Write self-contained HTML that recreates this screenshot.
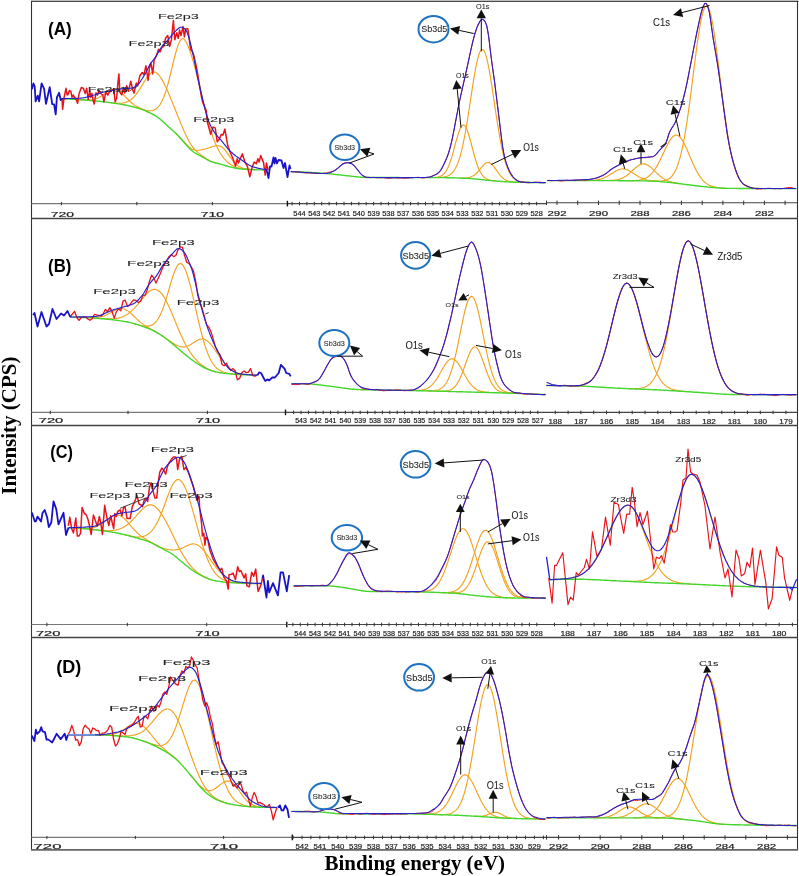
<!DOCTYPE html>
<html><head><meta charset="utf-8"><style>
html,body{margin:0;padding:0;background:#fff;width:799px;height:876px;overflow:hidden}
svg{display:block;will-change:transform}
</style></head><body>
<svg width="799" height="876" viewBox="0 0 799 876"><rect x="0" y="0" width="799" height="876" fill="#fff"/>
<line x1="31" y1="0.5" x2="798.5" y2="0.5" stroke="#bdbdbd" stroke-width="1"/>
<line x1="31" y1="1.5" x2="798.5" y2="1.5" stroke="#4a4a4a" stroke-width="1"/>
<line x1="31.5" y1="1" x2="31.5" y2="850.3" stroke="#333" stroke-width="1.1"/>
<line x1="797.5" y1="1" x2="797.5" y2="850.3" stroke="#333" stroke-width="1.1"/>
<line x1="31" y1="218.5" x2="798" y2="218.5" stroke="#444" stroke-width="1.3"/>
<line x1="31" y1="425.5" x2="798" y2="425.5" stroke="#444" stroke-width="1.3"/>
<line x1="31" y1="637.5" x2="798" y2="637.5" stroke="#444" stroke-width="1.3"/>
<line x1="31" y1="849.8" x2="798" y2="849.8" stroke="#666" stroke-width="1.8"/>
<line x1="31.5" y1="203.6" x2="287.5" y2="203.6" stroke="#777" stroke-width="1.1"/>
<line x1="61.4" y1="201.9" x2="61.4" y2="205.3" stroke="#333" stroke-width="1.0"/>
<line x1="136.8" y1="201.9" x2="136.8" y2="205.3" stroke="#333" stroke-width="1.0"/>
<line x1="212.4" y1="201.9" x2="212.4" y2="205.3" stroke="#333" stroke-width="1.0"/>
<line x1="287.4" y1="200.8" x2="287.4" y2="206.4" stroke="#111" stroke-width="1.4"/>
<text x="62.4" y="216.6" font-family="&quot;Liberation Sans&quot;, sans-serif" font-size="7.70" fill="#222" stroke="#222" stroke-width="0.2" text-anchor="middle" textLength="23.3" lengthAdjust="spacingAndGlyphs">720</text>
<text x="212.4" y="216.6" font-family="&quot;Liberation Sans&quot;, sans-serif" font-size="7.70" fill="#222" stroke="#222" stroke-width="0.2" text-anchor="middle" textLength="23.3" lengthAdjust="spacingAndGlyphs">710</text>
<line x1="288.0" y1="203.6" x2="546.0" y2="203.6" stroke="#444" stroke-width="1.1"/>
<line x1="292.1" y1="201.8" x2="292.1" y2="205.4" stroke="#333" stroke-width="1.0"/>
<line x1="299.5" y1="201.8" x2="299.5" y2="205.4" stroke="#333" stroke-width="1.0"/>
<line x1="306.9" y1="201.8" x2="306.9" y2="205.4" stroke="#333" stroke-width="1.0"/>
<line x1="314.3" y1="201.8" x2="314.3" y2="205.4" stroke="#333" stroke-width="1.0"/>
<line x1="321.7" y1="201.8" x2="321.7" y2="205.4" stroke="#333" stroke-width="1.0"/>
<line x1="329.1" y1="201.8" x2="329.1" y2="205.4" stroke="#333" stroke-width="1.0"/>
<line x1="336.6" y1="201.8" x2="336.6" y2="205.4" stroke="#333" stroke-width="1.0"/>
<line x1="344.0" y1="201.8" x2="344.0" y2="205.4" stroke="#333" stroke-width="1.0"/>
<line x1="351.4" y1="201.8" x2="351.4" y2="205.4" stroke="#333" stroke-width="1.0"/>
<line x1="358.8" y1="201.8" x2="358.8" y2="205.4" stroke="#333" stroke-width="1.0"/>
<line x1="366.2" y1="201.8" x2="366.2" y2="205.4" stroke="#333" stroke-width="1.0"/>
<line x1="373.6" y1="201.8" x2="373.6" y2="205.4" stroke="#333" stroke-width="1.0"/>
<line x1="381.0" y1="201.8" x2="381.0" y2="205.4" stroke="#333" stroke-width="1.0"/>
<line x1="388.4" y1="201.8" x2="388.4" y2="205.4" stroke="#333" stroke-width="1.0"/>
<line x1="395.8" y1="201.8" x2="395.8" y2="205.4" stroke="#333" stroke-width="1.0"/>
<line x1="403.2" y1="201.8" x2="403.2" y2="205.4" stroke="#333" stroke-width="1.0"/>
<line x1="410.6" y1="201.8" x2="410.6" y2="205.4" stroke="#333" stroke-width="1.0"/>
<line x1="418.1" y1="201.8" x2="418.1" y2="205.4" stroke="#333" stroke-width="1.0"/>
<line x1="425.5" y1="201.8" x2="425.5" y2="205.4" stroke="#333" stroke-width="1.0"/>
<line x1="432.9" y1="201.8" x2="432.9" y2="205.4" stroke="#333" stroke-width="1.0"/>
<line x1="440.3" y1="201.8" x2="440.3" y2="205.4" stroke="#333" stroke-width="1.0"/>
<line x1="447.7" y1="201.8" x2="447.7" y2="205.4" stroke="#333" stroke-width="1.0"/>
<line x1="455.1" y1="201.8" x2="455.1" y2="205.4" stroke="#333" stroke-width="1.0"/>
<line x1="462.5" y1="201.8" x2="462.5" y2="205.4" stroke="#333" stroke-width="1.0"/>
<line x1="469.9" y1="201.8" x2="469.9" y2="205.4" stroke="#333" stroke-width="1.0"/>
<line x1="477.3" y1="201.8" x2="477.3" y2="205.4" stroke="#333" stroke-width="1.0"/>
<line x1="484.8" y1="201.8" x2="484.8" y2="205.4" stroke="#333" stroke-width="1.0"/>
<line x1="492.2" y1="201.8" x2="492.2" y2="205.4" stroke="#333" stroke-width="1.0"/>
<line x1="499.6" y1="201.8" x2="499.6" y2="205.4" stroke="#333" stroke-width="1.0"/>
<line x1="507.0" y1="201.8" x2="507.0" y2="205.4" stroke="#333" stroke-width="1.0"/>
<line x1="514.4" y1="201.8" x2="514.4" y2="205.4" stroke="#333" stroke-width="1.0"/>
<line x1="521.8" y1="201.8" x2="521.8" y2="205.4" stroke="#333" stroke-width="1.0"/>
<line x1="529.2" y1="201.8" x2="529.2" y2="205.4" stroke="#333" stroke-width="1.0"/>
<line x1="536.6" y1="201.8" x2="536.6" y2="205.4" stroke="#333" stroke-width="1.0"/>
<text x="299.5" y="215.8" font-family="&quot;Liberation Sans&quot;, sans-serif" font-size="7.40" fill="#222" stroke="#222" stroke-width="0.2" text-anchor="middle">544</text>
<text x="314.3" y="215.8" font-family="&quot;Liberation Sans&quot;, sans-serif" font-size="7.40" fill="#222" stroke="#222" stroke-width="0.2" text-anchor="middle">543</text>
<text x="329.1" y="215.8" font-family="&quot;Liberation Sans&quot;, sans-serif" font-size="7.40" fill="#222" stroke="#222" stroke-width="0.2" text-anchor="middle">542</text>
<text x="344.0" y="215.8" font-family="&quot;Liberation Sans&quot;, sans-serif" font-size="7.40" fill="#222" stroke="#222" stroke-width="0.2" text-anchor="middle">541</text>
<text x="358.8" y="215.8" font-family="&quot;Liberation Sans&quot;, sans-serif" font-size="7.40" fill="#222" stroke="#222" stroke-width="0.2" text-anchor="middle">540</text>
<text x="373.6" y="215.8" font-family="&quot;Liberation Sans&quot;, sans-serif" font-size="7.40" fill="#222" stroke="#222" stroke-width="0.2" text-anchor="middle">539</text>
<text x="388.4" y="215.8" font-family="&quot;Liberation Sans&quot;, sans-serif" font-size="7.40" fill="#222" stroke="#222" stroke-width="0.2" text-anchor="middle">538</text>
<text x="403.2" y="215.8" font-family="&quot;Liberation Sans&quot;, sans-serif" font-size="7.40" fill="#222" stroke="#222" stroke-width="0.2" text-anchor="middle">537</text>
<text x="418.1" y="215.8" font-family="&quot;Liberation Sans&quot;, sans-serif" font-size="7.40" fill="#222" stroke="#222" stroke-width="0.2" text-anchor="middle">536</text>
<text x="432.9" y="215.8" font-family="&quot;Liberation Sans&quot;, sans-serif" font-size="7.40" fill="#222" stroke="#222" stroke-width="0.2" text-anchor="middle">535</text>
<text x="447.7" y="215.8" font-family="&quot;Liberation Sans&quot;, sans-serif" font-size="7.40" fill="#222" stroke="#222" stroke-width="0.2" text-anchor="middle">534</text>
<text x="462.5" y="215.8" font-family="&quot;Liberation Sans&quot;, sans-serif" font-size="7.40" fill="#222" stroke="#222" stroke-width="0.2" text-anchor="middle">533</text>
<text x="477.3" y="215.8" font-family="&quot;Liberation Sans&quot;, sans-serif" font-size="7.40" fill="#222" stroke="#222" stroke-width="0.2" text-anchor="middle">532</text>
<text x="492.2" y="215.8" font-family="&quot;Liberation Sans&quot;, sans-serif" font-size="7.40" fill="#222" stroke="#222" stroke-width="0.2" text-anchor="middle">531</text>
<text x="507.0" y="215.8" font-family="&quot;Liberation Sans&quot;, sans-serif" font-size="7.40" fill="#222" stroke="#222" stroke-width="0.2" text-anchor="middle">530</text>
<text x="521.8" y="215.8" font-family="&quot;Liberation Sans&quot;, sans-serif" font-size="7.40" fill="#222" stroke="#222" stroke-width="0.2" text-anchor="middle">529</text>
<text x="536.6" y="215.8" font-family="&quot;Liberation Sans&quot;, sans-serif" font-size="7.40" fill="#222" stroke="#222" stroke-width="0.2" text-anchor="middle">528</text>
<line x1="546.0" y1="202.8" x2="797.0" y2="202.8" stroke="#444" stroke-width="1.1"/>
<line x1="557.0" y1="200.6" x2="557.0" y2="205.0" stroke="#333" stroke-width="1.0"/>
<line x1="577.7" y1="200.6" x2="577.7" y2="205.0" stroke="#333" stroke-width="1.0"/>
<line x1="598.5" y1="200.6" x2="598.5" y2="205.0" stroke="#333" stroke-width="1.0"/>
<line x1="619.2" y1="200.6" x2="619.2" y2="205.0" stroke="#333" stroke-width="1.0"/>
<line x1="640.0" y1="200.6" x2="640.0" y2="205.0" stroke="#333" stroke-width="1.0"/>
<line x1="660.7" y1="200.6" x2="660.7" y2="205.0" stroke="#333" stroke-width="1.0"/>
<line x1="681.4" y1="200.6" x2="681.4" y2="205.0" stroke="#333" stroke-width="1.0"/>
<line x1="702.2" y1="200.6" x2="702.2" y2="205.0" stroke="#333" stroke-width="1.0"/>
<line x1="722.9" y1="200.6" x2="722.9" y2="205.0" stroke="#333" stroke-width="1.0"/>
<line x1="743.7" y1="200.6" x2="743.7" y2="205.0" stroke="#333" stroke-width="1.0"/>
<line x1="764.4" y1="200.6" x2="764.4" y2="205.0" stroke="#333" stroke-width="1.0"/>
<line x1="785.1" y1="200.6" x2="785.1" y2="205.0" stroke="#333" stroke-width="1.0"/>
<line x1="546.5" y1="200.6" x2="546.5" y2="205.0" stroke="#333" stroke-width="1.0"/>
<text x="557.0" y="216.0" font-family="&quot;Liberation Sans&quot;, sans-serif" font-size="7.70" fill="#222" stroke="#222" stroke-width="0.2" text-anchor="middle" textLength="19.0" lengthAdjust="spacingAndGlyphs">292</text>
<text x="598.5" y="216.0" font-family="&quot;Liberation Sans&quot;, sans-serif" font-size="7.70" fill="#222" stroke="#222" stroke-width="0.2" text-anchor="middle" textLength="19.0" lengthAdjust="spacingAndGlyphs">290</text>
<text x="640.0" y="216.0" font-family="&quot;Liberation Sans&quot;, sans-serif" font-size="7.70" fill="#222" stroke="#222" stroke-width="0.2" text-anchor="middle" textLength="19.0" lengthAdjust="spacingAndGlyphs">288</text>
<text x="681.4" y="216.0" font-family="&quot;Liberation Sans&quot;, sans-serif" font-size="7.70" fill="#222" stroke="#222" stroke-width="0.2" text-anchor="middle" textLength="19.0" lengthAdjust="spacingAndGlyphs">286</text>
<text x="722.9" y="216.0" font-family="&quot;Liberation Sans&quot;, sans-serif" font-size="7.70" fill="#222" stroke="#222" stroke-width="0.2" text-anchor="middle" textLength="19.0" lengthAdjust="spacingAndGlyphs">284</text>
<text x="764.4" y="216.0" font-family="&quot;Liberation Sans&quot;, sans-serif" font-size="7.70" fill="#222" stroke="#222" stroke-width="0.2" text-anchor="middle" textLength="19.0" lengthAdjust="spacingAndGlyphs">282</text>
<line x1="31.5" y1="412.4" x2="285.5" y2="412.4" stroke="#777" stroke-width="1.1"/>
<line x1="50.3" y1="410.7" x2="50.3" y2="414.1" stroke="#333" stroke-width="1.0"/>
<line x1="128.0" y1="410.7" x2="128.0" y2="414.1" stroke="#333" stroke-width="1.0"/>
<line x1="207.4" y1="410.7" x2="207.4" y2="414.1" stroke="#333" stroke-width="1.0"/>
<line x1="285.5" y1="409.6" x2="285.5" y2="415.2" stroke="#111" stroke-width="1.4"/>
<text x="51.0" y="423.4" font-family="&quot;Liberation Sans&quot;, sans-serif" font-size="7.60" fill="#222" stroke="#222" stroke-width="0.2" text-anchor="middle" textLength="24.5" lengthAdjust="spacingAndGlyphs">720</text>
<text x="208.0" y="423.4" font-family="&quot;Liberation Sans&quot;, sans-serif" font-size="7.60" fill="#222" stroke="#222" stroke-width="0.2" text-anchor="middle" textLength="24.5" lengthAdjust="spacingAndGlyphs">710</text>
<line x1="286.0" y1="412.4" x2="546.0" y2="412.4" stroke="#444" stroke-width="1.1"/>
<line x1="293.6" y1="410.6" x2="293.6" y2="414.2" stroke="#333" stroke-width="1.0"/>
<line x1="301.0" y1="410.6" x2="301.0" y2="414.2" stroke="#333" stroke-width="1.0"/>
<line x1="308.4" y1="410.6" x2="308.4" y2="414.2" stroke="#333" stroke-width="1.0"/>
<line x1="315.8" y1="410.6" x2="315.8" y2="414.2" stroke="#333" stroke-width="1.0"/>
<line x1="323.2" y1="410.6" x2="323.2" y2="414.2" stroke="#333" stroke-width="1.0"/>
<line x1="330.6" y1="410.6" x2="330.6" y2="414.2" stroke="#333" stroke-width="1.0"/>
<line x1="338.0" y1="410.6" x2="338.0" y2="414.2" stroke="#333" stroke-width="1.0"/>
<line x1="345.4" y1="410.6" x2="345.4" y2="414.2" stroke="#333" stroke-width="1.0"/>
<line x1="352.8" y1="410.6" x2="352.8" y2="414.2" stroke="#333" stroke-width="1.0"/>
<line x1="360.2" y1="410.6" x2="360.2" y2="414.2" stroke="#333" stroke-width="1.0"/>
<line x1="367.6" y1="410.6" x2="367.6" y2="414.2" stroke="#333" stroke-width="1.0"/>
<line x1="375.0" y1="410.6" x2="375.0" y2="414.2" stroke="#333" stroke-width="1.0"/>
<line x1="382.4" y1="410.6" x2="382.4" y2="414.2" stroke="#333" stroke-width="1.0"/>
<line x1="389.8" y1="410.6" x2="389.8" y2="414.2" stroke="#333" stroke-width="1.0"/>
<line x1="397.2" y1="410.6" x2="397.2" y2="414.2" stroke="#333" stroke-width="1.0"/>
<line x1="404.6" y1="410.6" x2="404.6" y2="414.2" stroke="#333" stroke-width="1.0"/>
<line x1="412.0" y1="410.6" x2="412.0" y2="414.2" stroke="#333" stroke-width="1.0"/>
<line x1="419.4" y1="410.6" x2="419.4" y2="414.2" stroke="#333" stroke-width="1.0"/>
<line x1="426.8" y1="410.6" x2="426.8" y2="414.2" stroke="#333" stroke-width="1.0"/>
<line x1="434.2" y1="410.6" x2="434.2" y2="414.2" stroke="#333" stroke-width="1.0"/>
<line x1="441.6" y1="410.6" x2="441.6" y2="414.2" stroke="#333" stroke-width="1.0"/>
<line x1="449.0" y1="410.6" x2="449.0" y2="414.2" stroke="#333" stroke-width="1.0"/>
<line x1="456.4" y1="410.6" x2="456.4" y2="414.2" stroke="#333" stroke-width="1.0"/>
<line x1="463.8" y1="410.6" x2="463.8" y2="414.2" stroke="#333" stroke-width="1.0"/>
<line x1="471.2" y1="410.6" x2="471.2" y2="414.2" stroke="#333" stroke-width="1.0"/>
<line x1="478.6" y1="410.6" x2="478.6" y2="414.2" stroke="#333" stroke-width="1.0"/>
<line x1="486.0" y1="410.6" x2="486.0" y2="414.2" stroke="#333" stroke-width="1.0"/>
<line x1="493.4" y1="410.6" x2="493.4" y2="414.2" stroke="#333" stroke-width="1.0"/>
<line x1="500.8" y1="410.6" x2="500.8" y2="414.2" stroke="#333" stroke-width="1.0"/>
<line x1="508.2" y1="410.6" x2="508.2" y2="414.2" stroke="#333" stroke-width="1.0"/>
<line x1="515.6" y1="410.6" x2="515.6" y2="414.2" stroke="#333" stroke-width="1.0"/>
<line x1="523.0" y1="410.6" x2="523.0" y2="414.2" stroke="#333" stroke-width="1.0"/>
<line x1="530.4" y1="410.6" x2="530.4" y2="414.2" stroke="#333" stroke-width="1.0"/>
<line x1="537.8" y1="410.6" x2="537.8" y2="414.2" stroke="#333" stroke-width="1.0"/>
<text x="301.0" y="423.4" font-family="&quot;Liberation Sans&quot;, sans-serif" font-size="7.00" fill="#222" stroke="#222" stroke-width="0.2" text-anchor="middle">543</text>
<text x="315.8" y="423.4" font-family="&quot;Liberation Sans&quot;, sans-serif" font-size="7.00" fill="#222" stroke="#222" stroke-width="0.2" text-anchor="middle">542</text>
<text x="330.6" y="423.4" font-family="&quot;Liberation Sans&quot;, sans-serif" font-size="7.00" fill="#222" stroke="#222" stroke-width="0.2" text-anchor="middle">541</text>
<text x="345.4" y="423.4" font-family="&quot;Liberation Sans&quot;, sans-serif" font-size="7.00" fill="#222" stroke="#222" stroke-width="0.2" text-anchor="middle">540</text>
<text x="360.2" y="423.4" font-family="&quot;Liberation Sans&quot;, sans-serif" font-size="7.00" fill="#222" stroke="#222" stroke-width="0.2" text-anchor="middle">539</text>
<text x="375.0" y="423.4" font-family="&quot;Liberation Sans&quot;, sans-serif" font-size="7.00" fill="#222" stroke="#222" stroke-width="0.2" text-anchor="middle">538</text>
<text x="389.8" y="423.4" font-family="&quot;Liberation Sans&quot;, sans-serif" font-size="7.00" fill="#222" stroke="#222" stroke-width="0.2" text-anchor="middle">537</text>
<text x="404.6" y="423.4" font-family="&quot;Liberation Sans&quot;, sans-serif" font-size="7.00" fill="#222" stroke="#222" stroke-width="0.2" text-anchor="middle">536</text>
<text x="419.4" y="423.4" font-family="&quot;Liberation Sans&quot;, sans-serif" font-size="7.00" fill="#222" stroke="#222" stroke-width="0.2" text-anchor="middle">535</text>
<text x="434.2" y="423.4" font-family="&quot;Liberation Sans&quot;, sans-serif" font-size="7.00" fill="#222" stroke="#222" stroke-width="0.2" text-anchor="middle">534</text>
<text x="449.0" y="423.4" font-family="&quot;Liberation Sans&quot;, sans-serif" font-size="7.00" fill="#222" stroke="#222" stroke-width="0.2" text-anchor="middle">533</text>
<text x="463.8" y="423.4" font-family="&quot;Liberation Sans&quot;, sans-serif" font-size="7.00" fill="#222" stroke="#222" stroke-width="0.2" text-anchor="middle">532</text>
<text x="478.6" y="423.4" font-family="&quot;Liberation Sans&quot;, sans-serif" font-size="7.00" fill="#222" stroke="#222" stroke-width="0.2" text-anchor="middle">531</text>
<text x="493.4" y="423.4" font-family="&quot;Liberation Sans&quot;, sans-serif" font-size="7.00" fill="#222" stroke="#222" stroke-width="0.2" text-anchor="middle">530</text>
<text x="508.2" y="423.4" font-family="&quot;Liberation Sans&quot;, sans-serif" font-size="7.00" fill="#222" stroke="#222" stroke-width="0.2" text-anchor="middle">529</text>
<text x="523.0" y="423.4" font-family="&quot;Liberation Sans&quot;, sans-serif" font-size="7.00" fill="#222" stroke="#222" stroke-width="0.2" text-anchor="middle">528</text>
<text x="537.8" y="423.4" font-family="&quot;Liberation Sans&quot;, sans-serif" font-size="7.00" fill="#222" stroke="#222" stroke-width="0.2" text-anchor="middle">527</text>
<line x1="546.0" y1="412.4" x2="797.0" y2="412.4" stroke="#444" stroke-width="1.1"/>
<line x1="555.3" y1="410.6" x2="555.3" y2="414.2" stroke="#333" stroke-width="1.0"/>
<line x1="568.1" y1="410.6" x2="568.1" y2="414.2" stroke="#333" stroke-width="1.0"/>
<line x1="580.9" y1="410.6" x2="580.9" y2="414.2" stroke="#333" stroke-width="1.0"/>
<line x1="593.7" y1="410.6" x2="593.7" y2="414.2" stroke="#333" stroke-width="1.0"/>
<line x1="606.5" y1="410.6" x2="606.5" y2="414.2" stroke="#333" stroke-width="1.0"/>
<line x1="619.3" y1="410.6" x2="619.3" y2="414.2" stroke="#333" stroke-width="1.0"/>
<line x1="632.2" y1="410.6" x2="632.2" y2="414.2" stroke="#333" stroke-width="1.0"/>
<line x1="645.0" y1="410.6" x2="645.0" y2="414.2" stroke="#333" stroke-width="1.0"/>
<line x1="657.8" y1="410.6" x2="657.8" y2="414.2" stroke="#333" stroke-width="1.0"/>
<line x1="670.6" y1="410.6" x2="670.6" y2="414.2" stroke="#333" stroke-width="1.0"/>
<line x1="683.4" y1="410.6" x2="683.4" y2="414.2" stroke="#333" stroke-width="1.0"/>
<line x1="696.2" y1="410.6" x2="696.2" y2="414.2" stroke="#333" stroke-width="1.0"/>
<line x1="709.0" y1="410.6" x2="709.0" y2="414.2" stroke="#333" stroke-width="1.0"/>
<line x1="721.8" y1="410.6" x2="721.8" y2="414.2" stroke="#333" stroke-width="1.0"/>
<line x1="734.6" y1="410.6" x2="734.6" y2="414.2" stroke="#333" stroke-width="1.0"/>
<line x1="747.4" y1="410.6" x2="747.4" y2="414.2" stroke="#333" stroke-width="1.0"/>
<line x1="760.3" y1="410.6" x2="760.3" y2="414.2" stroke="#333" stroke-width="1.0"/>
<line x1="773.1" y1="410.6" x2="773.1" y2="414.2" stroke="#333" stroke-width="1.0"/>
<line x1="785.9" y1="410.6" x2="785.9" y2="414.2" stroke="#333" stroke-width="1.0"/>
<text x="555.3" y="423.6" font-family="&quot;Liberation Sans&quot;, sans-serif" font-size="7.20" fill="#222" stroke="#222" stroke-width="0.2" text-anchor="middle" textLength="13.5" lengthAdjust="spacingAndGlyphs">188</text>
<text x="580.9" y="423.6" font-family="&quot;Liberation Sans&quot;, sans-serif" font-size="7.20" fill="#222" stroke="#222" stroke-width="0.2" text-anchor="middle" textLength="13.5" lengthAdjust="spacingAndGlyphs">187</text>
<text x="606.5" y="423.6" font-family="&quot;Liberation Sans&quot;, sans-serif" font-size="7.20" fill="#222" stroke="#222" stroke-width="0.2" text-anchor="middle" textLength="13.5" lengthAdjust="spacingAndGlyphs">186</text>
<text x="632.2" y="423.6" font-family="&quot;Liberation Sans&quot;, sans-serif" font-size="7.20" fill="#222" stroke="#222" stroke-width="0.2" text-anchor="middle" textLength="13.5" lengthAdjust="spacingAndGlyphs">185</text>
<text x="657.8" y="423.6" font-family="&quot;Liberation Sans&quot;, sans-serif" font-size="7.20" fill="#222" stroke="#222" stroke-width="0.2" text-anchor="middle" textLength="13.5" lengthAdjust="spacingAndGlyphs">184</text>
<text x="683.4" y="423.6" font-family="&quot;Liberation Sans&quot;, sans-serif" font-size="7.20" fill="#222" stroke="#222" stroke-width="0.2" text-anchor="middle" textLength="13.5" lengthAdjust="spacingAndGlyphs">183</text>
<text x="709.0" y="423.6" font-family="&quot;Liberation Sans&quot;, sans-serif" font-size="7.20" fill="#222" stroke="#222" stroke-width="0.2" text-anchor="middle" textLength="13.5" lengthAdjust="spacingAndGlyphs">182</text>
<text x="734.6" y="423.6" font-family="&quot;Liberation Sans&quot;, sans-serif" font-size="7.20" fill="#222" stroke="#222" stroke-width="0.2" text-anchor="middle" textLength="13.5" lengthAdjust="spacingAndGlyphs">181</text>
<text x="760.3" y="423.6" font-family="&quot;Liberation Sans&quot;, sans-serif" font-size="7.20" fill="#222" stroke="#222" stroke-width="0.2" text-anchor="middle" textLength="13.5" lengthAdjust="spacingAndGlyphs">180</text>
<text x="785.9" y="423.6" font-family="&quot;Liberation Sans&quot;, sans-serif" font-size="7.20" fill="#222" stroke="#222" stroke-width="0.2" text-anchor="middle" textLength="13.5" lengthAdjust="spacingAndGlyphs">179</text>
<line x1="31.5" y1="624.5" x2="287.0" y2="624.5" stroke="#777" stroke-width="1.1"/>
<line x1="46.9" y1="622.8" x2="46.9" y2="626.2" stroke="#333" stroke-width="1.0"/>
<line x1="127.3" y1="622.8" x2="127.3" y2="626.2" stroke="#333" stroke-width="1.0"/>
<line x1="206.7" y1="622.8" x2="206.7" y2="626.2" stroke="#333" stroke-width="1.0"/>
<line x1="286.8" y1="621.7" x2="286.8" y2="627.3" stroke="#111" stroke-width="1.4"/>
<text x="48.2" y="635.6" font-family="&quot;Liberation Sans&quot;, sans-serif" font-size="7.60" fill="#222" stroke="#222" stroke-width="0.2" text-anchor="middle" textLength="24.5" lengthAdjust="spacingAndGlyphs">720</text>
<text x="207.5" y="635.6" font-family="&quot;Liberation Sans&quot;, sans-serif" font-size="7.60" fill="#222" stroke="#222" stroke-width="0.2" text-anchor="middle" textLength="24.5" lengthAdjust="spacingAndGlyphs">710</text>
<line x1="288.0" y1="624.5" x2="546.0" y2="624.5" stroke="#444" stroke-width="1.1"/>
<line x1="292.9" y1="622.7" x2="292.9" y2="626.3" stroke="#333" stroke-width="1.0"/>
<line x1="300.3" y1="622.7" x2="300.3" y2="626.3" stroke="#333" stroke-width="1.0"/>
<line x1="307.7" y1="622.7" x2="307.7" y2="626.3" stroke="#333" stroke-width="1.0"/>
<line x1="315.1" y1="622.7" x2="315.1" y2="626.3" stroke="#333" stroke-width="1.0"/>
<line x1="322.5" y1="622.7" x2="322.5" y2="626.3" stroke="#333" stroke-width="1.0"/>
<line x1="329.9" y1="622.7" x2="329.9" y2="626.3" stroke="#333" stroke-width="1.0"/>
<line x1="337.2" y1="622.7" x2="337.2" y2="626.3" stroke="#333" stroke-width="1.0"/>
<line x1="344.6" y1="622.7" x2="344.6" y2="626.3" stroke="#333" stroke-width="1.0"/>
<line x1="352.0" y1="622.7" x2="352.0" y2="626.3" stroke="#333" stroke-width="1.0"/>
<line x1="359.4" y1="622.7" x2="359.4" y2="626.3" stroke="#333" stroke-width="1.0"/>
<line x1="366.8" y1="622.7" x2="366.8" y2="626.3" stroke="#333" stroke-width="1.0"/>
<line x1="374.2" y1="622.7" x2="374.2" y2="626.3" stroke="#333" stroke-width="1.0"/>
<line x1="381.6" y1="622.7" x2="381.6" y2="626.3" stroke="#333" stroke-width="1.0"/>
<line x1="389.0" y1="622.7" x2="389.0" y2="626.3" stroke="#333" stroke-width="1.0"/>
<line x1="396.4" y1="622.7" x2="396.4" y2="626.3" stroke="#333" stroke-width="1.0"/>
<line x1="403.8" y1="622.7" x2="403.8" y2="626.3" stroke="#333" stroke-width="1.0"/>
<line x1="411.1" y1="622.7" x2="411.1" y2="626.3" stroke="#333" stroke-width="1.0"/>
<line x1="418.5" y1="622.7" x2="418.5" y2="626.3" stroke="#333" stroke-width="1.0"/>
<line x1="425.9" y1="622.7" x2="425.9" y2="626.3" stroke="#333" stroke-width="1.0"/>
<line x1="433.3" y1="622.7" x2="433.3" y2="626.3" stroke="#333" stroke-width="1.0"/>
<line x1="440.7" y1="622.7" x2="440.7" y2="626.3" stroke="#333" stroke-width="1.0"/>
<line x1="448.1" y1="622.7" x2="448.1" y2="626.3" stroke="#333" stroke-width="1.0"/>
<line x1="455.5" y1="622.7" x2="455.5" y2="626.3" stroke="#333" stroke-width="1.0"/>
<line x1="462.9" y1="622.7" x2="462.9" y2="626.3" stroke="#333" stroke-width="1.0"/>
<line x1="470.3" y1="622.7" x2="470.3" y2="626.3" stroke="#333" stroke-width="1.0"/>
<line x1="477.7" y1="622.7" x2="477.7" y2="626.3" stroke="#333" stroke-width="1.0"/>
<line x1="485.1" y1="622.7" x2="485.1" y2="626.3" stroke="#333" stroke-width="1.0"/>
<line x1="492.4" y1="622.7" x2="492.4" y2="626.3" stroke="#333" stroke-width="1.0"/>
<line x1="499.8" y1="622.7" x2="499.8" y2="626.3" stroke="#333" stroke-width="1.0"/>
<line x1="507.2" y1="622.7" x2="507.2" y2="626.3" stroke="#333" stroke-width="1.0"/>
<line x1="514.6" y1="622.7" x2="514.6" y2="626.3" stroke="#333" stroke-width="1.0"/>
<line x1="522.0" y1="622.7" x2="522.0" y2="626.3" stroke="#333" stroke-width="1.0"/>
<line x1="529.4" y1="622.7" x2="529.4" y2="626.3" stroke="#333" stroke-width="1.0"/>
<line x1="536.8" y1="622.7" x2="536.8" y2="626.3" stroke="#333" stroke-width="1.0"/>
<text x="300.3" y="635.6" font-family="&quot;Liberation Sans&quot;, sans-serif" font-size="7.20" fill="#222" stroke="#222" stroke-width="0.2" text-anchor="middle">544</text>
<text x="315.1" y="635.6" font-family="&quot;Liberation Sans&quot;, sans-serif" font-size="7.20" fill="#222" stroke="#222" stroke-width="0.2" text-anchor="middle">543</text>
<text x="329.9" y="635.6" font-family="&quot;Liberation Sans&quot;, sans-serif" font-size="7.20" fill="#222" stroke="#222" stroke-width="0.2" text-anchor="middle">542</text>
<text x="344.6" y="635.6" font-family="&quot;Liberation Sans&quot;, sans-serif" font-size="7.20" fill="#222" stroke="#222" stroke-width="0.2" text-anchor="middle">541</text>
<text x="359.4" y="635.6" font-family="&quot;Liberation Sans&quot;, sans-serif" font-size="7.20" fill="#222" stroke="#222" stroke-width="0.2" text-anchor="middle">540</text>
<text x="374.2" y="635.6" font-family="&quot;Liberation Sans&quot;, sans-serif" font-size="7.20" fill="#222" stroke="#222" stroke-width="0.2" text-anchor="middle">539</text>
<text x="389.0" y="635.6" font-family="&quot;Liberation Sans&quot;, sans-serif" font-size="7.20" fill="#222" stroke="#222" stroke-width="0.2" text-anchor="middle">538</text>
<text x="403.8" y="635.6" font-family="&quot;Liberation Sans&quot;, sans-serif" font-size="7.20" fill="#222" stroke="#222" stroke-width="0.2" text-anchor="middle">537</text>
<text x="418.5" y="635.6" font-family="&quot;Liberation Sans&quot;, sans-serif" font-size="7.20" fill="#222" stroke="#222" stroke-width="0.2" text-anchor="middle">536</text>
<text x="433.3" y="635.6" font-family="&quot;Liberation Sans&quot;, sans-serif" font-size="7.20" fill="#222" stroke="#222" stroke-width="0.2" text-anchor="middle">535</text>
<text x="448.1" y="635.6" font-family="&quot;Liberation Sans&quot;, sans-serif" font-size="7.20" fill="#222" stroke="#222" stroke-width="0.2" text-anchor="middle">534</text>
<text x="462.9" y="635.6" font-family="&quot;Liberation Sans&quot;, sans-serif" font-size="7.20" fill="#222" stroke="#222" stroke-width="0.2" text-anchor="middle">533</text>
<text x="477.7" y="635.6" font-family="&quot;Liberation Sans&quot;, sans-serif" font-size="7.20" fill="#222" stroke="#222" stroke-width="0.2" text-anchor="middle">532</text>
<text x="492.4" y="635.6" font-family="&quot;Liberation Sans&quot;, sans-serif" font-size="7.20" fill="#222" stroke="#222" stroke-width="0.2" text-anchor="middle">531</text>
<text x="507.2" y="635.6" font-family="&quot;Liberation Sans&quot;, sans-serif" font-size="7.20" fill="#222" stroke="#222" stroke-width="0.2" text-anchor="middle">530</text>
<text x="522.0" y="635.6" font-family="&quot;Liberation Sans&quot;, sans-serif" font-size="7.20" fill="#222" stroke="#222" stroke-width="0.2" text-anchor="middle">529</text>
<text x="536.8" y="635.6" font-family="&quot;Liberation Sans&quot;, sans-serif" font-size="7.20" fill="#222" stroke="#222" stroke-width="0.2" text-anchor="middle">528</text>
<line x1="546.0" y1="624.5" x2="797.0" y2="624.5" stroke="#444" stroke-width="1.1"/>
<line x1="554.5" y1="622.7" x2="554.5" y2="626.3" stroke="#333" stroke-width="1.0"/>
<line x1="567.7" y1="622.7" x2="567.7" y2="626.3" stroke="#333" stroke-width="1.0"/>
<line x1="580.9" y1="622.7" x2="580.9" y2="626.3" stroke="#333" stroke-width="1.0"/>
<line x1="594.1" y1="622.7" x2="594.1" y2="626.3" stroke="#333" stroke-width="1.0"/>
<line x1="607.4" y1="622.7" x2="607.4" y2="626.3" stroke="#333" stroke-width="1.0"/>
<line x1="620.6" y1="622.7" x2="620.6" y2="626.3" stroke="#333" stroke-width="1.0"/>
<line x1="633.8" y1="622.7" x2="633.8" y2="626.3" stroke="#333" stroke-width="1.0"/>
<line x1="647.0" y1="622.7" x2="647.0" y2="626.3" stroke="#333" stroke-width="1.0"/>
<line x1="660.2" y1="622.7" x2="660.2" y2="626.3" stroke="#333" stroke-width="1.0"/>
<line x1="673.5" y1="622.7" x2="673.5" y2="626.3" stroke="#333" stroke-width="1.0"/>
<line x1="686.7" y1="622.7" x2="686.7" y2="626.3" stroke="#333" stroke-width="1.0"/>
<line x1="699.9" y1="622.7" x2="699.9" y2="626.3" stroke="#333" stroke-width="1.0"/>
<line x1="713.1" y1="622.7" x2="713.1" y2="626.3" stroke="#333" stroke-width="1.0"/>
<line x1="726.3" y1="622.7" x2="726.3" y2="626.3" stroke="#333" stroke-width="1.0"/>
<line x1="739.6" y1="622.7" x2="739.6" y2="626.3" stroke="#333" stroke-width="1.0"/>
<line x1="752.8" y1="622.7" x2="752.8" y2="626.3" stroke="#333" stroke-width="1.0"/>
<line x1="766.0" y1="622.7" x2="766.0" y2="626.3" stroke="#333" stroke-width="1.0"/>
<line x1="779.2" y1="622.7" x2="779.2" y2="626.3" stroke="#333" stroke-width="1.0"/>
<line x1="792.4" y1="622.7" x2="792.4" y2="626.3" stroke="#333" stroke-width="1.0"/>
<text x="567.7" y="635.8" font-family="&quot;Liberation Sans&quot;, sans-serif" font-size="7.40" fill="#222" stroke="#222" stroke-width="0.2" text-anchor="middle" textLength="14.5" lengthAdjust="spacingAndGlyphs">188</text>
<text x="594.1" y="635.8" font-family="&quot;Liberation Sans&quot;, sans-serif" font-size="7.40" fill="#222" stroke="#222" stroke-width="0.2" text-anchor="middle" textLength="14.5" lengthAdjust="spacingAndGlyphs">187</text>
<text x="620.6" y="635.8" font-family="&quot;Liberation Sans&quot;, sans-serif" font-size="7.40" fill="#222" stroke="#222" stroke-width="0.2" text-anchor="middle" textLength="14.5" lengthAdjust="spacingAndGlyphs">186</text>
<text x="647.0" y="635.8" font-family="&quot;Liberation Sans&quot;, sans-serif" font-size="7.40" fill="#222" stroke="#222" stroke-width="0.2" text-anchor="middle" textLength="14.5" lengthAdjust="spacingAndGlyphs">185</text>
<text x="673.5" y="635.8" font-family="&quot;Liberation Sans&quot;, sans-serif" font-size="7.40" fill="#222" stroke="#222" stroke-width="0.2" text-anchor="middle" textLength="14.5" lengthAdjust="spacingAndGlyphs">184</text>
<text x="699.9" y="635.8" font-family="&quot;Liberation Sans&quot;, sans-serif" font-size="7.40" fill="#222" stroke="#222" stroke-width="0.2" text-anchor="middle" textLength="14.5" lengthAdjust="spacingAndGlyphs">183</text>
<text x="726.3" y="635.8" font-family="&quot;Liberation Sans&quot;, sans-serif" font-size="7.40" fill="#222" stroke="#222" stroke-width="0.2" text-anchor="middle" textLength="14.5" lengthAdjust="spacingAndGlyphs">182</text>
<text x="752.8" y="635.8" font-family="&quot;Liberation Sans&quot;, sans-serif" font-size="7.40" fill="#222" stroke="#222" stroke-width="0.2" text-anchor="middle" textLength="14.5" lengthAdjust="spacingAndGlyphs">181</text>
<text x="779.2" y="635.8" font-family="&quot;Liberation Sans&quot;, sans-serif" font-size="7.40" fill="#222" stroke="#222" stroke-width="0.2" text-anchor="middle" textLength="14.5" lengthAdjust="spacingAndGlyphs">180</text>
<text x="805.7" y="635.8" font-family="&quot;Liberation Sans&quot;, sans-serif" font-size="7.40" fill="#222" stroke="#222" stroke-width="0.2" text-anchor="middle" textLength="14.5" lengthAdjust="spacingAndGlyphs">179</text>
<line x1="31.5" y1="837.4" x2="292.0" y2="837.4" stroke="#777" stroke-width="1.1"/>
<line x1="46.9" y1="835.9" x2="46.9" y2="838.9" stroke="#333" stroke-width="1.0"/>
<line x1="135.4" y1="835.9" x2="135.4" y2="838.9" stroke="#333" stroke-width="1.0"/>
<line x1="223.6" y1="835.9" x2="223.6" y2="838.9" stroke="#333" stroke-width="1.0"/>
<line x1="292.3" y1="834.6" x2="292.3" y2="840.2" stroke="#111" stroke-width="1.4"/>
<text x="47.5" y="848.8" font-family="&quot;Liberation Sans&quot;, sans-serif" font-size="7.70" fill="#222" stroke="#222" stroke-width="0.2" text-anchor="middle" textLength="28.0" lengthAdjust="spacingAndGlyphs">720</text>
<text x="224.0" y="848.8" font-family="&quot;Liberation Sans&quot;, sans-serif" font-size="7.70" fill="#222" stroke="#222" stroke-width="0.2" text-anchor="middle" textLength="28.0" lengthAdjust="spacingAndGlyphs">710</text>
<line x1="292.5" y1="837.4" x2="546.0" y2="837.4" stroke="#444" stroke-width="1.1"/>
<line x1="293.1" y1="835.6" x2="293.1" y2="839.2" stroke="#333" stroke-width="1.0"/>
<line x1="302.0" y1="835.6" x2="302.0" y2="839.2" stroke="#333" stroke-width="1.0"/>
<line x1="310.9" y1="835.6" x2="310.9" y2="839.2" stroke="#333" stroke-width="1.0"/>
<line x1="319.9" y1="835.6" x2="319.9" y2="839.2" stroke="#333" stroke-width="1.0"/>
<line x1="328.8" y1="835.6" x2="328.8" y2="839.2" stroke="#333" stroke-width="1.0"/>
<line x1="337.8" y1="835.6" x2="337.8" y2="839.2" stroke="#333" stroke-width="1.0"/>
<line x1="346.7" y1="835.6" x2="346.7" y2="839.2" stroke="#333" stroke-width="1.0"/>
<line x1="355.6" y1="835.6" x2="355.6" y2="839.2" stroke="#333" stroke-width="1.0"/>
<line x1="364.6" y1="835.6" x2="364.6" y2="839.2" stroke="#333" stroke-width="1.0"/>
<line x1="373.5" y1="835.6" x2="373.5" y2="839.2" stroke="#333" stroke-width="1.0"/>
<line x1="382.5" y1="835.6" x2="382.5" y2="839.2" stroke="#333" stroke-width="1.0"/>
<line x1="391.4" y1="835.6" x2="391.4" y2="839.2" stroke="#333" stroke-width="1.0"/>
<line x1="400.3" y1="835.6" x2="400.3" y2="839.2" stroke="#333" stroke-width="1.0"/>
<line x1="409.3" y1="835.6" x2="409.3" y2="839.2" stroke="#333" stroke-width="1.0"/>
<line x1="418.2" y1="835.6" x2="418.2" y2="839.2" stroke="#333" stroke-width="1.0"/>
<line x1="427.2" y1="835.6" x2="427.2" y2="839.2" stroke="#333" stroke-width="1.0"/>
<line x1="436.1" y1="835.6" x2="436.1" y2="839.2" stroke="#333" stroke-width="1.0"/>
<line x1="445.0" y1="835.6" x2="445.0" y2="839.2" stroke="#333" stroke-width="1.0"/>
<line x1="454.0" y1="835.6" x2="454.0" y2="839.2" stroke="#333" stroke-width="1.0"/>
<line x1="462.9" y1="835.6" x2="462.9" y2="839.2" stroke="#333" stroke-width="1.0"/>
<line x1="471.9" y1="835.6" x2="471.9" y2="839.2" stroke="#333" stroke-width="1.0"/>
<line x1="480.8" y1="835.6" x2="480.8" y2="839.2" stroke="#333" stroke-width="1.0"/>
<line x1="489.7" y1="835.6" x2="489.7" y2="839.2" stroke="#333" stroke-width="1.0"/>
<line x1="498.7" y1="835.6" x2="498.7" y2="839.2" stroke="#333" stroke-width="1.0"/>
<line x1="507.6" y1="835.6" x2="507.6" y2="839.2" stroke="#333" stroke-width="1.0"/>
<line x1="516.6" y1="835.6" x2="516.6" y2="839.2" stroke="#333" stroke-width="1.0"/>
<line x1="525.5" y1="835.6" x2="525.5" y2="839.2" stroke="#333" stroke-width="1.0"/>
<line x1="534.4" y1="835.6" x2="534.4" y2="839.2" stroke="#333" stroke-width="1.0"/>
<line x1="543.4" y1="835.6" x2="543.4" y2="839.2" stroke="#333" stroke-width="1.0"/>
<text x="302.0" y="848.6" font-family="&quot;Liberation Sans&quot;, sans-serif" font-size="7.40" fill="#222" stroke="#222" stroke-width="0.2" text-anchor="middle" textLength="13.0" lengthAdjust="spacingAndGlyphs">542</text>
<text x="319.9" y="848.6" font-family="&quot;Liberation Sans&quot;, sans-serif" font-size="7.40" fill="#222" stroke="#222" stroke-width="0.2" text-anchor="middle" textLength="13.0" lengthAdjust="spacingAndGlyphs">541</text>
<text x="337.8" y="848.6" font-family="&quot;Liberation Sans&quot;, sans-serif" font-size="7.40" fill="#222" stroke="#222" stroke-width="0.2" text-anchor="middle" textLength="13.0" lengthAdjust="spacingAndGlyphs">540</text>
<text x="355.6" y="848.6" font-family="&quot;Liberation Sans&quot;, sans-serif" font-size="7.40" fill="#222" stroke="#222" stroke-width="0.2" text-anchor="middle" textLength="13.0" lengthAdjust="spacingAndGlyphs">539</text>
<text x="373.5" y="848.6" font-family="&quot;Liberation Sans&quot;, sans-serif" font-size="7.40" fill="#222" stroke="#222" stroke-width="0.2" text-anchor="middle" textLength="13.0" lengthAdjust="spacingAndGlyphs">538</text>
<text x="391.4" y="848.6" font-family="&quot;Liberation Sans&quot;, sans-serif" font-size="7.40" fill="#222" stroke="#222" stroke-width="0.2" text-anchor="middle" textLength="13.0" lengthAdjust="spacingAndGlyphs">537</text>
<text x="409.3" y="848.6" font-family="&quot;Liberation Sans&quot;, sans-serif" font-size="7.40" fill="#222" stroke="#222" stroke-width="0.2" text-anchor="middle" textLength="13.0" lengthAdjust="spacingAndGlyphs">536</text>
<text x="427.2" y="848.6" font-family="&quot;Liberation Sans&quot;, sans-serif" font-size="7.40" fill="#222" stroke="#222" stroke-width="0.2" text-anchor="middle" textLength="13.0" lengthAdjust="spacingAndGlyphs">535</text>
<text x="445.0" y="848.6" font-family="&quot;Liberation Sans&quot;, sans-serif" font-size="7.40" fill="#222" stroke="#222" stroke-width="0.2" text-anchor="middle" textLength="13.0" lengthAdjust="spacingAndGlyphs">534</text>
<text x="462.9" y="848.6" font-family="&quot;Liberation Sans&quot;, sans-serif" font-size="7.40" fill="#222" stroke="#222" stroke-width="0.2" text-anchor="middle" textLength="13.0" lengthAdjust="spacingAndGlyphs">533</text>
<text x="480.8" y="848.6" font-family="&quot;Liberation Sans&quot;, sans-serif" font-size="7.40" fill="#222" stroke="#222" stroke-width="0.2" text-anchor="middle" textLength="13.0" lengthAdjust="spacingAndGlyphs">532</text>
<text x="498.7" y="848.6" font-family="&quot;Liberation Sans&quot;, sans-serif" font-size="7.40" fill="#222" stroke="#222" stroke-width="0.2" text-anchor="middle" textLength="13.0" lengthAdjust="spacingAndGlyphs">531</text>
<text x="516.6" y="848.6" font-family="&quot;Liberation Sans&quot;, sans-serif" font-size="7.40" fill="#222" stroke="#222" stroke-width="0.2" text-anchor="middle" textLength="13.0" lengthAdjust="spacingAndGlyphs">530</text>
<text x="534.4" y="848.6" font-family="&quot;Liberation Sans&quot;, sans-serif" font-size="7.40" fill="#222" stroke="#222" stroke-width="0.2" text-anchor="middle" textLength="13.0" lengthAdjust="spacingAndGlyphs">529</text>
<line x1="546.0" y1="837.4" x2="797.0" y2="837.4" stroke="#444" stroke-width="1.1"/>
<line x1="558.6" y1="835.2" x2="558.6" y2="839.6" stroke="#333" stroke-width="1.0"/>
<line x1="579.4" y1="835.2" x2="579.4" y2="839.6" stroke="#333" stroke-width="1.0"/>
<line x1="600.2" y1="835.2" x2="600.2" y2="839.6" stroke="#333" stroke-width="1.0"/>
<line x1="621.0" y1="835.2" x2="621.0" y2="839.6" stroke="#333" stroke-width="1.0"/>
<line x1="641.8" y1="835.2" x2="641.8" y2="839.6" stroke="#333" stroke-width="1.0"/>
<line x1="662.6" y1="835.2" x2="662.6" y2="839.6" stroke="#333" stroke-width="1.0"/>
<line x1="683.4" y1="835.2" x2="683.4" y2="839.6" stroke="#333" stroke-width="1.0"/>
<line x1="704.2" y1="835.2" x2="704.2" y2="839.6" stroke="#333" stroke-width="1.0"/>
<line x1="725.0" y1="835.2" x2="725.0" y2="839.6" stroke="#333" stroke-width="1.0"/>
<line x1="745.8" y1="835.2" x2="745.8" y2="839.6" stroke="#333" stroke-width="1.0"/>
<line x1="766.6" y1="835.2" x2="766.6" y2="839.6" stroke="#333" stroke-width="1.0"/>
<line x1="787.4" y1="835.2" x2="787.4" y2="839.6" stroke="#333" stroke-width="1.0"/>
<line x1="546.5" y1="835.2" x2="546.5" y2="839.6" stroke="#333" stroke-width="1.0"/>
<text x="558.6" y="848.8" font-family="&quot;Liberation Sans&quot;, sans-serif" font-size="7.70" fill="#222" stroke="#222" stroke-width="0.2" text-anchor="middle" textLength="19.0" lengthAdjust="spacingAndGlyphs">292</text>
<text x="600.2" y="848.8" font-family="&quot;Liberation Sans&quot;, sans-serif" font-size="7.70" fill="#222" stroke="#222" stroke-width="0.2" text-anchor="middle" textLength="19.0" lengthAdjust="spacingAndGlyphs">290</text>
<text x="641.8" y="848.8" font-family="&quot;Liberation Sans&quot;, sans-serif" font-size="7.70" fill="#222" stroke="#222" stroke-width="0.2" text-anchor="middle" textLength="19.0" lengthAdjust="spacingAndGlyphs">288</text>
<text x="683.4" y="848.8" font-family="&quot;Liberation Sans&quot;, sans-serif" font-size="7.70" fill="#222" stroke="#222" stroke-width="0.2" text-anchor="middle" textLength="19.0" lengthAdjust="spacingAndGlyphs">286</text>
<text x="725.0" y="848.8" font-family="&quot;Liberation Sans&quot;, sans-serif" font-size="7.70" fill="#222" stroke="#222" stroke-width="0.2" text-anchor="middle" textLength="19.0" lengthAdjust="spacingAndGlyphs">284</text>
<text x="766.6" y="848.8" font-family="&quot;Liberation Sans&quot;, sans-serif" font-size="7.70" fill="#222" stroke="#222" stroke-width="0.2" text-anchor="middle" textLength="19.0" lengthAdjust="spacingAndGlyphs">282</text>
<text x="324.5" y="870.0" font-family="&quot;Liberation Serif&quot;, sans-serif" font-size="21.00" font-weight="bold" fill="#000" textLength="180.5" lengthAdjust="spacingAndGlyphs" text-anchor="start">Binding energy (eV)</text>
<text transform="translate(15.8,494.7) rotate(-90)" font-family="&quot;Liberation Serif&quot;, serif" font-size="21" font-weight="bold" fill="#000" textLength="138.2" lengthAdjust="spacingAndGlyphs">Intensity (CPS)</text>
<text x="48.0" y="35.0" font-family="&quot;Liberation Sans&quot;, sans-serif" font-size="18.80" font-weight="bold" fill="#000" textLength="23.8" lengthAdjust="spacingAndGlyphs" text-anchor="start">(A)</text>
<text x="48.1" y="272.2" font-family="&quot;Liberation Sans&quot;, sans-serif" font-size="18.80" font-weight="bold" fill="#000" textLength="23.2" lengthAdjust="spacingAndGlyphs" text-anchor="start">(B)</text>
<text x="50.3" y="458.3" font-family="&quot;Liberation Sans&quot;, sans-serif" font-size="18.80" font-weight="bold" fill="#000" textLength="22.6" lengthAdjust="spacingAndGlyphs" text-anchor="start">(C)</text>
<text x="56.3" y="672.5" font-family="&quot;Liberation Sans&quot;, sans-serif" font-size="18.80" font-weight="bold" fill="#000" textLength="25.0" lengthAdjust="spacingAndGlyphs" text-anchor="start">(D)</text>
<path d="M81.0 99.8L82.0 99.8 83.0 99.9 84.0 99.9 85.0 99.9 86.0 100.0 87.0 100.0 88.0 100.0 89.0 99.9 90.0 99.9 91.0 99.8 92.0 99.7 93.0 99.5 94.0 99.3 95.0 99.0 96.0 98.7 97.0 98.3 98.0 97.9 99.0 97.4 100.0 96.8 101.0 96.2 102.0 95.5 103.0 94.8 104.0 94.1 105.0 93.4 106.0 92.6 107.0 91.9 108.0 91.2 109.0 90.6 110.0 90.1 111.0 89.6 112.0 89.3 113.0 89.1 114.0 89.0 115.0 89.1 116.0 89.3 117.0 89.7 118.0 90.2 119.0 90.8 120.0 91.5 121.0 92.4 122.0 93.3 123.0 94.3 124.0 95.3 125.0 96.4 126.0 97.4 127.0 98.5 128.0 99.5 129.0 100.5 130.0 101.4 131.0 102.3 132.0 103.2 133.0 103.9 134.0 104.7 135.0 105.4 136.0 106.0 137.0 106.6 138.0 107.1 139.0 107.6 140.0 108.1 141.0 108.6 142.0 109.1 143.0 109.5 144.0 110.0 145.0 110.5 146.0 110.9 147.0 111.4 148.0 111.9 149.0 112.4" fill="none" stroke="#f2a21e" stroke-width="1.15" stroke-linejoin="round" />
<path d="M109.0 102.4L110.0 102.5 111.0 102.6 112.0 102.7 113.0 102.8 114.0 102.9 115.0 103.0 116.0 103.1 117.0 103.1 118.0 103.2 119.0 103.2 120.0 103.2 121.0 103.2 122.0 103.1 123.0 103.0 124.0 102.8 125.0 102.6 126.0 102.3 127.0 101.9 128.0 101.5 129.0 100.9 130.0 100.3 131.0 99.6 132.0 98.8 133.0 97.9 134.0 96.8 135.0 95.7 136.0 94.5 137.0 93.1 138.0 91.7 139.0 90.2 140.0 88.6 141.0 87.0 142.0 85.4 143.0 83.7 144.0 82.1 145.0 80.5 146.0 79.0 147.0 77.5 148.0 76.2 149.0 75.0 150.0 74.0 151.0 73.1 152.0 72.5 153.0 72.1 154.0 72.0 155.0 72.1 156.0 72.6 157.0 73.3 158.0 74.2 159.0 75.2 160.0 76.5 161.0 78.0 162.0 79.6 163.0 81.4 164.0 83.4 165.0 85.4 166.0 87.6 167.0 89.8 168.0 92.1 169.0 94.4 170.0 96.8 171.0 99.2 172.0 101.6 173.0 104.1 174.0 106.5 175.0 109.0 176.0 111.5 177.0 114.0 178.0 116.5 179.0 119.0 180.0 121.5 181.0 123.9 182.0 126.3 183.0 128.6 184.0 130.9 185.0 133.1 186.0 135.3 187.0 137.3 188.0 139.3 189.0 141.2 190.0 142.9 191.0 144.5 192.0 146.1 193.0 147.4 194.0 148.7 195.0 149.8 196.0 150.8 197.0 151.7 198.0 152.6 199.0 153.4 200.0 154.1 201.0 154.9 202.0 155.6 203.0 156.3 204.0 157.0 205.0 157.7 206.0 158.4 207.0 159.1 208.0 159.7 209.0 160.3 210.0 160.8 211.0 161.2 212.0 161.6 213.0 162.0 214.0 162.3 215.0 162.6 216.0 162.9" fill="none" stroke="#f2a21e" stroke-width="1.15" stroke-linejoin="round" />
<path d="M136.0 107.5L137.0 107.8 138.0 108.0 139.0 108.3 140.0 108.6 141.0 108.9 142.0 109.2 143.0 109.5 144.0 109.7 145.0 110.0 146.0 110.3 147.0 110.5 148.0 110.7 149.0 110.8 150.0 110.9 151.0 110.8 152.0 110.7 153.0 110.5 154.0 110.1 155.0 109.6 156.0 109.0 157.0 108.2 158.0 107.2 159.0 106.0 160.0 104.6 161.0 102.9 162.0 101.0 163.0 98.9 164.0 96.5 165.0 93.7 166.0 90.7 167.0 87.4 168.0 83.8 169.0 80.0 170.0 76.0 171.0 71.9 172.0 67.7 173.0 63.5 174.0 59.4 175.0 55.5 176.0 51.8 177.0 48.4 178.0 45.4 179.0 42.9 180.0 40.9 181.0 39.5 182.0 38.8 183.0 38.6 184.0 39.2 185.0 40.3 186.0 41.9 187.0 43.8 188.0 46.0 189.0 48.5 190.0 51.2 191.0 54.2 192.0 57.4 193.0 60.8 194.0 64.4 195.0 68.1 196.0 71.9 197.0 75.8 198.0 79.8 199.0 83.9 200.0 88.0 201.0 92.2 202.0 96.4 203.0 100.7 204.0 104.8 205.0 109.0 206.0 113.0 207.0 117.0 208.0 120.8 209.0 124.5 210.0 127.9 211.0 131.2 212.0 134.3 213.0 137.2 214.0 139.9 215.0 142.4 216.0 144.7 217.0 146.9 218.0 148.9 219.0 150.8 220.0 152.6 221.0 154.2 222.0 155.7 223.0 157.1 224.0 158.3 225.0 159.5 226.0 160.6 227.0 161.6 228.0 162.5 229.0 163.3 230.0 164.0 231.0 164.7 232.0 165.3 233.0 165.8 234.0 166.3 235.0 166.8 236.0 167.1 237.0 167.5 238.0 167.8 239.0 168.1 240.0 168.3 241.0 168.5 242.0 168.7 243.0 168.8 244.0 168.9 245.0 169.1 246.0 169.2 247.0 169.2 248.0 169.3 249.0 169.4" fill="none" stroke="#f2a21e" stroke-width="1.15" stroke-linejoin="round" />
<path d="M176.0 133.5L177.0 134.5 178.0 135.5 179.0 136.6 180.0 137.6 181.0 138.7 182.0 139.8 183.0 140.8 184.0 141.9 185.0 143.0 186.0 144.0 187.0 145.0 188.0 145.9 189.0 146.8 190.0 147.6 191.0 148.3 192.0 148.9 193.0 149.4 194.0 149.8 195.0 150.0 196.0 150.2 197.0 150.3 198.0 150.2 199.0 150.2 200.0 150.0 201.0 149.9 202.0 149.7 203.0 149.4 204.0 149.2 205.0 149.0 206.0 148.7 207.0 148.4 208.0 148.2 209.0 147.8 210.0 147.5 211.0 147.1 212.0 146.8 213.0 146.5 214.0 146.2 215.0 145.9 216.0 145.8 217.0 145.7 218.0 145.7 219.0 145.9 220.0 146.1 221.0 146.5 222.0 147.2 223.0 148.0 224.0 149.0 225.0 150.1 226.0 151.3 227.0 152.7 228.0 154.1 229.0 155.5 230.0 156.9 231.0 158.2 232.0 159.6 233.0 160.8 234.0 162.0 235.0 163.1 236.0 164.0 237.0 164.9 238.0 165.7 239.0 166.4 240.0 167.0 241.0 167.4 242.0 167.9 243.0 168.2 244.0 168.5 245.0 168.7 246.0 168.9 247.0 169.1 248.0 169.2 249.0 169.3 250.0 169.4 251.0 169.5 252.0 169.6 253.0 169.6" fill="none" stroke="#f2a21e" stroke-width="1.15" stroke-linejoin="round" />
<path d="M62.0 98.7L63.0 98.7 64.0 98.7 65.0 98.8 66.0 98.8 67.0 98.9 68.0 98.9 69.0 99.0 70.0 99.0 71.0 99.1 72.0 99.2 73.0 99.2 74.0 99.3 75.0 99.4 76.0 99.4 77.0 99.5 78.0 99.6 79.0 99.6 80.0 99.7 81.0 99.8 82.0 99.9 83.0 99.9 84.0 100.0 85.0 100.1 86.0 100.2 87.0 100.3 88.0 100.3 89.0 100.4 90.0 100.5 91.0 100.6 92.0 100.7 93.0 100.8 94.0 100.9 95.0 100.9 96.0 101.0 97.0 101.1 98.0 101.2 99.0 101.3 100.0 101.4 101.0 101.5 102.0 101.6 103.0 101.7 104.0 101.9 105.0 102.0 106.0 102.1 107.0 102.2 108.0 102.3 109.0 102.5 110.0 102.6 111.0 102.7 112.0 102.9 113.0 103.0 114.0 103.1 115.0 103.3 116.0 103.5 117.0 103.6 118.0 103.8 119.0 103.9 120.0 104.1 121.0 104.3 122.0 104.5 123.0 104.6 124.0 104.8 125.0 105.0 126.0 105.2 127.0 105.4 128.0 105.6 129.0 105.8 130.0 106.1 131.0 106.3 132.0 106.5 133.0 106.8 134.0 107.0 135.0 107.3 136.0 107.6 137.0 107.8 138.0 108.1 139.0 108.4 140.0 108.8 141.0 109.1 142.0 109.4 143.0 109.8 144.0 110.2 145.0 110.6 146.0 111.1 147.0 111.5 148.0 112.0 149.0 112.4 150.0 112.9 151.0 113.4 152.0 113.9 153.0 114.5 154.0 115.0 155.0 115.6 156.0 116.2 157.0 116.8 158.0 117.5 159.0 118.3 160.0 119.0 161.0 119.9 162.0 120.8 163.0 121.7 164.0 122.6 165.0 123.5 166.0 124.5 167.0 125.4 168.0 126.3 169.0 127.2 170.0 128.1 171.0 129.0 172.0 129.9 173.0 130.8 174.0 131.7 175.0 132.6 176.0 133.6 177.0 134.6 178.0 135.6 179.0 136.7 180.0 137.8 181.0 138.9 182.0 140.0 183.0 141.2 184.0 142.3 185.0 143.5 186.0 144.6 187.0 145.7 188.0 146.8 189.0 147.9 190.0 148.9 191.0 149.9 192.0 150.8 193.0 151.6 194.0 152.3 195.0 153.0 196.0 153.6 197.0 154.2 198.0 154.7 199.0 155.2 200.0 155.7 201.0 156.2 202.0 156.8 203.0 157.3 204.0 157.9 205.0 158.4 206.0 159.0 207.0 159.6 208.0 160.1 209.0 160.6 210.0 161.1 211.0 161.5 212.0 161.8 213.0 162.2 214.0 162.5 215.0 162.7 216.0 163.0 217.0 163.3 218.0 163.5 219.0 163.8 220.0 164.0 221.0 164.3 222.0 164.6 223.0 164.9 224.0 165.2 225.0 165.5 226.0 165.8 227.0 166.0 228.0 166.3 229.0 166.6 230.0 166.8 231.0 167.1 232.0 167.3 233.0 167.6 234.0 167.8 235.0 168.0 236.0 168.2 237.0 168.4 238.0 168.5 239.0 168.7 240.0 168.8 241.0 168.9 242.0 169.0 243.0 169.1 244.0 169.2 245.0 169.2 246.0 169.3 247.0 169.4 248.0 169.4 249.0 169.5 250.0 169.5 251.0 169.6 252.0 169.6 253.0 169.7 254.0 169.7 255.0 169.8 256.0 169.8 257.0 169.8 258.0 169.9 259.0 169.9 260.0 169.9 261.0 169.9 262.0 169.9 263.0 170.0 264.0 170.0 265.0 170.0 266.0 170.0 267.0 170.0" fill="none" stroke="#44d62c" stroke-width="1.4" stroke-linejoin="round" />
<path d="M62.0 98.6L62.6 109.3 64.1 97.3 66.0 88.3 67.1 95.0 67.9 94.7 69.4 90.5 70.9 91.3 72.0 97.3 73.1 95.0 74.6 97.3 76.1 99.5 77.6 103.3 79.1 93.5 81.4 87.5 83.3 88.3 85.2 93.5 86.7 88.3 88.2 99.5 89.7 90.5 90.8 97.3 91.9 93.5 93.0 99.5 94.2 104.0 96.0 92.8 97.5 95.0 99.0 90.5 100.9 93.5 102.8 95.0 103.9 101.8 105.8 92.0 107.7 95.0 109.5 92.0 111.8 90.5 113.7 89.0 115.2 101.8 116.7 98.0 117.8 83.8 118.9 73.9 119.8 92.1 121.7 94.9 123.5 87.6 124.8 93.1 126.7 85.8 128.5 91.2 130.8 81.2 132.6 89.4 134.0 93.1 136.3 83.0 137.6 85.8 139.9 75.7 142.2 72.5 144.0 74.8 145.9 65.7 148.1 80.3 149.5 67.5 150.9 62.9 152.7 73.9 154.1 60.2 156.4 55.6 158.6 49.2 160.0 52.0 161.8 47.4 163.7 46.5 165.5 38.3 167.8 35.5 169.6 46.5 171.4 39.7 173.4 20.5 174.8 39.7 176.8 32.8 178.2 38.3 179.6 30.1 181.0 35.5 183.0 26.6 184.4 36.9 185.8 28.7 187.8 28.7 189.2 38.3 190.5 49.2 192.6 52.0 194.0 56.1 197.0 70.0 199.0 82.0 201.5 97.2 202.9 102.7 206.3 110.9 207.4 122.2 210.7 134.4 213.1 127.1 215.2 127.9 217.2 141.7 219.2 139.3 221.3 134.4 222.9 135.2 224.9 129.1 226.2 136.9 227.8 145.8 230.2 152.3 232.7 158.0 235.5 166.1 237.1 158.8 238.4 162.9 242.4 153.9 244.9 162.1 247.3 166.1 249.8 176.7 252.2 167.0 254.2 162.1 256.3 163.7 257.9 158.8 259.1 162.1 260.7 155.6 263.6 162.9 265.2 175.1 266.4 162.9 268.1 170.0" fill="none" stroke="#e8141a" stroke-width="1.5" stroke-linejoin="round" />
<path d="M62.0 98.6L63.0 98.6 64.0 98.6 65.0 98.6 66.0 98.6 67.0 98.6 68.0 98.5 69.0 98.5 70.0 98.5 71.0 98.5 72.0 98.5 73.0 98.4 74.0 98.4 75.0 98.4 76.0 98.3 77.0 98.3 78.0 98.3 79.0 98.2 80.0 98.2 81.0 98.1 82.0 98.0 83.0 97.9 84.0 97.7 85.0 97.6 86.0 97.3 87.0 97.1 88.0 96.9 89.0 96.6 90.0 96.3 91.0 96.0 92.0 95.7 93.0 95.3 94.0 95.0 95.0 94.7 96.0 94.4 97.0 94.0 98.0 93.7 99.0 93.4 100.0 93.1 101.0 92.8 102.0 92.5 103.0 92.3 104.0 92.0 105.0 91.8 106.0 91.6 107.0 91.4 108.0 91.2 109.0 91.0 110.0 90.8 111.0 90.6 112.0 90.4 113.0 90.2 114.0 90.0 115.0 89.9 116.0 89.7 117.0 89.5 118.0 89.4 119.0 89.2 120.0 89.1 121.0 88.9 122.0 88.8 123.0 88.7 124.0 88.6 125.0 88.5 126.0 88.5 127.0 88.4 128.0 88.3 129.0 88.3 130.0 88.2 131.0 88.1 132.0 88.0 133.0 87.7 134.0 87.3 135.0 86.8 136.0 86.2 137.0 85.4 138.0 84.6 139.0 83.4 140.0 82.1 141.0 80.5 142.0 79.0 143.0 77.4 144.0 75.8 145.0 74.1 146.0 72.3 147.0 70.4 148.0 68.3 149.0 66.2 150.0 64.3 151.0 62.8 152.0 61.6 153.0 60.4 154.0 59.3 155.0 57.9 156.0 56.3 157.0 54.6 158.0 52.7 159.0 50.9 160.0 49.3 161.0 47.8 162.0 46.5 163.0 45.4 164.0 44.3 165.0 43.2 166.0 42.1 167.0 41.0 168.0 39.8 169.0 38.6 170.0 37.3 171.0 36.1 172.0 35.0 173.0 33.8 174.0 32.6 175.0 31.6 176.0 30.6 177.0 29.7 178.0 28.8 179.0 28.0 180.0 27.4 181.0 27.2 182.0 27.3 183.0 27.7 184.0 28.3 185.0 29.1 186.0 30.3 187.0 32.1 188.0 34.9 189.0 38.1 190.0 41.6 191.0 45.5 192.0 49.8 193.0 54.3 194.0 59.1 195.0 64.2 196.0 69.4 197.0 74.5 198.0 79.2 199.0 83.8 200.0 88.1 201.0 92.4 202.0 96.5 203.0 100.6 204.0 104.7 205.0 108.9 206.0 112.8 207.0 116.3 208.0 119.3 209.0 121.9 210.0 124.3 211.0 126.4 212.0 128.3 213.0 130.1 214.0 131.6 215.0 133.1 216.0 134.4 217.0 135.6 218.0 136.8 219.0 137.9 220.0 139.1 221.0 140.2 222.0 141.4 223.0 142.6 224.0 143.9 225.0 145.1 226.0 146.4 227.0 147.7 228.0 148.8 229.0 150.0 230.0 151.0 231.0 151.9 232.0 152.8 233.0 153.7 234.0 154.5 235.0 155.3 236.0 156.1 237.0 156.8 238.0 157.5 239.0 158.2 240.0 158.9 241.0 159.6 242.0 160.3 243.0 161.0 244.0 161.7 245.0 162.4 246.0 163.1 247.0 163.7 248.0 164.4 249.0 165.0 250.0 165.5 251.0 166.0 252.0 166.4 253.0 166.8 254.0 167.1 255.0 167.4 256.0 167.6 257.0 167.9 258.0 168.2 259.0 168.4 260.0 168.6 261.0 168.8 262.0 169.0 263.0 169.2 264.0 169.3 265.0 169.3 266.0 169.4 267.0 169.4" fill="none" stroke="#2622cc" stroke-width="1.15" stroke-linejoin="round" />
<path d="M31.9 89.4L33.4 83.4 34.7 86.3 35.6 101.3 37.8 95.7 39.1 101.3 41.6 83.4 44.1 88.8 46.0 103.8 49.7 87.2 52.2 104.1 54.1 104.4 55.7 114.4 56.9 97.5 59.1 92.8 60.7 100.0 62.0 98.6" fill="none" stroke="#1812c8" stroke-width="1.8" stroke-linejoin="round" />
<path d="M266.5 169.4L268.5 178.0 270.0 166.5 271.5 166.5 273.5 157.5 274.5 163.5 275.5 158.0 277.0 163.5 278.5 160.0 281.5 160.5 283.5 168.0 285.0 163.0 287.5 177.0 289.5 165.5 290.5 169.0" fill="none" stroke="#1812c8" stroke-width="1.8" stroke-linejoin="round" />
<path d="M434.7 177.5L435.7 177.5 436.7 177.5 437.7 177.5 438.7 177.5 439.7 177.4 440.7 177.4 441.7 177.3 442.7 177.2 443.7 177.0 444.7 176.9 445.7 176.6 446.7 176.3 447.7 176.0 448.7 175.5 449.7 174.9 450.7 174.2 451.7 173.4 452.7 172.3 453.7 171.1 454.7 169.6 455.7 167.8 456.7 165.8 457.7 163.4 458.7 160.7 459.7 157.6 460.7 154.1 461.7 150.2 462.7 145.9 463.7 141.1 464.7 136.0 465.7 130.5 466.7 124.6 467.7 118.5 468.7 112.1 469.7 105.5 470.7 98.9 471.7 92.3 472.7 85.8 473.7 79.5 474.7 73.6 475.7 68.1 476.7 63.2 477.7 58.8 478.7 55.3 479.7 52.5 480.7 50.6 481.7 49.6 482.7 49.5 483.7 50.3 484.7 52.1 485.7 54.8 486.7 58.2 487.7 62.5 488.7 67.4 489.7 72.8 490.7 78.8 491.7 85.1 492.7 91.7 493.7 98.4 494.7 105.2 495.7 111.9 496.7 118.5 497.7 124.9 498.7 131.0 499.7 136.8 500.7 142.2 501.7 147.3 502.7 151.9 503.7 156.1 504.7 159.8 505.7 163.2 506.7 166.2 507.7 168.8 508.7 171.0 509.7 173.0 510.7 174.7 511.7 176.1 512.7 177.3 513.7 178.3 514.7 179.1 515.7 179.8 516.7 180.3 517.7 180.8 518.7 181.2 519.7 181.5 520.7 181.7 521.7 181.9 522.7 182.0 523.7 182.1 524.7 182.2 525.7 182.3 526.7 182.3 527.7 182.4 528.7 182.4 529.7 182.5" fill="none" stroke="#f2a21e" stroke-width="1.15" stroke-linejoin="round" />
<path d="M429.7 177.6L430.7 177.5 431.7 177.5 432.7 177.5 433.7 177.5 434.7 177.4 435.7 177.3 436.7 177.2 437.7 177.1 438.7 176.8 439.7 176.5 440.7 176.1 441.7 175.6 442.7 174.9 443.7 174.0 444.7 173.0 445.7 171.6 446.7 170.0 447.7 168.1 448.7 165.9 449.7 163.3 450.7 160.4 451.7 157.3 452.7 153.9 453.7 150.2 454.7 146.5 455.7 142.7 456.7 139.1 457.7 135.6 458.7 132.5 459.7 129.7 460.7 127.6 461.7 126.0 462.7 125.2 463.7 125.0 464.7 125.6 465.7 127.0 466.7 128.9 467.7 131.5 468.7 134.5 469.7 138.0 470.7 141.6 471.7 145.5 472.7 149.3 473.7 153.1 474.7 156.8 475.7 160.2 476.7 163.3 477.7 166.2 478.7 168.7 479.7 170.9 480.7 172.7 481.7 174.3 482.7 175.6 483.7 176.7 484.7 177.6 485.7 178.3 486.7 178.9 487.7 179.4 488.7 179.7 489.7 180.0 490.7 180.2 491.7 180.4 492.7 180.6 493.7 180.7 494.7 180.8 495.7 181.0 496.7 181.0" fill="none" stroke="#f2a21e" stroke-width="1.15" stroke-linejoin="round" />
<path d="M459.7 178.0L460.7 178.0 461.7 178.1 462.7 178.1 463.7 178.1 464.7 178.0 465.7 178.0 466.7 177.9 467.7 177.8 468.7 177.6 469.7 177.4 470.7 177.0 471.7 176.6 472.7 176.1 473.7 175.5 474.7 174.8 475.7 174.0 476.7 173.0 477.7 171.9 478.7 170.8 479.7 169.6 480.7 168.3 481.7 167.1 482.7 166.0 483.7 164.9 484.7 164.0 485.7 163.3 486.7 162.8 487.7 162.5 488.7 162.6 489.7 162.9 490.7 163.4 491.7 164.2 492.7 165.3 493.7 166.5 494.7 167.8 495.7 169.2 496.7 170.6 497.7 172.0 498.7 173.4 499.7 174.7 500.7 175.9 501.7 177.0 502.7 177.9 503.7 178.7 504.7 179.4 505.7 180.0 506.7 180.5 507.7 180.9 508.7 181.2 509.7 181.4 510.7 181.6 511.7 181.8 512.7 181.9 513.7 182.0 514.7 182.1 515.7 182.2 516.7 182.2 517.7 182.3" fill="none" stroke="#f2a21e" stroke-width="1.15" stroke-linejoin="round" />
<path d="M290.7 171.5L291.7 171.6 292.7 171.6 293.7 171.6 294.7 171.6 295.7 171.7 296.7 171.7 297.7 171.7 298.7 171.8 299.7 171.8 300.7 171.9 301.7 171.9 302.7 172.0 303.7 172.0 304.7 172.1 305.7 172.1 306.7 172.2 307.7 172.2 308.7 172.3 309.7 172.4 310.7 172.4 311.7 172.5 312.7 172.6 313.7 172.6 314.7 172.7 315.7 172.8 316.7 172.8 317.7 172.9 318.7 173.0 319.7 173.0 320.7 173.1 321.7 173.2 322.7 173.3 323.7 173.3 324.7 173.4 325.7 173.5 326.7 173.6 327.7 173.7 328.7 173.7 329.7 173.8 330.7 173.9 331.7 174.0 332.7 174.1 333.7 174.3 334.7 174.4 335.7 174.5 336.7 174.6 337.7 174.7 338.7 174.8 339.7 174.9 340.7 175.0 341.7 175.1 342.7 175.3 343.7 175.4 344.7 175.5 345.7 175.6 346.7 175.7 347.7 175.8 348.7 175.9 349.7 176.0 350.7 176.1 351.7 176.3 352.7 176.4 353.7 176.5 354.7 176.6 355.7 176.7 356.7 176.8 357.7 176.9 358.7 177.0 359.7 177.1 360.7 177.2 361.7 177.2 362.7 177.3 363.7 177.4 364.7 177.4 365.7 177.4 366.7 177.5 367.7 177.5 368.7 177.5 369.7 177.5 370.7 177.5 371.7 177.5 372.7 177.5 373.7 177.5 374.7 177.5 375.7 177.5 376.7 177.5 377.7 177.5 378.7 177.5 379.7 177.5 380.7 177.5 381.7 177.5 382.7 177.5 383.7 177.5 384.7 177.5 385.7 177.5 386.7 177.5 387.7 177.5 388.7 177.5 389.7 177.5 390.7 177.5 391.7 177.5 392.7 177.5 393.7 177.5 394.7 177.5 395.7 177.5 396.7 177.5 397.7 177.5 398.7 177.5 399.7 177.6 400.7 177.6 401.7 177.6 402.7 177.6 403.7 177.6 404.7 177.6 405.7 177.6 406.7 177.6 407.7 177.6 408.7 177.6 409.7 177.6 410.7 177.6 411.7 177.6 412.7 177.6 413.7 177.6 414.7 177.6 415.7 177.6 416.7 177.6 417.7 177.6 418.7 177.6 419.7 177.6 420.7 177.6 421.7 177.6 422.7 177.6 423.7 177.6 424.7 177.6 425.7 177.6 426.7 177.6 427.7 177.6 428.7 177.6 429.7 177.6 430.7 177.6 431.7 177.6 432.7 177.6 433.7 177.6 434.7 177.6 435.7 177.6 436.7 177.6 437.7 177.6 438.7 177.6 439.7 177.6 440.7 177.6 441.7 177.6 442.7 177.6 443.7 177.6 444.7 177.6 445.7 177.7 446.7 177.7 447.7 177.7 448.7 177.7 449.7 177.7 450.7 177.8 451.7 177.8 452.7 177.8 453.7 177.8 454.7 177.9 455.7 177.9 456.7 177.9 457.7 178.0 458.7 178.0 459.7 178.1 460.7 178.1 461.7 178.1 462.7 178.2 463.7 178.2 464.7 178.3 465.7 178.3 466.7 178.4 467.7 178.4 468.7 178.5 469.7 178.5 470.7 178.6 471.7 178.6 472.7 178.7 473.7 178.8 474.7 178.9 475.7 179.0 476.7 179.1 477.7 179.2 478.7 179.3 479.7 179.4 480.7 179.5 481.7 179.6 482.7 179.7 483.7 179.8 484.7 179.9 485.7 180.1 486.7 180.2 487.7 180.3 488.7 180.4 489.7 180.5 490.7 180.6 491.7 180.6 492.7 180.7 493.7 180.8 494.7 180.9 495.7 181.0 496.7 181.1 497.7 181.2 498.7 181.2 499.7 181.3 500.7 181.4 501.7 181.5 502.7 181.5 503.7 181.6 504.7 181.7 505.7 181.7 506.7 181.8 507.7 181.9 508.7 181.9 509.7 182.0 510.7 182.0 511.7 182.1 512.7 182.1 513.7 182.1 514.7 182.2 515.7 182.2 516.7 182.3 517.7 182.3 518.7 182.3 519.7 182.3 520.7 182.4 521.7 182.4 522.7 182.4 523.7 182.4 524.7 182.4 525.7 182.4 526.7 182.5 527.7 182.5 528.7 182.5 529.7 182.5 530.7 182.5 531.7 182.5 532.7 182.5 533.7 182.5 534.7 182.5 535.7 182.6 536.7 182.6 537.7 182.6 538.7 182.6 539.7 182.6 540.7 182.6 541.7 182.6 542.7 182.6 543.7 182.6 544.7 182.6 545.7 182.6" fill="none" stroke="#44d62c" stroke-width="1.4" stroke-linejoin="round" />
<path d="M290.7 171.8L292.7 171.9 294.7 171.9 296.7 171.9 298.7 171.9 300.7 172.2 302.7 172.7 304.7 172.9 306.7 172.9 308.7 172.9 310.7 173.1 312.7 173.4 314.7 173.2 316.7 173.3 318.7 173.5 320.7 173.5 322.7 173.5 324.7 173.0 326.7 173.0 328.7 172.3 330.7 172.0 332.7 171.2 334.7 170.5 336.7 169.1 338.7 167.7 340.7 165.4 342.7 163.8 344.7 162.9 346.7 162.9 348.7 162.7 350.7 163.3 352.7 164.2 354.7 166.2 356.7 168.8 358.7 171.3 360.7 174.0 362.7 175.7 364.7 176.9 366.7 177.5 368.7 177.5 370.7 177.6 372.7 177.4 374.7 177.5 376.7 177.8 378.7 177.7 380.7 177.9 382.7 177.7 384.7 177.9 386.7 178.1 388.7 178.3 390.7 178.2 392.7 177.8 394.7 177.7 396.7 177.9 398.7 178.1 400.7 177.9 402.7 178.1 404.7 178.3 406.7 178.1 408.7 178.0 410.7 177.6 412.7 177.8 414.7 177.5 416.7 177.4 418.7 177.3 420.7 177.7 422.7 178.0 424.7 177.8 426.7 177.4 428.7 177.2 430.7 176.6 432.7 175.9 434.7 174.9 436.7 174.3 438.7 172.9 440.7 170.6 442.7 166.8 444.7 162.6 446.7 158.4 448.7 152.8 450.7 145.7 452.7 136.8 454.7 126.4 456.7 115.8 458.7 105.3 460.7 95.8 462.7 86.8 464.7 78.4 466.7 69.4 468.7 60.4 470.7 51.0 472.7 42.2 474.7 34.7 476.7 28.3 478.7 23.9 480.7 20.2 482.7 19.5 484.7 20.8 486.7 25.4 488.7 36.4 490.7 53.3 492.7 68.6 494.7 83.0 496.7 99.4 498.7 115.4 500.7 131.9 502.7 147.2 504.7 158.0 506.7 164.5 508.7 169.6 510.7 173.7 512.7 176.7 514.7 178.8 516.7 180.2 518.7 181.3 520.7 182.0 522.7 182.0 524.7 182.5 526.7 182.6 528.7 182.8 530.7 182.6 532.7 182.6 534.7 182.2 536.7 182.1 538.7 182.2 540.7 182.2 542.7 182.7 544.7 182.6" fill="none" stroke="#e8141a" stroke-width="1.0" stroke-linejoin="round" />
<path d="M290.7 171.5L291.7 171.6 292.7 171.7 293.7 171.7 294.7 171.8 295.7 171.9 296.7 172.0 297.7 172.0 298.7 172.1 299.7 172.2 300.7 172.2 301.7 172.3 302.7 172.4 303.7 172.4 304.7 172.5 305.7 172.6 306.7 172.6 307.7 172.7 308.7 172.7 309.7 172.8 310.7 172.8 311.7 172.9 312.7 173.0 313.7 173.0 314.7 173.1 315.7 173.1 316.7 173.2 317.7 173.2 318.7 173.3 319.7 173.3 320.7 173.4 321.7 173.4 322.7 173.4 323.7 173.5 324.7 173.5 325.7 173.5 326.7 173.4 327.7 173.3 328.7 173.1 329.7 172.8 330.7 172.4 331.7 172.0 332.7 171.6 333.7 171.1 334.7 170.5 335.7 169.8 336.7 169.0 337.7 168.2 338.7 167.4 339.7 166.5 340.7 165.6 341.7 164.8 342.7 164.2 343.7 163.7 344.7 163.3 345.7 163.0 346.7 162.7 347.7 162.7 348.7 162.7 349.7 163.0 350.7 163.4 351.7 163.9 352.7 164.5 353.7 165.4 354.7 166.4 355.7 167.5 356.7 168.7 357.7 169.9 358.7 171.2 359.7 172.5 360.7 173.7 361.7 174.7 362.7 175.4 363.7 176.0 364.7 176.6 365.7 177.0 366.7 177.2 367.7 177.3 368.7 177.3 369.7 177.4 370.7 177.4 371.7 177.4 372.7 177.4 373.7 177.4 374.7 177.4 375.7 177.5 376.7 177.5 377.7 177.5 378.7 177.5 379.7 177.5 380.7 177.5 381.7 177.5 382.7 177.5 383.7 177.5 384.7 177.6 385.7 177.6 386.7 177.6 387.7 177.6 388.7 177.6 389.7 177.6 390.7 177.6 391.7 177.6 392.7 177.6 393.7 177.6 394.7 177.6 395.7 177.6 396.7 177.6 397.7 177.6 398.7 177.6 399.7 177.6 400.7 177.6 401.7 177.6 402.7 177.6 403.7 177.6 404.7 177.6 405.7 177.6 406.7 177.6 407.7 177.6 408.7 177.6 409.7 177.6 410.7 177.6 411.7 177.6 412.7 177.6 413.7 177.5 414.7 177.5 415.7 177.5 416.7 177.5 417.7 177.5 418.7 177.5 419.7 177.5 420.7 177.5 421.7 177.4 422.7 177.4 423.7 177.4 424.7 177.4 425.7 177.4 426.7 177.3 427.7 177.3 428.7 177.2 429.7 177.1 430.7 176.8 431.7 176.5 432.7 176.0 433.7 175.6 434.7 175.1 435.7 174.6 436.7 174.0 437.7 173.2 438.7 172.3 439.7 171.3 440.7 170.0 441.7 168.4 442.7 166.6 443.7 164.6 444.7 162.5 445.7 160.3 446.7 157.9 447.7 155.3 448.7 152.4 449.7 149.0 450.7 145.3 451.7 141.1 452.7 136.6 453.7 131.5 454.7 126.2 455.7 120.8 456.7 115.5 457.7 110.4 458.7 105.4 459.7 100.5 460.7 95.8 461.7 91.3 462.7 86.8 463.7 82.4 464.7 78.0 465.7 73.5 466.7 68.9 467.7 64.4 468.7 59.8 469.7 55.1 470.7 50.5 471.7 46.1 472.7 41.9 473.7 37.9 474.7 34.2 475.7 30.8 476.7 27.9 477.7 25.5 478.7 23.4 479.7 21.5 480.7 20.1 481.7 19.3 482.7 19.3 483.7 19.9 484.7 21.1 485.7 22.8 486.7 25.8 487.7 30.6 488.7 37.0 489.7 45.0 490.7 53.7 491.7 61.7 492.7 68.5 493.7 75.1 494.7 82.5 495.7 90.6 496.7 98.8 497.7 106.8 498.7 115.0 499.7 123.4 500.7 131.9 501.7 139.8 502.7 147.0 503.7 153.0 504.7 157.6 505.7 161.2 506.7 164.3 507.7 166.9 508.7 169.3 509.7 171.4 510.7 173.2 511.7 174.9 512.7 176.5 513.7 177.7 514.7 178.7 515.7 179.5 516.7 180.2 517.7 180.7 518.7 181.2 519.7 181.6 520.7 181.9 521.7 182.0 522.7 182.1 523.7 182.1 524.7 182.2 525.7 182.2 526.7 182.3 527.7 182.3 528.7 182.3 529.7 182.4 530.7 182.4 531.7 182.4 532.7 182.4 533.7 182.5 534.7 182.5 535.7 182.5 536.7 182.5 537.7 182.5 538.7 182.6 539.7 182.6 540.7 182.6 541.7 182.6 542.7 182.6 543.7 182.6 544.7 182.6 545.7 182.6" fill="none" stroke="#2622cc" stroke-width="1.05" stroke-linejoin="round" />
<path d="M587.3 180.5L588.3 180.5 589.3 180.5 590.3 180.5 591.3 180.4 592.3 180.4 593.3 180.3 594.3 180.2 595.3 180.1 596.3 180.0 597.3 179.8 598.3 179.6 599.3 179.4 600.3 179.2 601.3 178.9 602.3 178.6 603.3 178.2 604.3 177.8 605.3 177.3 606.3 176.8 607.3 176.3 608.3 175.7 609.3 175.1 610.3 174.5 611.3 173.8 612.3 173.2 613.3 172.6 614.3 171.9 615.3 171.3 616.3 170.8 617.3 170.3 618.3 169.8 619.3 169.5 620.3 169.2 621.3 169.0 622.3 168.9 623.3 168.9 624.3 169.0 625.3 169.2 626.3 169.5 627.3 169.9 628.3 170.3 629.3 170.8 630.3 171.4 631.3 172.0 632.3 172.6 633.3 173.3 634.3 173.9 635.3 174.6 636.3 175.2 637.3 175.8 638.3 176.4 639.3 177.0 640.3 177.5 641.3 178.0 642.3 178.4 643.3 178.8 644.3 179.1 645.3 179.5 646.3 179.7 647.3 180.0 648.3 180.2 649.3 180.3 650.3 180.5 651.3 180.6 652.3 180.8 653.3 180.9 654.3 181.0 655.3 181.1 656.3 181.2 657.3 181.3 658.3 181.4 659.3 181.5" fill="none" stroke="#f2a21e" stroke-width="1.15" stroke-linejoin="round" />
<path d="M606.3 180.6L607.3 180.5 608.3 180.5 609.3 180.5 610.3 180.4 611.3 180.4 612.3 180.3 613.3 180.2 614.3 180.1 615.3 180.0 616.3 179.9 617.3 179.7 618.3 179.4 619.3 179.2 620.3 178.9 621.3 178.5 622.3 178.1 623.3 177.6 624.3 177.0 625.3 176.4 626.3 175.8 627.3 175.1 628.3 174.3 629.3 173.4 630.3 172.6 631.3 171.7 632.3 170.7 633.3 169.8 634.3 168.9 635.3 168.0 636.3 167.2 637.3 166.4 638.3 165.7 639.3 165.1 640.3 164.6 641.3 164.2 642.3 164.0 643.3 163.9 644.3 163.9 645.3 164.1 646.3 164.4 647.3 164.9 648.3 165.5 649.3 166.1 650.3 166.9 651.3 167.7 652.3 168.7 653.3 169.6 654.3 170.6 655.3 171.6 656.3 172.6 657.3 173.5 658.3 174.5 659.3 175.4 660.3 176.2 661.3 177.0 662.3 177.8 663.3 178.4 664.3 179.1 665.3 179.6 666.3 180.1 667.3 180.6 668.3 181.0 669.3 181.3 670.3 181.6 671.3 181.9 672.3 182.2 673.3 182.4 674.3 182.6 675.3 182.8 676.3 183.0 677.3 183.2 678.3 183.4 679.3 183.5 680.3 183.7 681.3 183.8" fill="none" stroke="#f2a21e" stroke-width="1.15" stroke-linejoin="round" />
<path d="M629.3 180.7L630.3 180.7 631.3 180.6 632.3 180.6 633.3 180.6 634.3 180.5 635.3 180.5 636.3 180.4 637.3 180.3 638.3 180.2 639.3 180.1 640.3 179.9 641.3 179.7 642.3 179.4 643.3 179.1 644.3 178.7 645.3 178.3 646.3 177.8 647.3 177.2 648.3 176.5 649.3 175.7 650.3 174.8 651.3 173.8 652.3 172.7 653.3 171.5 654.3 170.2 655.3 168.7 656.3 167.1 657.3 165.4 658.3 163.6 659.3 161.7 660.3 159.7 661.3 157.6 662.3 155.5 663.3 153.4 664.3 151.2 665.3 149.1 666.3 147.0 667.3 145.0 668.3 143.1 669.3 141.4 670.3 139.8 671.3 138.4 672.3 137.2 673.3 136.3 674.3 135.6 675.3 135.2 676.3 135.1 677.3 135.3 678.3 135.7 679.3 136.5 680.3 137.5 681.3 138.8 682.3 140.2 683.3 142.0 684.3 143.8 685.3 145.9 686.3 148.0 687.3 150.3 688.3 152.6 689.3 155.0 690.3 157.4 691.3 159.7 692.3 162.0 693.3 164.3 694.3 166.4 695.3 168.5 696.3 170.5 697.3 172.3 698.3 174.1 699.3 175.7 700.3 177.1 701.3 178.5 702.3 179.7 703.3 180.8 704.3 181.8 705.3 182.6 706.3 183.4 707.3 184.1 708.3 184.7 709.3 185.2 710.3 185.6 711.3 186.0 712.3 186.4 713.3 186.7 714.3 186.9 715.3 187.1 716.3 187.3 717.3 187.5 718.3 187.7 719.3 187.8 720.3 187.9 721.3 188.0 722.3 188.1 723.3 188.1 724.3 188.2" fill="none" stroke="#f2a21e" stroke-width="1.15" stroke-linejoin="round" />
<path d="M652.3 181.0L653.3 181.1 654.3 181.1 655.3 181.1 656.3 181.1 657.3 181.1 658.3 181.1 659.3 181.1 660.3 181.1 661.3 181.0 662.3 180.9 663.3 180.8 664.3 180.6 665.3 180.4 666.3 180.0 667.3 179.6 668.3 179.1 669.3 178.5 670.3 177.7 671.3 176.7 672.3 175.6 673.3 174.2 674.3 172.6 675.3 170.8 676.3 168.7 677.3 166.2 678.3 163.4 679.3 160.2 680.3 156.6 681.3 152.6 682.3 148.2 683.3 143.3 684.3 138.0 685.3 132.3 686.3 126.1 687.3 119.6 688.3 112.6 689.3 105.3 690.3 97.8 691.3 90.0 692.3 82.1 693.3 74.1 694.3 66.1 695.3 58.2 696.3 50.6 697.3 43.2 698.3 36.3 699.3 29.8 700.3 24.0 701.3 18.9 702.3 14.5 703.3 11.0 704.3 8.4 705.3 6.7 706.3 6.0 707.3 6.3 708.3 7.6 709.3 9.8 710.3 13.0 711.3 17.0 712.3 21.9 713.3 27.5 714.3 33.8 715.3 40.6 716.3 48.0 717.3 55.6 718.3 63.6 719.3 71.7 720.3 79.9 721.3 88.0 722.3 96.1 723.3 104.0 724.3 111.6 725.3 118.9 726.3 125.9 727.3 132.5 728.3 138.6 729.3 144.3 730.3 149.6 731.3 154.5 732.3 158.8 733.3 162.8 734.3 166.4 735.3 169.5 736.3 172.3 737.3 174.8 738.3 177.0 739.3 178.8 740.3 180.4 741.3 181.8 742.3 183.0 743.3 184.0 744.3 184.8 745.3 185.5 746.3 186.1 747.3 186.6 748.3 187.0 749.3 187.3 750.3 187.6 751.3 187.8 752.3 187.9 753.3 188.1 754.3 188.2 755.3 188.3 756.3 188.3 757.3 188.4 758.3 188.4 759.3 188.5 760.3 188.5 761.3 188.5" fill="none" stroke="#f2a21e" stroke-width="1.15" stroke-linejoin="round" />
<path d="M547.3 180.6L548.3 180.6 549.3 180.6 550.3 180.6 551.3 180.6 552.3 180.6 553.3 180.6 554.3 180.6 555.3 180.6 556.3 180.6 557.3 180.6 558.3 180.6 559.3 180.6 560.3 180.6 561.3 180.6 562.3 180.6 563.3 180.6 564.3 180.6 565.3 180.6 566.3 180.6 567.3 180.6 568.3 180.6 569.3 180.6 570.3 180.6 571.3 180.6 572.3 180.6 573.3 180.6 574.3 180.6 575.3 180.6 576.3 180.6 577.3 180.6 578.3 180.6 579.3 180.6 580.3 180.6 581.3 180.6 582.3 180.6 583.3 180.6 584.3 180.6 585.3 180.6 586.3 180.6 587.3 180.6 588.3 180.6 589.3 180.6 590.3 180.6 591.3 180.6 592.3 180.6 593.3 180.6 594.3 180.6 595.3 180.6 596.3 180.6 597.3 180.6 598.3 180.6 599.3 180.6 600.3 180.6 601.3 180.6 602.3 180.6 603.3 180.6 604.3 180.6 605.3 180.6 606.3 180.6 607.3 180.6 608.3 180.6 609.3 180.6 610.3 180.6 611.3 180.6 612.3 180.6 613.3 180.6 614.3 180.6 615.3 180.6 616.3 180.6 617.3 180.6 618.3 180.7 619.3 180.7 620.3 180.7 621.3 180.7 622.3 180.7 623.3 180.7 624.3 180.7 625.3 180.7 626.3 180.7 627.3 180.7 628.3 180.7 629.3 180.7 630.3 180.7 631.3 180.8 632.3 180.8 633.3 180.8 634.3 180.8 635.3 180.8 636.3 180.8 637.3 180.8 638.3 180.8 639.3 180.8 640.3 180.9 641.3 180.9 642.3 180.9 643.3 180.9 644.3 180.9 645.3 180.9 646.3 180.9 647.3 181.0 648.3 181.0 649.3 181.0 650.3 181.0 651.3 181.1 652.3 181.1 653.3 181.1 654.3 181.2 655.3 181.2 656.3 181.3 657.3 181.4 658.3 181.4 659.3 181.5 660.3 181.6 661.3 181.7 662.3 181.8 663.3 181.9 664.3 182.0 665.3 182.1 666.3 182.1 667.3 182.2 668.3 182.3 669.3 182.4 670.3 182.5 671.3 182.6 672.3 182.8 673.3 182.9 674.3 183.0 675.3 183.1 676.3 183.2 677.3 183.3 678.3 183.5 679.3 183.6 680.3 183.7 681.3 183.9 682.3 184.0 683.3 184.1 684.3 184.3 685.3 184.4 686.3 184.5 687.3 184.7 688.3 184.8 689.3 184.9 690.3 185.0 691.3 185.2 692.3 185.3 693.3 185.4 694.3 185.5 695.3 185.7 696.3 185.8 697.3 185.9 698.3 186.0 699.3 186.2 700.3 186.3 701.3 186.4 702.3 186.5 703.3 186.6 704.3 186.7 705.3 186.8 706.3 186.9 707.3 187.0 708.3 187.1 709.3 187.2 710.3 187.3 711.3 187.4 712.3 187.5 713.3 187.6 714.3 187.6 715.3 187.7 716.3 187.8 717.3 187.9 718.3 187.9 719.3 188.0 720.3 188.1 721.3 188.1 722.3 188.2 723.3 188.2 724.3 188.3 725.3 188.3 726.3 188.3 727.3 188.4 728.3 188.4 729.3 188.4 730.3 188.4 731.3 188.4 732.3 188.4 733.3 188.4 734.3 188.4 735.3 188.4 736.3 188.4 737.3 188.5 738.3 188.5 739.3 188.5 740.3 188.5 741.3 188.5 742.3 188.5 743.3 188.5 744.3 188.5 745.3 188.5 746.3 188.5 747.3 188.5 748.3 188.5 749.3 188.5 750.3 188.5 751.3 188.5 752.3 188.5 753.3 188.5 754.3 188.5 755.3 188.5 756.3 188.5 757.3 188.5 758.3 188.5 759.3 188.5 760.3 188.6 761.3 188.6 762.3 188.6 763.3 188.6 764.3 188.6 765.3 188.6 766.3 188.6 767.3 188.6 768.3 188.6 769.3 188.6 770.3 188.6 771.3 188.6 772.3 188.6 773.3 188.6 774.3 188.6 775.3 188.6 776.3 188.6 777.3 188.6 778.3 188.6 779.3 188.6 780.3 188.6 781.3 188.6 782.3 188.6 783.3 188.6 784.3 188.6 785.3 188.6 786.3 188.6 787.3 188.6 788.3 188.6 789.3 188.6 790.3 188.6 791.3 188.6 792.3 188.6 793.3 188.6 794.3 188.6 795.3 188.6 796.3 188.6" fill="none" stroke="#44d62c" stroke-width="1.4" stroke-linejoin="round" />
<path d="M547.3 180.4L549.3 180.3 551.3 180.8 553.3 180.6 555.3 180.5 557.3 180.6 559.3 180.8 561.3 181.1 563.3 180.8 565.3 180.4 567.3 180.2 569.3 180.5 571.3 180.3 573.3 180.5 575.3 180.1 577.3 180.0 579.3 179.6 581.3 180.0 583.3 180.0 585.3 180.3 587.3 179.9 589.3 179.6 591.3 179.2 593.3 178.7 595.3 178.4 597.3 177.7 599.3 177.0 601.3 176.0 603.3 174.9 605.3 174.1 607.3 172.7 609.3 171.1 611.3 169.3 613.3 168.3 615.3 167.1 617.3 165.9 619.3 164.5 621.3 163.5 623.3 162.8 625.3 162.0 627.3 161.5 629.3 160.4 631.3 159.8 633.3 159.2 635.3 158.9 637.3 158.3 639.3 157.8 641.3 157.8 643.3 157.7 645.3 157.8 647.3 157.4 649.3 157.2 651.3 156.9 653.3 156.6 655.3 155.3 657.3 153.1 659.3 150.7 661.3 148.7 663.3 146.9 665.3 144.7 667.3 139.3 669.3 132.7 671.3 128.9 673.3 126.0 675.3 122.5 677.3 117.6 679.3 112.1 681.3 106.1 683.3 99.1 685.3 90.9 687.3 81.8 689.3 71.2 691.3 61.1 693.3 50.6 695.3 40.6 697.3 30.8 699.3 21.7 701.3 12.8 703.3 6.1 705.3 3.1 707.3 5.2 709.3 12.2 711.3 25.3 713.3 39.2 715.3 50.7 717.3 62.5 719.3 76.0 721.3 90.8 723.3 105.5 725.3 120.0 727.3 133.9 729.3 145.2 731.3 154.4 733.3 162.1 735.3 168.7 737.3 174.4 739.3 179.1 741.3 181.9 743.3 184.1 745.3 185.1 747.3 186.1 749.3 187.0 751.3 187.7 753.3 188.4 755.3 188.6 757.3 189.2 759.3 188.8 761.3 189.0 763.3 188.5 765.3 188.8 767.3 188.3 769.3 188.3 771.3 188.4 773.3 188.7 775.3 188.8 777.3 188.6 779.3 188.8 781.3 188.8 783.3 188.4 785.3 188.1 787.3 187.7 789.3 187.5 791.3 187.5 793.3 188.2 795.3 188.8" fill="none" stroke="#e8141a" stroke-width="1.0" stroke-linejoin="round" />
<path d="M547.3 180.4L548.3 180.4 549.3 180.4 550.3 180.4 551.3 180.4 552.3 180.4 553.3 180.4 554.3 180.4 555.3 180.4 556.3 180.4 557.3 180.4 558.3 180.3 559.3 180.3 560.3 180.3 561.3 180.3 562.3 180.3 563.3 180.3 564.3 180.3 565.3 180.3 566.3 180.3 567.3 180.2 568.3 180.2 569.3 180.2 570.3 180.2 571.3 180.2 572.3 180.2 573.3 180.1 574.3 180.1 575.3 180.1 576.3 180.1 577.3 180.0 578.3 180.0 579.3 179.9 580.3 179.9 581.3 179.8 582.3 179.8 583.3 179.7 584.3 179.7 585.3 179.6 586.3 179.5 587.3 179.5 588.3 179.4 589.3 179.3 590.3 179.2 591.3 179.1 592.3 179.0 593.3 178.8 594.3 178.6 595.3 178.3 596.3 178.0 597.3 177.7 598.3 177.3 599.3 176.9 600.3 176.5 601.3 176.1 602.3 175.7 603.3 175.2 604.3 174.6 605.3 173.9 606.3 173.2 607.3 172.4 608.3 171.6 609.3 170.8 610.3 170.0 611.3 169.3 612.3 168.6 613.3 167.9 614.3 167.3 615.3 166.8 616.3 166.3 617.3 165.7 618.3 165.2 619.3 164.8 620.3 164.3 621.3 163.8 622.3 163.4 623.3 162.9 624.3 162.4 625.3 162.0 626.3 161.5 627.3 161.1 628.3 160.7 629.3 160.3 630.3 159.9 631.3 159.6 632.3 159.4 633.3 159.2 634.3 158.9 635.3 158.7 636.3 158.5 637.3 158.4 638.3 158.2 639.3 158.0 640.3 157.9 641.3 157.8 642.3 157.6 643.3 157.5 644.3 157.4 645.3 157.3 646.3 157.2 647.3 157.2 648.3 157.1 649.3 157.0 650.3 156.9 651.3 156.8 652.3 156.7 653.3 156.4 654.3 155.9 655.3 155.1 656.3 154.0 657.3 152.8 658.3 151.7 659.3 150.5 660.3 149.4 661.3 148.3 662.3 147.2 663.3 146.3 664.3 145.3 665.3 144.0 666.3 142.0 667.3 139.0 668.3 135.6 669.3 132.8 670.3 130.6 671.3 128.9 672.3 127.3 673.3 125.7 674.3 123.9 675.3 121.9 676.3 119.6 677.3 117.1 678.3 114.4 679.3 111.6 680.3 108.6 681.3 105.4 682.3 102.0 683.3 98.3 684.3 94.5 685.3 90.4 686.3 85.9 687.3 81.2 688.3 76.1 689.3 71.0 690.3 65.8 691.3 60.6 692.3 55.5 693.3 50.3 694.3 45.1 695.3 39.9 696.3 34.8 697.3 29.9 698.3 25.1 699.3 20.6 700.3 16.1 701.3 12.1 702.3 8.8 703.3 6.2 704.3 4.2 705.3 3.2 706.3 3.6 707.3 5.4 708.3 8.1 709.3 12.0 710.3 17.8 711.3 25.1 712.3 32.5 713.3 39.1 714.3 45.1 715.3 51.0 716.3 56.9 717.3 62.9 718.3 69.3 719.3 76.1 720.3 83.2 721.3 90.6 722.3 97.9 723.3 105.3 724.3 112.6 725.3 119.9 726.3 127.3 727.3 134.2 728.3 140.2 729.3 145.5 730.3 150.3 731.3 154.7 732.3 158.7 733.3 162.4 734.3 165.8 735.3 168.9 736.3 171.8 737.3 174.4 738.3 176.7 739.3 178.7 740.3 180.4 741.3 181.8 742.3 183.0 743.3 184.1 744.3 184.8 745.3 185.4 746.3 185.9 747.3 186.3 748.3 186.7 749.3 187.1 750.3 187.4 751.3 187.7 752.3 188.0 753.3 188.2 754.3 188.3 755.3 188.4 756.3 188.4 757.3 188.4 758.3 188.4 759.3 188.4 760.3 188.4 761.3 188.4 762.3 188.4 763.3 188.4 764.3 188.4 765.3 188.4 766.3 188.4 767.3 188.4 768.3 188.4 769.3 188.4 770.3 188.4 771.3 188.4 772.3 188.4 773.3 188.4 774.3 188.4 775.3 188.4 776.3 188.4 777.3 188.4 778.3 188.4 779.3 188.4 780.3 188.4 781.3 188.4 782.3 188.4 783.3 188.4 784.3 188.4 785.3 188.4 786.3 188.4 787.3 188.4 788.3 188.4 789.3 188.4 790.3 188.4 791.3 188.4 792.3 188.4 793.3 188.4 794.3 188.4 795.3 188.4 796.3 188.4" fill="none" stroke="#2622cc" stroke-width="1.05" stroke-linejoin="round" />
<text x="157.9" y="18.9" font-family="&quot;Liberation Sans&quot;, sans-serif" font-size="7.60" font-weight="normal" fill="#222" stroke="#222" stroke-width="0.06" textLength="40.9" lengthAdjust="spacingAndGlyphs" text-anchor="start">Fe2p3</text>
<text x="128.6" y="45.9" font-family="&quot;Liberation Sans&quot;, sans-serif" font-size="7.60" font-weight="normal" fill="#222" stroke="#222" stroke-width="0.06" textLength="40.9" lengthAdjust="spacingAndGlyphs" text-anchor="start">Fe2p3</text>
<text x="87.8" y="91.7" font-family="&quot;Liberation Sans&quot;, sans-serif" font-size="7.60" font-weight="normal" fill="#222" stroke="#222" stroke-width="0.06" textLength="40.4" lengthAdjust="spacingAndGlyphs" text-anchor="start">Fe2p3</text>
<polyline points="129.5,91 134,88 137.5,86.5" fill="none" stroke="#333" stroke-width="0.8"/>
<text x="193.3" y="121.5" font-family="&quot;Liberation Sans&quot;, sans-serif" font-size="7.60" font-weight="normal" fill="#222" stroke="#222" stroke-width="0.06" textLength="40.9" lengthAdjust="spacingAndGlyphs" text-anchor="start">Fe2p3</text>
<ellipse cx="344.8" cy="147.3" rx="14.6" ry="12.8" fill="none" stroke="#1f72c2" stroke-width="2.0"/>
<text x="344.8" y="150.0" font-family="&quot;Liberation Sans&quot;, sans-serif" font-size="7.00" font-weight="normal" fill="#222" stroke="#222" stroke-width="0.06" textLength="20.5" lengthAdjust="spacingAndGlyphs" text-anchor="middle">Sb3d3</text>
<polyline points="349.0,163.2 374.0,154.0" fill="none" stroke="#111" stroke-width="1.0"/>
<line x1="374.0" y1="154.0" x2="368.8" y2="152.2" stroke="#111" stroke-width="1.0"/>
<polygon points="360.0,149.2 370.4,147.8 367.3,156.7" fill="#111"/>
<ellipse cx="433.5" cy="29.2" rx="15.0" ry="13.2" fill="none" stroke="#1f72c2" stroke-width="2.0"/>
<text x="434.2" y="32.1" font-family="&quot;Liberation Sans&quot;, sans-serif" font-size="9.60" font-weight="normal" fill="#1a1a1a" stroke="#1a1a1a" stroke-width="0.05" textLength="26.0" lengthAdjust="spacingAndGlyphs" text-anchor="middle">Sb3d5</text>
<line x1="473.8" y1="33.5" x2="459.2" y2="30.4" stroke="#111" stroke-width="1.0"/>
<polygon points="450.0,28.5 460.1,26.0 458.2,34.8" fill="#111"/>
<text x="482.7" y="9.0" font-family="&quot;Liberation Sans&quot;, sans-serif" font-size="7.40" font-weight="normal" fill="#1a1a1a" stroke="#1a1a1a" stroke-width="0.06" textLength="13.4" lengthAdjust="spacingAndGlyphs" text-anchor="middle">O1s</text>
<line x1="481.3" y1="51.3" x2="481.3" y2="18.3" stroke="#111" stroke-width="1.0"/>
<polygon points="481.3,9.4 486.0,18.3 476.6,18.3" fill="#111"/>
<text x="456.0" y="77.8" font-family="&quot;Liberation Sans&quot;, sans-serif" font-size="7.60" font-weight="normal" fill="#1a1a1a" stroke="#1a1a1a" stroke-width="0.06" textLength="12.8" lengthAdjust="spacingAndGlyphs" text-anchor="start">O1s</text>
<line x1="461.0" y1="127.6" x2="457.2" y2="89.0" stroke="#111" stroke-width="1.0"/>
<polygon points="456.3,80.0 461.8,88.5 452.5,89.4" fill="#111"/>
<text x="523.2" y="151.4" font-family="&quot;Liberation Sans&quot;, sans-serif" font-size="10.20" font-weight="normal" fill="#1a1a1a" stroke="#1a1a1a" stroke-width="0.05" textLength="15.7" lengthAdjust="spacingAndGlyphs" text-anchor="start">O1s</text>
<line x1="491.3" y1="164.5" x2="512.9" y2="154.1" stroke="#111" stroke-width="1.0"/>
<polygon points="521.3,150.1 514.9,158.4 510.8,149.9" fill="#111"/>
<text x="653.0" y="25.8" font-family="&quot;Liberation Sans&quot;, sans-serif" font-size="10.60" font-weight="normal" fill="#1a1a1a" stroke="#1a1a1a" stroke-width="0.05" textLength="17.0" lengthAdjust="spacingAndGlyphs" text-anchor="start">C1s</text>
<line x1="709.5" y1="5.5" x2="682.0" y2="12.6" stroke="#111" stroke-width="1.0"/>
<polygon points="673.0,15.0 680.9,8.2 683.2,17.1" fill="#111"/>
<text x="612.9" y="151.7" font-family="&quot;Liberation Sans&quot;, sans-serif" font-size="7.60" font-weight="normal" fill="#1a1a1a" stroke="#1a1a1a" stroke-width="0.06" textLength="19.7" lengthAdjust="spacingAndGlyphs" text-anchor="start">C1s</text>
<line x1="624.7" y1="168.8" x2="623.2" y2="163.2" stroke="#111" stroke-width="1.0"/>
<polygon points="620.8,154.2 627.6,162.1 618.9,164.4" fill="#111"/>
<text x="633.2" y="145.2" font-family="&quot;Liberation Sans&quot;, sans-serif" font-size="7.60" font-weight="normal" fill="#1a1a1a" stroke="#1a1a1a" stroke-width="0.06" textLength="20.0" lengthAdjust="spacingAndGlyphs" text-anchor="start">C1s</text>
<line x1="641.0" y1="163.8" x2="641.0" y2="152.3" stroke="#111" stroke-width="1.0"/>
<polygon points="641.0,143.5 645.4,152.3 636.6,152.3" fill="#111"/>
<text x="665.8" y="105.2" font-family="&quot;Liberation Sans&quot;, sans-serif" font-size="7.60" font-weight="normal" fill="#1a1a1a" stroke="#1a1a1a" stroke-width="0.06" textLength="19.7" lengthAdjust="spacingAndGlyphs" text-anchor="start">C1s</text>
<line x1="679.9" y1="136.2" x2="675.0" y2="113.8" stroke="#111" stroke-width="1.0"/>
<polygon points="673.1,105.2 679.4,112.8 670.6,114.8" fill="#111"/>
<line x1="660.8" y1="147" x2="666.4" y2="143" stroke="#222" stroke-width="1.2"/>
<path d="M86.2 317.6L87.2 317.6 88.2 317.7 89.2 317.7 90.2 317.7 91.2 317.7 92.2 317.7 93.2 317.7 94.2 317.7 95.2 317.7 96.2 317.6 97.2 317.5 98.2 317.4 99.2 317.2 100.2 317.0 101.2 316.8 102.2 316.5 103.2 316.2 104.2 315.9 105.2 315.5 106.2 315.0 107.2 314.5 108.2 314.0 109.2 313.5 110.2 312.9 111.2 312.3 112.2 311.8 113.2 311.2 114.2 310.6 115.2 310.1 116.2 309.7 117.2 309.3 118.2 308.9 119.2 308.7 120.2 308.5 121.2 308.5 122.2 308.6 123.2 308.7 124.2 309.0 125.2 309.4 126.2 309.9 127.2 310.4 128.2 311.1 129.2 311.9 130.2 312.7 131.2 313.6 132.2 314.5 133.2 315.5 134.2 316.5 135.2 317.4 136.2 318.4 137.2 319.4 138.2 320.3 139.2 321.2 140.2 322.1 141.2 322.9 142.2 323.6 143.2 324.4 144.2 325.1 145.2 325.7 146.2 326.4 147.2 327.0 148.2 327.6 149.2 328.1 150.2 328.7 151.2 329.3 152.2 329.8 153.2 330.4 154.2 330.9 155.2 331.5 156.2 332.1 157.2 332.7 158.2 333.3 159.2 333.9" fill="none" stroke="#f2a21e" stroke-width="1.15" stroke-linejoin="round" />
<path d="M99.2 318.4L100.2 318.5 101.2 318.6 102.2 318.6 103.2 318.7 104.2 318.7 105.2 318.8 106.2 318.8 107.2 318.8 108.2 318.8 109.2 318.8 110.2 318.8 111.2 318.8 112.2 318.8 113.2 318.7 114.2 318.7 115.2 318.6 116.2 318.5 117.2 318.3 118.2 318.1 119.2 317.9 120.2 317.6 121.2 317.3 122.2 317.0 123.2 316.5 124.2 316.1 125.2 315.6 126.2 315.0 127.2 314.4 128.2 313.7 129.2 312.9 130.2 312.1 131.2 311.3 132.2 310.4 133.2 309.4 134.2 308.4 135.2 307.3 136.2 306.2 137.2 305.1 138.2 303.9 139.2 302.7 140.2 301.4 141.2 300.2 142.2 299.0 143.2 297.7 144.2 296.5 145.2 295.4 146.2 294.3 147.2 293.3 148.2 292.3 149.2 291.5 150.2 290.8 151.2 290.2 152.2 289.7 153.2 289.4 154.2 289.3 155.2 289.3 156.2 289.5 157.2 289.9 158.2 290.5 159.2 291.2 160.2 292.1 161.2 293.2 162.2 294.4 163.2 295.9 164.2 297.4 165.2 299.1 166.2 301.0 167.2 302.9 168.2 305.0 169.2 307.2 170.2 309.4 171.2 311.7 172.2 314.1 173.2 316.5 174.2 318.9 175.2 321.4 176.2 323.8 177.2 326.2 178.2 328.6 179.2 330.9 180.2 333.2 181.2 335.5 182.2 337.6 183.2 339.7 184.2 341.8 185.2 343.7 186.2 345.6 187.2 347.4 188.2 349.1 189.2 350.7 190.2 352.3 191.2 353.7 192.2 355.1 193.2 356.4 194.2 357.7 195.2 358.8 196.2 359.9 197.2 361.0 198.2 362.0 199.2 362.9 200.2 363.7 201.2 364.6 202.2 365.3 203.2 366.0 204.2 366.7 205.2 367.3 206.2 367.9 207.2 368.4 208.2 369.0 209.2 369.4 210.2 369.9 211.2 370.3 212.2 370.7 213.2 371.0 214.2 371.3 215.2 371.6 216.2 371.8" fill="none" stroke="#f2a21e" stroke-width="1.15" stroke-linejoin="round" />
<path d="M133.2 323.4L134.2 323.6 135.2 323.9 136.2 324.2 137.2 324.5 138.2 324.7 139.2 325.0 140.2 325.2 141.2 325.5 142.2 325.7 143.2 325.8 144.2 326.0 145.2 326.1 146.2 326.1 147.2 326.1 148.2 326.1 149.2 325.9 150.2 325.7 151.2 325.3 152.2 324.9 153.2 324.3 154.2 323.5 155.2 322.6 156.2 321.5 157.2 320.2 158.2 318.7 159.2 317.0 160.2 315.0 161.2 312.8 162.2 310.4 163.2 307.7 164.2 304.9 165.2 301.9 166.2 298.7 167.2 295.4 168.2 292.0 169.2 288.5 170.2 285.1 171.2 281.7 172.2 278.4 173.2 275.3 174.2 272.5 175.2 270.0 176.2 267.8 177.2 266.0 178.2 264.7 179.2 263.8 180.2 263.5 181.2 263.7 182.2 264.5 183.2 265.7 184.2 267.4 185.2 269.4 186.2 271.9 187.2 274.8 188.2 278.0 189.2 281.5 190.2 285.2 191.2 289.2 192.2 293.4 193.2 297.7 194.2 302.1 195.2 306.6 196.2 311.0 197.2 315.5 198.2 319.8 199.2 324.1 200.2 328.2 201.2 332.2 202.2 336.0 203.2 339.6 204.2 343.0 205.2 346.2 206.2 349.2 207.2 351.9 208.2 354.5 209.2 356.8 210.2 358.9 211.2 360.8 212.2 362.5 213.2 364.0 214.2 365.4 215.2 366.6 216.2 367.6 217.2 368.5 218.2 369.3 219.2 370.0 220.2 370.6 221.2 371.1 222.2 371.6 223.2 372.0 224.2 372.3 225.2 372.6 226.2 372.9 227.2 373.1 228.2 373.3 229.2 373.5 230.2 373.7 231.2 373.8 232.2 373.9 233.2 374.0 234.2 374.1 235.2 374.2" fill="none" stroke="#f2a21e" stroke-width="1.15" stroke-linejoin="round" />
<path d="M161.2 335.2L162.2 335.8 163.2 336.5 164.2 337.2 165.2 337.9 166.2 338.5 167.2 339.3 168.2 340.0 169.2 340.7 170.2 341.3 171.2 342.0 172.2 342.7 173.2 343.3 174.2 343.9 175.2 344.5 176.2 345.0 177.2 345.5 178.2 346.0 179.2 346.3 180.2 346.6 181.2 346.8 182.2 346.9 183.2 346.9 184.2 346.9 185.2 346.7 186.2 346.5 187.2 346.2 188.2 345.8 189.2 345.3 190.2 344.8 191.2 344.2 192.2 343.6 193.2 342.9 194.2 342.2 195.2 341.6 196.2 341.0 197.2 340.4 198.2 339.9 199.2 339.5 200.2 339.2 201.2 339.0 202.2 338.9 203.2 339.0 204.2 339.2 205.2 339.6 206.2 340.2 207.2 340.9 208.2 341.7 209.2 342.6 210.2 343.7 211.2 344.9 212.2 346.1 213.2 347.5 214.2 348.9 215.2 350.3 216.2 351.7 217.2 353.2 218.2 354.7 219.2 356.2 220.2 357.6 221.2 359.0 222.2 360.4 223.2 361.7 224.2 363.0 225.2 364.2 226.2 365.3 227.2 366.4 228.2 367.3 229.2 368.2 230.2 369.0 231.2 369.8 232.2 370.4 233.2 371.0 234.2 371.6 235.2 372.1 236.2 372.5 237.2 372.8 238.2 373.2 239.2 373.4 240.2 373.7 241.2 373.9 242.2 374.1 243.2 374.2 244.2 374.4 245.2 374.5 246.2 374.6 247.2 374.7 248.2 374.8 249.2 374.8 250.2 374.9 251.2 374.9" fill="none" stroke="#f2a21e" stroke-width="1.15" stroke-linejoin="round" />
<path d="M70.2 317.0L71.2 317.0 72.2 317.1 73.2 317.1 74.2 317.1 75.2 317.1 76.2 317.2 77.2 317.2 78.2 317.2 79.2 317.3 80.2 317.3 81.2 317.4 82.2 317.4 83.2 317.5 84.2 317.5 85.2 317.6 86.2 317.6 87.2 317.7 88.2 317.8 89.2 317.8 90.2 317.9 91.2 317.9 92.2 318.0 93.2 318.1 94.2 318.2 95.2 318.2 96.2 318.3 97.2 318.4 98.2 318.4 99.2 318.5 100.2 318.6 101.2 318.7 102.2 318.8 103.2 318.8 104.2 318.9 105.2 319.0 106.2 319.1 107.2 319.2 108.2 319.3 109.2 319.4 110.2 319.5 111.2 319.6 112.2 319.7 113.2 319.8 114.2 320.0 115.2 320.1 116.2 320.2 117.2 320.4 118.2 320.5 119.2 320.6 120.2 320.8 121.2 320.9 122.2 321.1 123.2 321.2 124.2 321.4 125.2 321.6 126.2 321.8 127.2 322.0 128.2 322.2 129.2 322.4 130.2 322.6 131.2 322.9 132.2 323.1 133.2 323.4 134.2 323.7 135.2 324.0 136.2 324.3 137.2 324.6 138.2 324.9 139.2 325.2 140.2 325.6 141.2 325.9 142.2 326.2 143.2 326.6 144.2 326.9 145.2 327.3 146.2 327.6 147.2 328.0 148.2 328.4 149.2 328.8 150.2 329.2 151.2 329.7 152.2 330.1 153.2 330.6 154.2 331.1 155.2 331.7 156.2 332.2 157.2 332.8 158.2 333.4 159.2 334.0 160.2 334.6 161.2 335.2 162.2 335.9 163.2 336.6 164.2 337.3 165.2 338.0 166.2 338.8 167.2 339.5 168.2 340.3 169.2 341.1 170.2 341.9 171.2 342.7 172.2 343.5 173.2 344.4 174.2 345.2 175.2 346.1 176.2 347.0 177.2 347.8 178.2 348.7 179.2 349.6 180.2 350.4 181.2 351.3 182.2 352.1 183.2 353.0 184.2 353.8 185.2 354.6 186.2 355.4 187.2 356.2 188.2 357.0 189.2 357.8 190.2 358.6 191.2 359.3 192.2 360.1 193.2 360.8 194.2 361.5 195.2 362.2 196.2 362.8 197.2 363.5 198.2 364.1 199.2 364.7 200.2 365.3 201.2 365.9 202.2 366.5 203.2 367.0 204.2 367.5 205.2 368.0 206.2 368.5 207.2 368.9 208.2 369.4 209.2 369.8 210.2 370.2 211.2 370.5 212.2 370.9 213.2 371.2 214.2 371.5 215.2 371.7 216.2 371.9 217.2 372.1 218.2 372.3 219.2 372.5 220.2 372.7 221.2 372.8 222.2 373.0 223.2 373.1 224.2 373.2 225.2 373.4 226.2 373.5 227.2 373.6 228.2 373.7 229.2 373.8 230.2 373.9 231.2 374.0 232.2 374.1 233.2 374.1 234.2 374.2 235.2 374.3 236.2 374.3 237.2 374.4 238.2 374.5 239.2 374.5 240.2 374.6 241.2 374.6 242.2 374.7 243.2 374.7 244.2 374.8 245.2 374.8 246.2 374.8 247.2 374.9 248.2 374.9 249.2 374.9 250.2 375.0 251.2 375.0 252.2 375.0 253.2 375.0 254.2 375.1 255.2 375.1 256.2 375.1 257.2 375.1" fill="none" stroke="#44d62c" stroke-width="1.4" stroke-linejoin="round" />
<path d="M70.2 317.0L72.4 314.0 74.6 311.3 76.8 317.5 79.0 320.4 81.2 317.5 83.4 316.8 85.6 316.8 87.8 319.0 90.0 320.3 92.2 318.7 94.4 314.3 96.6 314.9 98.8 315.4 101.0 316.2 103.2 313.7 105.4 309.4 107.6 311.8 109.8 307.6 112.0 311.4 114.2 318.1 116.4 311.6 118.6 309.1 120.8 310.8 123.0 301.1 125.2 300.1 127.4 306.3 129.6 305.2 131.8 301.8 134.0 299.8 136.2 300.7 138.4 302.5 140.6 301.3 142.8 295.4 145.0 295.3 147.2 290.0 149.4 281.4 151.6 275.2 153.8 278.1 156.0 283.1 158.2 278.2 160.4 273.5 162.6 267.7 164.8 263.6 167.0 260.1 169.2 256.4 171.4 254.5 173.6 256.6 175.8 255.5 178.0 249.8 180.2 247.1 182.4 247.2 184.6 255.5 186.8 262.5 189.0 263.5 191.2 266.8 193.4 270.9 195.6 280.8 197.8 295.5 200.0 303.4 202.2 308.6 204.4 316.7 206.6 324.6 208.8 327.1 211.0 331.8 213.2 338.9 215.4 346.8 217.6 351.4 219.8 354.5 222.0 364.5 224.2 365.7 226.4 363.2 228.6 367.2 230.8 370.5 233.0 368.6 235.2 370.8 237.4 379.8 239.6 378.4 241.8 372.8 244.0 371.0 246.2 372.6 248.4 372.2 250.6 368.6 252.8 375.5 255.0 376.1 257.2 375.1" fill="none" stroke="#e8141a" stroke-width="1.3" stroke-linejoin="round" />
<path d="M70.2 317.0L71.2 317.0 72.2 317.0 73.2 317.0 74.2 317.0 75.2 317.0 76.2 317.0 77.2 317.0 78.2 316.9 79.2 316.9 80.2 316.9 81.2 316.9 82.2 316.9 83.2 316.9 84.2 316.8 85.2 316.8 86.2 316.8 87.2 316.8 88.2 316.7 89.2 316.7 90.2 316.7 91.2 316.6 92.2 316.6 93.2 316.6 94.2 316.5 95.2 316.5 96.2 316.4 97.2 316.2 98.2 316.0 99.2 315.7 100.2 315.4 101.2 315.0 102.2 314.6 103.2 314.2 104.2 313.7 105.2 313.3 106.2 312.8 107.2 312.3 108.2 311.9 109.2 311.4 110.2 311.0 111.2 310.6 112.2 310.2 113.2 309.9 114.2 309.6 115.2 309.3 116.2 309.0 117.2 308.7 118.2 308.4 119.2 308.2 120.2 307.9 121.2 307.6 122.2 307.3 123.2 307.0 124.2 306.7 125.2 306.4 126.2 306.2 127.2 305.9 128.2 305.6 129.2 305.3 130.2 305.0 131.2 304.7 132.2 304.3 133.2 303.9 134.2 303.3 135.2 302.7 136.2 301.9 137.2 301.0 138.2 300.0 139.2 298.9 140.2 297.7 141.2 296.5 142.2 295.3 143.2 294.0 144.2 292.5 145.2 290.8 146.2 289.1 147.2 287.4 148.2 285.7 149.2 284.2 150.2 282.8 151.2 281.6 152.2 280.5 153.2 279.4 154.2 278.4 155.2 277.3 156.2 276.1 157.2 274.7 158.2 273.1 159.2 271.4 160.2 269.6 161.2 267.9 162.2 266.2 163.2 264.8 164.2 263.5 165.2 262.2 166.2 261.1 167.2 260.0 168.2 258.8 169.2 257.6 170.2 256.4 171.2 255.1 172.2 253.9 173.2 252.8 174.2 251.7 175.2 250.6 176.2 249.6 177.2 248.8 178.2 248.5 179.2 248.5 180.2 248.9 181.2 249.5 182.2 250.3 183.2 251.3 184.2 252.4 185.2 253.8 186.2 255.6 187.2 257.7 188.2 260.1 189.2 262.5 190.2 264.9 191.2 267.5 192.2 270.6 193.2 274.1 194.2 278.0 195.2 282.2 196.2 286.5 197.2 290.8 198.2 294.9 199.2 298.9 200.2 302.9 201.2 306.7 202.2 310.3 203.2 313.8 204.2 317.2 205.2 320.5 206.2 323.6 207.2 326.6 208.2 329.5 209.2 332.1 210.2 334.7 211.2 337.2 212.2 339.6 213.2 341.9 214.2 344.1 215.2 346.3 216.2 348.3 217.2 350.3 218.2 352.2 219.2 354.0 220.2 355.7 221.2 357.4 222.2 359.2 223.2 360.8 224.2 362.5 225.2 364.0 226.2 365.4 227.2 366.7 228.2 367.9 229.2 368.8 230.2 369.6 231.2 370.2 232.2 370.8 233.2 371.3 234.2 371.8 235.2 372.3 236.2 372.7 237.2 373.1 238.2 373.4 239.2 373.6 240.2 373.8 241.2 374.0 242.2 374.1 243.2 374.2 244.2 374.3 245.2 374.4 246.2 374.5 247.2 374.6 248.2 374.7 249.2 374.8 250.2 374.9 251.2 374.9 252.2 375.0 253.2 375.0 254.2 375.0 255.2 375.1 256.2 375.1 257.2 375.1" fill="none" stroke="#2622cc" stroke-width="1.15" stroke-linejoin="round" />
<path d="M257.5 375.2L259.1 372.4 261.0 373.0 265.2 380.9 267.4 379.4 269.3 380.4 272.3 377.4 274.9 377.5 278.7 373.0 280.9 364.8 284.7 368.9 286.2 373.0 289.2 373.8 290.7 376.4" fill="none" stroke="#1812c8" stroke-width="1.8" stroke-linejoin="round" />
<path d="M33.0 315.0L34.5 313.0 37.5 326.5 41.5 312.0 46.5 326.5 49.0 324.0 52.5 309.0 56.5 319.0 61.0 313.5 64.0 315.5 67.5 311.0 70.2 317.0" fill="none" stroke="#1812c8" stroke-width="1.8" stroke-linejoin="round" />
<path d="M426.5 390.9L427.5 390.9 428.5 390.9 429.5 390.9 430.5 390.8 431.5 390.8 432.5 390.7 433.5 390.7 434.5 390.6 435.5 390.4 436.5 390.2 437.5 390.0 438.5 389.7 439.5 389.3 440.5 388.7 441.5 388.1 442.5 387.4 443.5 386.4 444.5 385.3 445.5 384.0 446.5 382.5 447.5 380.7 448.5 378.6 449.5 376.2 450.5 373.6 451.5 370.6 452.5 367.3 453.5 363.6 454.5 359.7 455.5 355.5 456.5 351.0 457.5 346.3 458.5 341.4 459.5 336.4 460.5 331.4 461.5 326.4 462.5 321.6 463.5 316.9 464.5 312.5 465.5 308.5 466.5 305.0 467.5 302.0 468.5 299.6 469.5 297.8 470.5 296.8 471.5 296.4 472.5 296.8 473.5 297.8 474.5 299.6 475.5 302.0 476.5 305.0 477.5 308.6 478.5 312.6 479.5 317.0 480.5 321.7 481.5 326.6 482.5 331.6 483.5 336.7 484.5 341.8 485.5 346.7 486.5 351.5 487.5 356.0 488.5 360.3 489.5 364.3 490.5 368.0 491.5 371.4 492.5 374.5 493.5 377.2 494.5 379.7 495.5 381.8 496.5 383.7 497.5 385.3 498.5 386.7 499.5 387.9 500.5 388.9 501.5 389.7 502.5 390.4 503.5 391.0 504.5 391.4 505.5 391.8 506.5 392.1 507.5 392.4 508.5 392.6 509.5 392.8 510.5 392.9 511.5 393.0 512.5 393.1 513.5 393.2 514.5 393.3 515.5 393.3 516.5 393.4" fill="none" stroke="#f2a21e" stroke-width="1.15" stroke-linejoin="round" />
<path d="M412.5 390.5L413.5 390.5 414.5 390.5 415.5 390.5 416.5 390.5 417.5 390.4 418.5 390.4 419.5 390.3 420.5 390.2 421.5 390.1 422.5 389.9 423.5 389.7 424.5 389.4 425.5 389.1 426.5 388.7 427.5 388.2 428.5 387.7 429.5 387.0 430.5 386.2 431.5 385.4 432.5 384.4 433.5 383.2 434.5 382.0 435.5 380.6 436.5 379.2 437.5 377.6 438.5 376.0 439.5 374.2 440.5 372.5 441.5 370.7 442.5 368.9 443.5 367.2 444.5 365.6 445.5 364.0 446.5 362.6 447.5 361.4 448.5 360.4 449.5 359.6 450.5 359.1 451.5 358.8 452.5 358.8 453.5 359.1 454.5 359.6 455.5 360.4 456.5 361.4 457.5 362.7 458.5 364.1 459.5 365.6 460.5 367.3 461.5 369.1 462.5 370.9 463.5 372.7 464.5 374.5 465.5 376.3 466.5 378.0 467.5 379.7 468.5 381.2 469.5 382.6 470.5 383.9 471.5 385.1 472.5 386.2 473.5 387.2 474.5 388.0 475.5 388.8 476.5 389.4 477.5 389.9 478.5 390.4 479.5 390.8 480.5 391.1 481.5 391.4 482.5 391.6 483.5 391.8 484.5 392.0 485.5 392.1 486.5 392.2 487.5 392.3 488.5 392.4 489.5 392.5 490.5 392.5 491.5 392.6" fill="none" stroke="#f2a21e" stroke-width="1.15" stroke-linejoin="round" />
<path d="M438.5 391.2L439.5 391.2 440.5 391.2 441.5 391.2 442.5 391.2 443.5 391.1 444.5 391.1 445.5 391.0 446.5 390.9 447.5 390.7 448.5 390.5 449.5 390.2 450.5 389.8 451.5 389.3 452.5 388.7 453.5 388.0 454.5 387.0 455.5 385.9 456.5 384.6 457.5 383.1 458.5 381.4 459.5 379.4 460.5 377.3 461.5 374.9 462.5 372.3 463.5 369.6 464.5 366.8 465.5 364.0 466.5 361.1 467.5 358.4 468.5 355.8 469.5 353.4 470.5 351.3 471.5 349.5 472.5 348.2 473.5 347.3 474.5 346.9 475.5 347.0 476.5 347.6 477.5 348.7 478.5 350.2 479.5 352.2 480.5 354.4 481.5 357.0 482.5 359.7 483.5 362.5 484.5 365.5 485.5 368.4 486.5 371.2 487.5 373.9 488.5 376.5 489.5 378.8 490.5 381.0 491.5 382.9 492.5 384.6 493.5 386.1 494.5 387.4 495.5 388.5 496.5 389.4 497.5 390.2 498.5 390.8 499.5 391.3 500.5 391.7 501.5 392.0 502.5 392.3 503.5 392.5 504.5 392.7 505.5 392.8 506.5 392.9 507.5 393.0 508.5 393.1 509.5 393.1 510.5 393.2" fill="none" stroke="#f2a21e" stroke-width="1.15" stroke-linejoin="round" />
<path d="M291.5 383.8L292.5 383.8 293.5 383.8 294.5 383.8 295.5 383.8 296.5 383.8 297.5 383.8 298.5 383.8 299.5 383.8 300.5 383.8 301.5 383.8 302.5 383.8 303.5 383.8 304.5 383.8 305.5 383.8 306.5 383.8 307.5 383.9 308.5 383.9 309.5 383.9 310.5 384.0 311.5 384.0 312.5 384.1 313.5 384.2 314.5 384.3 315.5 384.4 316.5 384.5 317.5 384.6 318.5 384.7 319.5 384.9 320.5 385.0 321.5 385.1 322.5 385.3 323.5 385.4 324.5 385.5 325.5 385.6 326.5 385.8 327.5 385.9 328.5 386.0 329.5 386.1 330.5 386.3 331.5 386.4 332.5 386.5 333.5 386.6 334.5 386.8 335.5 386.9 336.5 387.1 337.5 387.2 338.5 387.4 339.5 387.5 340.5 387.6 341.5 387.8 342.5 387.9 343.5 388.1 344.5 388.2 345.5 388.3 346.5 388.5 347.5 388.6 348.5 388.7 349.5 388.8 350.5 389.0 351.5 389.1 352.5 389.2 353.5 389.2 354.5 389.3 355.5 389.4 356.5 389.5 357.5 389.5 358.5 389.6 359.5 389.6 360.5 389.6 361.5 389.7 362.5 389.7 363.5 389.7 364.5 389.7 365.5 389.8 366.5 389.8 367.5 389.8 368.5 389.8 369.5 389.9 370.5 389.9 371.5 389.9 372.5 389.9 373.5 389.9 374.5 389.9 375.5 390.0 376.5 390.0 377.5 390.0 378.5 390.0 379.5 390.0 380.5 390.0 381.5 390.0 382.5 390.0 383.5 390.1 384.5 390.1 385.5 390.1 386.5 390.1 387.5 390.1 388.5 390.1 389.5 390.1 390.5 390.1 391.5 390.2 392.5 390.2 393.5 390.2 394.5 390.2 395.5 390.2 396.5 390.2 397.5 390.3 398.5 390.3 399.5 390.3 400.5 390.3 401.5 390.3 402.5 390.4 403.5 390.4 404.5 390.4 405.5 390.4 406.5 390.4 407.5 390.5 408.5 390.5 409.5 390.5 410.5 390.5 411.5 390.5 412.5 390.6 413.5 390.6 414.5 390.6 415.5 390.6 416.5 390.7 417.5 390.7 418.5 390.7 419.5 390.7 420.5 390.8 421.5 390.8 422.5 390.8 423.5 390.8 424.5 390.8 425.5 390.9 426.5 390.9 427.5 390.9 428.5 390.9 429.5 391.0 430.5 391.0 431.5 391.0 432.5 391.0 433.5 391.1 434.5 391.1 435.5 391.1 436.5 391.2 437.5 391.2 438.5 391.2 439.5 391.2 440.5 391.3 441.5 391.3 442.5 391.3 443.5 391.3 444.5 391.4 445.5 391.4 446.5 391.4 447.5 391.4 448.5 391.5 449.5 391.5 450.5 391.5 451.5 391.5 452.5 391.6 453.5 391.6 454.5 391.6 455.5 391.6 456.5 391.7 457.5 391.7 458.5 391.7 459.5 391.7 460.5 391.8 461.5 391.8 462.5 391.8 463.5 391.9 464.5 391.9 465.5 391.9 466.5 391.9 467.5 392.0 468.5 392.0 469.5 392.0 470.5 392.0 471.5 392.1 472.5 392.1 473.5 392.1 474.5 392.1 475.5 392.2 476.5 392.2 477.5 392.2 478.5 392.3 479.5 392.3 480.5 392.3 481.5 392.3 482.5 392.4 483.5 392.4 484.5 392.4 485.5 392.5 486.5 392.5 487.5 392.5 488.5 392.5 489.5 392.6 490.5 392.6 491.5 392.6 492.5 392.7 493.5 392.7 494.5 392.7 495.5 392.7 496.5 392.8 497.5 392.8 498.5 392.8 499.5 392.9 500.5 392.9 501.5 392.9 502.5 393.0 503.5 393.0 504.5 393.0 505.5 393.0 506.5 393.1 507.5 393.1 508.5 393.1 509.5 393.2 510.5 393.2 511.5 393.2 512.5 393.3 513.5 393.3 514.5 393.3 515.5 393.4 516.5 393.4 517.5 393.4 518.5 393.5 519.5 393.5 520.5 393.5 521.5 393.6 522.5 393.6 523.5 393.7 524.5 393.7 525.5 393.7 526.5 393.8 527.5 393.8 528.5 393.9 529.5 393.9 530.5 393.9 531.5 394.0 532.5 394.0 533.5 394.1 534.5 394.1 535.5 394.1 536.5 394.2 537.5 394.2 538.5 394.3 539.5 394.3 540.5 394.4 541.5 394.4 542.5 394.4 543.5 394.5 544.5 394.5 545.5 394.5" fill="none" stroke="#44d62c" stroke-width="1.4" stroke-linejoin="round" />
<path d="M291.5 384.4L293.5 384.5 295.5 384.6 297.5 384.5 299.5 384.3 301.5 383.6 303.5 383.7 305.5 384.1 307.5 384.5 309.5 384.1 311.5 383.1 313.5 382.2 315.5 381.6 317.5 380.6 319.5 378.8 321.5 375.8 323.5 372.4 325.5 368.7 327.5 365.0 329.5 361.7 331.5 358.9 333.5 357.5 335.5 356.8 337.5 356.4 339.5 355.9 341.5 356.7 343.5 358.3 345.5 361.6 347.5 366.2 349.5 372.6 351.5 377.3 353.5 380.0 355.5 382.3 357.5 384.2 359.5 386.3 361.5 387.9 363.5 388.8 365.5 389.1 367.5 388.9 369.5 389.2 371.5 389.5 373.5 389.6 375.5 389.7 377.5 389.6 379.5 390.1 381.5 390.4 383.5 390.9 385.5 390.6 387.5 390.5 389.5 390.3 391.5 390.4 393.5 390.3 395.5 390.0 397.5 389.9 399.5 390.1 401.5 390.3 403.5 390.7 405.5 390.7 407.5 390.4 409.5 390.2 411.5 390.0 413.5 390.0 415.5 389.2 417.5 388.4 419.5 387.2 421.5 385.5 423.5 383.3 425.5 381.4 427.5 379.5 429.5 376.6 431.5 373.6 433.5 370.2 435.5 366.7 437.5 361.7 439.5 356.8 441.5 351.1 443.5 345.9 445.5 339.1 447.5 332.0 449.5 323.3 451.5 314.9 453.5 305.4 455.5 296.1 457.5 286.7 459.5 277.7 461.5 269.5 463.5 261.3 465.5 253.9 467.5 247.9 469.5 243.7 471.5 242.1 473.5 243.9 475.5 247.9 477.5 253.2 479.5 260.4 481.5 269.9 483.5 281.8 485.5 294.7 487.5 308.0 489.5 321.7 491.5 334.9 493.5 347.2 495.5 357.4 497.5 366.1 499.5 374.1 501.5 379.7 503.5 383.7 505.5 386.1 507.5 388.2 509.5 389.8 511.5 391.3 513.5 392.5 515.5 392.9 517.5 393.0 519.5 393.1 521.5 393.4 523.5 394.0 525.5 394.0 527.5 394.2 529.5 393.8 531.5 394.2 533.5 394.1 535.5 394.2 537.5 394.1 539.5 394.6 541.5 394.7 543.5 394.5 545.5 394.3" fill="none" stroke="#e8141a" stroke-width="1.0" stroke-linejoin="round" />
<path d="M291.5 383.8L292.5 383.8 293.5 383.8 294.5 383.8 295.5 383.8 296.5 383.8 297.5 383.8 298.5 383.8 299.5 383.8 300.5 383.8 301.5 383.8 302.5 383.8 303.5 383.8 304.5 383.8 305.5 383.8 306.5 383.8 307.5 383.8 308.5 383.7 309.5 383.5 310.5 383.3 311.5 383.1 312.5 382.7 313.5 382.4 314.5 382.0 315.5 381.5 316.5 381.1 317.5 380.5 318.5 379.7 319.5 378.5 320.5 377.1 321.5 375.5 322.5 373.8 323.5 372.1 324.5 370.3 325.5 368.5 326.5 366.6 327.5 364.7 328.5 363.1 329.5 361.4 330.5 359.9 331.5 358.5 332.5 357.5 333.5 356.8 334.5 356.3 335.5 355.9 336.5 355.7 337.5 355.6 338.5 355.7 339.5 355.8 340.5 356.1 341.5 356.7 342.5 357.6 343.5 358.7 344.5 360.2 345.5 361.9 346.5 364.0 347.5 366.5 348.5 369.4 349.5 372.3 350.5 374.7 351.5 376.7 352.5 378.5 353.5 380.0 354.5 381.4 355.5 382.5 356.5 383.6 357.5 384.6 358.5 385.4 359.5 386.1 360.5 386.7 361.5 387.2 362.5 387.6 363.5 387.9 364.5 388.2 365.5 388.5 366.5 388.8 367.5 389.0 368.5 389.2 369.5 389.4 370.5 389.5 371.5 389.6 372.5 389.6 373.5 389.7 374.5 389.7 375.5 389.7 376.5 389.8 377.5 389.8 378.5 389.8 379.5 389.9 380.5 389.9 381.5 389.9 382.5 390.0 383.5 390.0 384.5 390.0 385.5 390.0 386.5 390.0 387.5 390.1 388.5 390.1 389.5 390.1 390.5 390.1 391.5 390.1 392.5 390.2 393.5 390.2 394.5 390.2 395.5 390.2 396.5 390.2 397.5 390.2 398.5 390.2 399.5 390.2 400.5 390.3 401.5 390.3 402.5 390.3 403.5 390.3 404.5 390.3 405.5 390.3 406.5 390.3 407.5 390.3 408.5 390.3 409.5 390.3 410.5 390.3 411.5 390.2 412.5 390.1 413.5 389.8 414.5 389.4 415.5 389.0 416.5 388.5 417.5 388.0 418.5 387.4 419.5 386.8 420.5 386.1 421.5 385.2 422.5 384.4 423.5 383.5 424.5 382.5 425.5 381.5 426.5 380.3 427.5 379.1 428.5 377.8 429.5 376.5 430.5 375.0 431.5 373.4 432.5 371.7 433.5 369.9 434.5 367.9 435.5 365.8 436.5 363.5 437.5 361.2 438.5 358.8 439.5 356.4 440.5 353.9 441.5 351.2 442.5 348.4 443.5 345.4 444.5 342.1 445.5 338.6 446.5 334.9 447.5 331.0 448.5 327.0 449.5 322.9 450.5 318.8 451.5 314.5 452.5 310.0 453.5 305.6 454.5 301.0 455.5 296.3 456.5 291.4 457.5 286.7 458.5 282.1 459.5 277.6 460.5 273.2 461.5 269.0 462.5 265.0 463.5 261.0 464.5 257.2 465.5 253.6 466.5 250.5 467.5 247.9 468.5 245.7 469.5 243.8 470.5 242.5 471.5 242.0 472.5 242.5 473.5 243.8 474.5 245.7 475.5 247.9 476.5 250.4 477.5 253.3 478.5 256.7 479.5 260.6 480.5 265.0 481.5 270.2 482.5 276.0 483.5 282.0 484.5 288.2 485.5 294.6 486.5 301.1 487.5 307.9 488.5 314.7 489.5 321.6 490.5 328.4 491.5 335.1 492.5 341.5 493.5 347.3 494.5 352.5 495.5 357.4 496.5 361.8 497.5 365.9 498.5 369.8 499.5 373.5 500.5 376.8 501.5 379.4 502.5 381.5 503.5 383.2 504.5 384.7 505.5 386.0 506.5 387.1 507.5 388.0 508.5 388.9 509.5 389.7 510.5 390.4 511.5 391.1 512.5 391.6 513.5 392.1 514.5 392.4 515.5 392.6 516.5 392.7 517.5 392.9 518.5 393.0 519.5 393.1 520.5 393.2 521.5 393.3 522.5 393.4 523.5 393.5 524.5 393.6 525.5 393.7 526.5 393.8 527.5 393.9 528.5 394.0 529.5 394.0 530.5 394.1 531.5 394.2 532.5 394.2 533.5 394.3 534.5 394.3 535.5 394.4 536.5 394.4 537.5 394.5 538.5 394.5 539.5 394.5 540.5 394.5 541.5 394.6 542.5 394.6 543.5 394.6 544.5 394.6 545.5 394.6" fill="none" stroke="#2622cc" stroke-width="1.05" stroke-linejoin="round" />
<path d="M569.5 385.8L570.5 385.8 571.5 385.8 572.5 385.7 573.5 385.7 574.5 385.7 575.5 385.7 576.5 385.6 577.5 385.6 578.5 385.5 579.5 385.4 580.5 385.2 581.5 385.1 582.5 384.9 583.5 384.6 584.5 384.3 585.5 384.0 586.5 383.5 587.5 383.0 588.5 382.5 589.5 381.8 590.5 381.0 591.5 380.1 592.5 379.0 593.5 377.9 594.5 376.5 595.5 375.0 596.5 373.3 597.5 371.5 598.5 369.4 599.5 367.2 600.5 364.7 601.5 362.0 602.5 359.1 603.5 356.1 604.5 352.8 605.5 349.3 606.5 345.7 607.5 341.8 608.5 337.9 609.5 333.9 610.5 329.7 611.5 325.5 612.5 321.3 613.5 317.2 614.5 313.1 615.5 309.1 616.5 305.2 617.5 301.5 618.5 298.1 619.5 294.9 620.5 292.1 621.5 289.6 622.5 287.5 623.5 285.8 624.5 284.5 625.5 283.7 626.5 283.3 627.5 283.4 628.5 284.0 629.5 284.9 630.5 286.3 631.5 288.1 632.5 290.3 633.5 292.8 634.5 295.6 635.5 298.8 636.5 302.2 637.5 305.8 638.5 309.6 639.5 313.6 640.5 317.6 641.5 321.7 642.5 325.9 643.5 330.1 644.5 334.2 645.5 338.2 646.5 342.2 647.5 346.0 648.5 349.7 649.5 353.2 650.5 356.6 651.5 359.8 652.5 362.8 653.5 365.6 654.5 368.2 655.5 370.7 656.5 372.9 657.5 374.9 658.5 376.8 659.5 378.5 660.5 380.0 661.5 381.4 662.5 382.6 663.5 383.7 664.5 384.7 665.5 385.6 666.5 386.4 667.5 387.0 668.5 387.6 669.5 388.1 670.5 388.6 671.5 389.0 672.5 389.3 673.5 389.6 674.5 389.9 675.5 390.1 676.5 390.3 677.5 390.5 678.5 390.7 679.5 390.8 680.5 391.0 681.5 391.1 682.5 391.2 683.5 391.3 684.5 391.4 685.5 391.5 686.5 391.6" fill="none" stroke="#f2a21e" stroke-width="1.15" stroke-linejoin="round" />
<path d="M629.5 388.6L630.5 388.7 631.5 388.7 632.5 388.7 633.5 388.7 634.5 388.7 635.5 388.6 636.5 388.6 637.5 388.5 638.5 388.5 639.5 388.4 640.5 388.2 641.5 388.0 642.5 387.8 643.5 387.5 644.5 387.2 645.5 386.8 646.5 386.3 647.5 385.7 648.5 385.0 649.5 384.2 650.5 383.3 651.5 382.2 652.5 380.9 653.5 379.5 654.5 377.8 655.5 376.0 656.5 373.9 657.5 371.6 658.5 369.0 659.5 366.1 660.5 363.0 661.5 359.5 662.5 355.8 663.5 351.8 664.5 347.5 665.5 342.8 666.5 338.0 667.5 332.8 668.5 327.4 669.5 321.8 670.5 316.1 671.5 310.2 672.5 304.2 673.5 298.2 674.5 292.1 675.5 286.2 676.5 280.4 677.5 274.7 678.5 269.4 679.5 264.3 680.5 259.6 681.5 255.3 682.5 251.5 683.5 248.2 684.5 245.5 685.5 243.4 686.5 242.0 687.5 241.2 688.5 241.0 689.5 241.5 690.5 242.6 691.5 244.2 692.5 246.4 693.5 249.1 694.5 252.3 695.5 256.0 696.5 260.1 697.5 264.5 698.5 269.4 699.5 274.5 700.5 279.8 701.5 285.3 702.5 291.0 703.5 296.7 704.5 302.5 705.5 308.3 706.5 314.0 707.5 319.6 708.5 325.1 709.5 330.5 710.5 335.7 711.5 340.6 712.5 345.4 713.5 349.9 714.5 354.1 715.5 358.1 716.5 361.8 717.5 365.3 718.5 368.4 719.5 371.4 720.5 374.1 721.5 376.5 722.5 378.8 723.5 380.8 724.5 382.6 725.5 384.2 726.5 385.6 727.5 386.9 728.5 388.0 729.5 389.0 730.5 389.8 731.5 390.6 732.5 391.2 733.5 391.8 734.5 392.2 735.5 392.6 736.5 393.0 737.5 393.3 738.5 393.5 739.5 393.7 740.5 393.9 741.5 394.0 742.5 394.1 743.5 394.2 744.5 394.3 745.5 394.3 746.5 394.4 747.5 394.4 748.5 394.5 749.5 394.5 750.5 394.5 751.5 394.5" fill="none" stroke="#f2a21e" stroke-width="1.15" stroke-linejoin="round" />
<path d="M546.5 385.5L547.5 385.5 548.5 385.5 549.5 385.5 550.5 385.5 551.5 385.5 552.5 385.5 553.5 385.5 554.5 385.6 555.5 385.6 556.5 385.6 557.5 385.6 558.5 385.6 559.5 385.6 560.5 385.6 561.5 385.7 562.5 385.7 563.5 385.7 564.5 385.7 565.5 385.7 566.5 385.8 567.5 385.8 568.5 385.8 569.5 385.8 570.5 385.8 571.5 385.9 572.5 385.9 573.5 385.9 574.5 385.9 575.5 386.0 576.5 386.0 577.5 386.0 578.5 386.0 579.5 386.1 580.5 386.1 581.5 386.1 582.5 386.2 583.5 386.2 584.5 386.3 585.5 386.3 586.5 386.4 587.5 386.4 588.5 386.5 589.5 386.5 590.5 386.6 591.5 386.6 592.5 386.7 593.5 386.7 594.5 386.8 595.5 386.8 596.5 386.9 597.5 387.0 598.5 387.0 599.5 387.1 600.5 387.2 601.5 387.2 602.5 387.3 603.5 387.3 604.5 387.4 605.5 387.5 606.5 387.5 607.5 387.6 608.5 387.7 609.5 387.7 610.5 387.8 611.5 387.8 612.5 387.9 613.5 388.0 614.5 388.0 615.5 388.1 616.5 388.1 617.5 388.2 618.5 388.2 619.5 388.3 620.5 388.3 621.5 388.4 622.5 388.4 623.5 388.5 624.5 388.5 625.5 388.5 626.5 388.6 627.5 388.6 628.5 388.7 629.5 388.7 630.5 388.8 631.5 388.8 632.5 388.8 633.5 388.9 634.5 388.9 635.5 389.0 636.5 389.0 637.5 389.0 638.5 389.1 639.5 389.1 640.5 389.2 641.5 389.2 642.5 389.2 643.5 389.3 644.5 389.3 645.5 389.4 646.5 389.4 647.5 389.4 648.5 389.5 649.5 389.5 650.5 389.6 651.5 389.6 652.5 389.6 653.5 389.7 654.5 389.7 655.5 389.8 656.5 389.8 657.5 389.9 658.5 389.9 659.5 390.0 660.5 390.0 661.5 390.1 662.5 390.1 663.5 390.2 664.5 390.2 665.5 390.3 666.5 390.4 667.5 390.4 668.5 390.5 669.5 390.5 670.5 390.6 671.5 390.7 672.5 390.7 673.5 390.8 674.5 390.8 675.5 390.9 676.5 391.0 677.5 391.0 678.5 391.1 679.5 391.2 680.5 391.2 681.5 391.3 682.5 391.4 683.5 391.4 684.5 391.5 685.5 391.6 686.5 391.6 687.5 391.7 688.5 391.8 689.5 391.8 690.5 391.9 691.5 392.0 692.5 392.0 693.5 392.1 694.5 392.2 695.5 392.2 696.5 392.3 697.5 392.3 698.5 392.4 699.5 392.5 700.5 392.5 701.5 392.6 702.5 392.7 703.5 392.7 704.5 392.8 705.5 392.9 706.5 393.0 707.5 393.0 708.5 393.1 709.5 393.2 710.5 393.3 711.5 393.3 712.5 393.4 713.5 393.5 714.5 393.6 715.5 393.6 716.5 393.7 717.5 393.8 718.5 393.9 719.5 393.9 720.5 394.0 721.5 394.1 722.5 394.1 723.5 394.2 724.5 394.2 725.5 394.3 726.5 394.3 727.5 394.4 728.5 394.4 729.5 394.5 730.5 394.5 731.5 394.5 732.5 394.5 733.5 394.6 734.5 394.6 735.5 394.6 736.5 394.6 737.5 394.6 738.5 394.6 739.5 394.6 740.5 394.6 741.5 394.6 742.5 394.6 743.5 394.6 744.5 394.6 745.5 394.6 746.5 394.6 747.5 394.6 748.5 394.6 749.5 394.6 750.5 394.6 751.5 394.6 752.5 394.6 753.5 394.6 754.5 394.6 755.5 394.6 756.5 394.6 757.5 394.6 758.5 394.6 759.5 394.6 760.5 394.6 761.5 394.6 762.5 394.6 763.5 394.6 764.5 394.6 765.5 394.6 766.5 394.6 767.5 394.6 768.5 394.6 769.5 394.6 770.5 394.6 771.5 394.6 772.5 394.6 773.5 394.6 774.5 394.6 775.5 394.6 776.5 394.6 777.5 394.6 778.5 394.6 779.5 394.6 780.5 394.6 781.5 394.6 782.5 394.6 783.5 394.6 784.5 394.6 785.5 394.6 786.5 394.6 787.5 394.6 788.5 394.6 789.5 394.6 790.5 394.6 791.5 394.6 792.5 394.6 793.5 394.6 794.5 394.6 795.5 394.6 796.5 394.6" fill="none" stroke="#44d62c" stroke-width="1.4" stroke-linejoin="round" />
<path d="M546.5 385.4L548.5 385.5 550.5 385.5 552.5 385.6 554.5 385.6 556.5 385.6 558.5 385.9 560.5 385.6 562.5 385.6 564.5 385.1 566.5 385.7 568.5 385.9 570.5 386.4 572.5 386.0 574.5 386.0 576.5 385.9 578.5 386.1 580.5 385.7 582.5 385.0 584.5 383.8 586.5 383.0 588.5 382.4 590.5 381.3 592.5 379.4 594.5 376.5 596.5 373.0 598.5 369.6 600.5 364.6 602.5 359.2 604.5 352.3 606.5 346.0 608.5 337.9 610.5 329.9 612.5 321.0 614.5 312.7 616.5 305.2 618.5 298.6 620.5 292.7 622.5 287.6 624.5 284.1 626.5 282.9 628.5 283.7 630.5 286.4 632.5 290.3 634.5 295.4 636.5 301.8 638.5 309.0 640.5 317.2 642.5 325.4 644.5 332.9 646.5 339.5 648.5 345.3 650.5 350.3 652.5 354.0 654.5 356.3 656.5 356.8 658.5 356.0 660.5 353.1 662.5 348.7 664.5 342.2 666.5 334.1 668.5 324.4 670.5 313.9 672.5 302.7 674.5 291.3 676.5 279.9 678.5 269.0 680.5 259.3 682.5 251.0 684.5 245.3 686.5 241.7 688.5 240.6 690.5 242.3 692.5 246.2 694.5 252.6 696.5 260.2 698.5 269.4 700.5 279.7 702.5 290.9 704.5 302.4 706.5 314.1 708.5 325.0 710.5 335.7 712.5 345.4 714.5 354.4 716.5 362.0 718.5 368.7 720.5 374.0 722.5 378.9 724.5 382.6 726.5 386.1 728.5 388.4 730.5 390.1 732.5 391.4 734.5 392.4 736.5 393.4 738.5 394.0 740.5 393.9 742.5 394.2 744.5 394.6 746.5 395.2 748.5 395.2 750.5 394.7 752.5 394.7 754.5 394.7 756.5 394.5 758.5 394.4 760.5 394.1 762.5 394.4 764.5 394.2 766.5 394.7 768.5 394.9 770.5 395.1 772.5 395.2 774.5 395.6 776.5 395.5 778.5 395.1 780.5 394.5 782.5 394.4 784.5 394.5 786.5 394.9 788.5 395.0 790.5 395.2 792.5 394.9 794.5 394.9 796.5 394.7" fill="none" stroke="#e8141a" stroke-width="1.0" stroke-linejoin="round" />
<path d="M546.5 385.5L547.5 385.5 548.5 385.5 549.5 385.5 550.5 385.5 551.5 385.5 552.5 385.5 553.5 385.5 554.5 385.6 555.5 385.6 556.5 385.6 557.5 385.6 558.5 385.6 559.5 385.6 560.5 385.6 561.5 385.7 562.5 385.7 563.5 385.7 564.5 385.7 565.5 385.7 566.5 385.7 567.5 385.7 568.5 385.7 569.5 385.8 570.5 385.8 571.5 385.8 572.5 385.7 573.5 385.7 574.5 385.7 575.5 385.7 576.5 385.6 577.5 385.6 578.5 385.5 579.5 385.4 580.5 385.2 581.5 385.1 582.5 384.9 583.5 384.6 584.5 384.3 585.5 384.0 586.5 383.5 587.5 383.0 588.5 382.5 589.5 381.8 590.5 381.0 591.5 380.1 592.5 379.0 593.5 377.9 594.5 376.5 595.5 375.0 596.5 373.3 597.5 371.5 598.5 369.4 599.5 367.2 600.5 364.7 601.5 362.0 602.5 359.1 603.5 356.1 604.5 352.8 605.5 349.3 606.5 345.7 607.5 341.8 608.5 337.9 609.5 333.9 610.5 329.7 611.5 325.5 612.5 321.3 613.5 317.2 614.5 313.1 615.5 309.1 616.5 305.2 617.5 301.5 618.5 298.1 619.5 294.9 620.5 292.1 621.5 289.6 622.5 287.5 623.5 285.8 624.5 284.5 625.5 283.7 626.5 283.3 627.5 283.4 628.5 283.9 629.5 284.8 630.5 286.2 631.5 288.0 632.5 290.1 633.5 292.6 634.5 295.4 635.5 298.5 636.5 301.8 637.5 305.3 638.5 309.0 639.5 312.8 640.5 316.7 641.5 320.6 642.5 324.5 643.5 328.3 644.5 332.0 645.5 335.6 646.5 339.1 647.5 342.3 648.5 345.2 649.5 347.9 650.5 350.3 651.5 352.4 652.5 354.1 653.5 355.4 654.5 356.3 655.5 356.9 656.5 357.0 657.5 356.6 658.5 355.9 659.5 354.6 660.5 353.0 661.5 350.9 662.5 348.3 663.5 345.3 664.5 341.9 665.5 338.1 666.5 333.9 667.5 329.4 668.5 324.6 669.5 319.4 670.5 314.1 671.5 308.5 672.5 302.8 673.5 297.0 674.5 291.2 675.5 285.4 676.5 279.7 677.5 274.2 678.5 268.9 679.5 263.9 680.5 259.3 681.5 255.1 682.5 251.3 683.5 248.1 684.5 245.4 685.5 243.3 686.5 241.9 687.5 241.1 688.5 241.0 689.5 241.5 690.5 242.5 691.5 244.2 692.5 246.4 693.5 249.1 694.5 252.3 695.5 256.0 696.5 260.1 697.5 264.5 698.5 269.4 699.5 274.5 700.5 279.8 701.5 285.3 702.5 291.0 703.5 296.7 704.5 302.5 705.5 308.3 706.5 314.0 707.5 319.6 708.5 325.1 709.5 330.5 710.5 335.7 711.5 340.6 712.5 345.4 713.5 349.9 714.5 354.1 715.5 358.1 716.5 361.8 717.5 365.3 718.5 368.4 719.5 371.4 720.5 374.1 721.5 376.5 722.5 378.8 723.5 380.8 724.5 382.6 725.5 384.2 726.5 385.6 727.5 386.9 728.5 388.0 729.5 389.0 730.5 389.8 731.5 390.6 732.5 391.2 733.5 391.8 734.5 392.2 735.5 392.6 736.5 393.0 737.5 393.3 738.5 393.5 739.5 393.7 740.5 393.9 741.5 394.0 742.5 394.1 743.5 394.2 744.5 394.3 745.5 394.3 746.5 394.4 747.5 394.4 748.5 394.5 749.5 394.5 750.5 394.5 751.5 394.5 752.5 394.6 753.5 394.6 754.5 394.6 755.5 394.6 756.5 394.6 757.5 394.6 758.5 394.6 759.5 394.6 760.5 394.6 761.5 394.6 762.5 394.6 763.5 394.6 764.5 394.6 765.5 394.6 766.5 394.6 767.5 394.6 768.5 394.6 769.5 394.6 770.5 394.6 771.5 394.6 772.5 394.6 773.5 394.6 774.5 394.6 775.5 394.6 776.5 394.6 777.5 394.6 778.5 394.6 779.5 394.6 780.5 394.6 781.5 394.6 782.5 394.6 783.5 394.6 784.5 394.6 785.5 394.6 786.5 394.6 787.5 394.6 788.5 394.6 789.5 394.6 790.5 394.6 791.5 394.6 792.5 394.6 793.5 394.6 794.5 394.6 795.5 394.6 796.5 394.6" fill="none" stroke="#2622cc" stroke-width="1.05" stroke-linejoin="round" />
<path d="M546.5 382.3 L552 384.5 L561 386" stroke="#2622cc" stroke-width="1.1" fill="none"/>
<text x="151.9" y="244.5" font-family="&quot;Liberation Sans&quot;, sans-serif" font-size="7.60" font-weight="normal" fill="#222" stroke="#222" stroke-width="0.06" textLength="42.9" lengthAdjust="spacingAndGlyphs" text-anchor="start">Fe2p3</text>
<text x="127.1" y="265.9" font-family="&quot;Liberation Sans&quot;, sans-serif" font-size="7.60" font-weight="normal" fill="#222" stroke="#222" stroke-width="0.06" textLength="43.2" lengthAdjust="spacingAndGlyphs" text-anchor="start">Fe2p3</text>
<text x="93.2" y="293.6" font-family="&quot;Liberation Sans&quot;, sans-serif" font-size="7.60" font-weight="normal" fill="#222" stroke="#222" stroke-width="0.06" textLength="42.7" lengthAdjust="spacingAndGlyphs" text-anchor="start">Fe2p3</text>
<text x="176.7" y="304.5" font-family="&quot;Liberation Sans&quot;, sans-serif" font-size="7.60" font-weight="normal" fill="#222" stroke="#222" stroke-width="0.06" textLength="42.6" lengthAdjust="spacingAndGlyphs" text-anchor="start">Fe2p3</text>
<line x1="205.3" y1="314" x2="208.6" y2="312.5" stroke="#333" stroke-width="0.9"/>
<ellipse cx="334.3" cy="343.0" rx="15.0" ry="13.0" fill="none" stroke="#1f72c2" stroke-width="2.0"/>
<text x="334.3" y="345.6" font-family="&quot;Liberation Sans&quot;, sans-serif" font-size="7.00" font-weight="normal" fill="#222" stroke="#222" stroke-width="0.06" textLength="21.0" lengthAdjust="spacingAndGlyphs" text-anchor="middle">Sb3d3</text>
<polyline points="337.1,356.2 362.7,356.2" fill="none" stroke="#111" stroke-width="1.0"/>
<line x1="362.7" y1="356.2" x2="357.1" y2="351.6" stroke="#111" stroke-width="1.0"/>
<polygon points="349.9,345.6 360.1,348.0 354.1,355.2" fill="#111"/>
<ellipse cx="415.6" cy="255.4" rx="14.5" ry="13.3" fill="none" stroke="#1f72c2" stroke-width="2.0"/>
<text x="415.8" y="258.9" font-family="&quot;Liberation Sans&quot;, sans-serif" font-size="9.60" font-weight="normal" fill="#1a1a1a" stroke="#1a1a1a" stroke-width="0.05" textLength="26.5" lengthAdjust="spacingAndGlyphs" text-anchor="middle">Sb3d5</text>
<line x1="468.3" y1="246.0" x2="440.4" y2="253.4" stroke="#111" stroke-width="1.0"/>
<polygon points="431.4,255.8 439.3,249.0 441.6,257.8" fill="#111"/>
<text x="445.5" y="306.8" font-family="&quot;Liberation Sans&quot;, sans-serif" font-size="6.00" font-weight="normal" fill="#1a1a1a" stroke="#1a1a1a" stroke-width="0.06" textLength="13.0" lengthAdjust="spacingAndGlyphs" text-anchor="start">O1s</text>
<line x1="469.0" y1="294.8" x2="465.6" y2="296.6" stroke="#111" stroke-width="1.0"/>
<polygon points="458.3,300.5 463.6,293.0 467.5,300.3" fill="#111"/>
<text x="405.4" y="349.0" font-family="&quot;Liberation Sans&quot;, sans-serif" font-size="10.20" font-weight="normal" fill="#1a1a1a" stroke="#1a1a1a" stroke-width="0.05" textLength="17.4" lengthAdjust="spacingAndGlyphs" text-anchor="start">O1s</text>
<line x1="449.4" y1="356.7" x2="428.6" y2="352.2" stroke="#111" stroke-width="1.0"/>
<polygon points="419.5,350.2 429.6,347.7 427.7,356.6" fill="#111"/>
<text x="505.1" y="357.7" font-family="&quot;Liberation Sans&quot;, sans-serif" font-size="10.20" font-weight="normal" fill="#1a1a1a" stroke="#1a1a1a" stroke-width="0.05" textLength="16.3" lengthAdjust="spacingAndGlyphs" text-anchor="start">O1s</text>
<line x1="475.9" y1="345.4" x2="492.7" y2="348.5" stroke="#111" stroke-width="1.0"/>
<polygon points="501.9,350.2 491.9,353.0 493.5,344.0" fill="#111"/>
<text x="612.7" y="278.6" font-family="&quot;Liberation Sans&quot;, sans-serif" font-size="7.40" font-weight="normal" fill="#222" stroke="#222" stroke-width="0.06" textLength="25.0" lengthAdjust="spacingAndGlyphs" text-anchor="start">Zr3d3</text>
<polyline points="629.5,287.4 654.0,287.4" fill="none" stroke="#111" stroke-width="1.0"/>
<line x1="654.0" y1="287.4" x2="646.2" y2="282.6" stroke="#111" stroke-width="1.0"/>
<polygon points="638.3,277.6 648.7,278.6 643.8,286.5" fill="#111"/>
<text x="717.5" y="260.1" font-family="&quot;Liberation Sans&quot;, sans-serif" font-size="10.00" font-weight="normal" fill="#1a1a1a" stroke="#1a1a1a" stroke-width="0.05" textLength="24.9" lengthAdjust="spacingAndGlyphs" text-anchor="start">Zr3d5</text>
<line x1="690.4" y1="243.9" x2="704.7" y2="250.7" stroke="#111" stroke-width="1.0"/>
<polygon points="713.1,254.7 702.7,254.8 706.6,246.6" fill="#111"/>
<path d="M77.5 528.1L78.5 528.2 79.5 528.3 80.5 528.3 81.5 528.3 82.5 528.4 83.5 528.4 84.5 528.4 85.5 528.4 86.5 528.4 87.5 528.4 88.5 528.3 89.5 528.2 90.5 528.1 91.5 528.0 92.5 527.8 93.5 527.5 94.5 527.2 95.5 526.9 96.5 526.5 97.5 526.1 98.5 525.6 99.5 525.0 100.5 524.4 101.5 523.8 102.5 523.1 103.5 522.4 104.5 521.7 105.5 520.9 106.5 520.1 107.5 519.4 108.5 518.6 109.5 517.9 110.5 517.2 111.5 516.6 112.5 516.1 113.5 515.7 114.5 515.3 115.5 515.1 116.5 515.0 117.5 515.0 118.5 515.2 119.5 515.5 120.5 515.9 121.5 516.4 122.5 517.1 123.5 517.9 124.5 518.8 125.5 519.7 126.5 520.8 127.5 521.9 128.5 523.0 129.5 524.2 130.5 525.4 131.5 526.6 132.5 527.8 133.5 528.9 134.5 530.0 135.5 531.1 136.5 532.2 137.5 533.1 138.5 534.1 139.5 534.9 140.5 535.8 141.5 536.5 142.5 537.2 143.5 537.9 144.5 538.5 145.5 539.1 146.5 539.7 147.5 540.2 148.5 540.8 149.5 541.3 150.5 541.9 151.5 542.4 152.5 543.0 153.5 543.6 154.5 544.2 155.5 544.8 156.5 545.4 157.5 545.9 158.5 546.5" fill="none" stroke="#f2a21e" stroke-width="1.15" stroke-linejoin="round" />
<path d="M95.5 529.8L96.5 529.9 97.5 530.0 98.5 530.1 99.5 530.2 100.5 530.2 101.5 530.3 102.5 530.4 103.5 530.5 104.5 530.5 105.5 530.6 106.5 530.6 107.5 530.7 108.5 530.7 109.5 530.7 110.5 530.6 111.5 530.6 112.5 530.5 113.5 530.4 114.5 530.3 115.5 530.1 116.5 529.9 117.5 529.7 118.5 529.4 119.5 529.0 120.5 528.7 121.5 528.2 122.5 527.8 123.5 527.2 124.5 526.6 125.5 526.0 126.5 525.3 127.5 524.5 128.5 523.7 129.5 522.9 130.5 522.0 131.5 521.0 132.5 520.0 133.5 518.9 134.5 517.9 135.5 516.8 136.5 515.6 137.5 514.5 138.5 513.4 139.5 512.3 140.5 511.2 141.5 510.2 142.5 509.2 143.5 508.2 144.5 507.4 145.5 506.6 146.5 506.0 147.5 505.5 148.5 505.1 149.5 504.9 150.5 504.8 151.5 504.9 152.5 505.1 153.5 505.6 154.5 506.1 155.5 506.9 156.5 507.8 157.5 508.8 158.5 509.9 159.5 511.2 160.5 512.6 161.5 514.0 162.5 515.6 163.5 517.2 164.5 518.9 165.5 520.7 166.5 522.5 167.5 524.4 168.5 526.3 169.5 528.3 170.5 530.3 171.5 532.3 172.5 534.4 173.5 536.5 174.5 538.6 175.5 540.6 176.5 542.7 177.5 544.7 178.5 546.7 179.5 548.7 180.5 550.5 181.5 552.3 182.5 554.1 183.5 555.8 184.5 557.4 185.5 558.9 186.5 560.4 187.5 561.8 188.5 563.2 189.5 564.4 190.5 565.7 191.5 566.8 192.5 567.9 193.5 568.9 194.5 569.8 195.5 570.7 196.5 571.6 197.5 572.4 198.5 573.1 199.5 573.9 200.5 574.5 201.5 575.1 202.5 575.7 203.5 576.3 204.5 576.8 205.5 577.3 206.5 577.8 207.5 578.2 208.5 578.6 209.5 579.0 210.5 579.4 211.5 579.7" fill="none" stroke="#f2a21e" stroke-width="1.15" stroke-linejoin="round" />
<path d="M124.5 534.6L125.5 534.9 126.5 535.1 127.5 535.3 128.5 535.5 129.5 535.8 130.5 536.0 131.5 536.2 132.5 536.4 133.5 536.6 134.5 536.7 135.5 536.9 136.5 537.0 137.5 537.0 138.5 537.1 139.5 537.0 140.5 537.0 141.5 536.8 142.5 536.7 143.5 536.4 144.5 536.0 145.5 535.6 146.5 535.1 147.5 534.5 148.5 533.8 149.5 533.0 150.5 532.1 151.5 531.1 152.5 529.9 153.5 528.6 154.5 527.2 155.5 525.7 156.5 523.9 157.5 522.1 158.5 520.0 159.5 517.8 160.5 515.5 161.5 513.0 162.5 510.5 163.5 507.8 164.5 505.0 165.5 502.3 166.5 499.5 167.5 496.8 168.5 494.1 169.5 491.6 170.5 489.2 171.5 487.0 172.5 485.0 173.5 483.3 174.5 481.9 175.5 480.8 176.5 480.0 177.5 479.6 178.5 479.5 179.5 479.8 180.5 480.5 181.5 481.5 182.5 482.8 183.5 484.4 184.5 486.3 185.5 488.4 186.5 490.9 187.5 493.5 188.5 496.4 189.5 499.5 190.5 502.8 191.5 506.2 192.5 509.7 193.5 513.2 194.5 516.9 195.5 520.5 196.5 524.2 197.5 527.8 198.5 531.4 199.5 535.0 200.5 538.4 201.5 541.8 202.5 545.0 203.5 548.1 204.5 551.1 205.5 553.9 206.5 556.5 207.5 559.1 208.5 561.4 209.5 563.6 210.5 565.6 211.5 567.5 212.5 569.2 213.5 570.8 214.5 572.2 215.5 573.4 216.5 574.6 217.5 575.6 218.5 576.5 219.5 577.3 220.5 578.0 221.5 578.7 222.5 579.3 223.5 579.8 224.5 580.2 225.5 580.6 226.5 581.0 227.5 581.3 228.5 581.6 229.5 581.8 230.5 582.0 231.5 582.2 232.5 582.3 233.5 582.5 234.5 582.6 235.5 582.7 236.5 582.8 237.5 582.9 238.5 582.9 239.5 583.0 240.5 583.1" fill="none" stroke="#f2a21e" stroke-width="1.15" stroke-linejoin="round" />
<path d="M152.5 543.2L153.5 543.7 154.5 544.2 155.5 544.8 156.5 545.3 157.5 545.8 158.5 546.3 159.5 546.8 160.5 547.2 161.5 547.6 162.5 548.0 163.5 548.3 164.5 548.7 165.5 548.9 166.5 549.2 167.5 549.4 168.5 549.6 169.5 549.7 170.5 549.8 171.5 549.9 172.5 550.0 173.5 550.0 174.5 550.0 175.5 549.9 176.5 549.8 177.5 549.6 178.5 549.4 179.5 549.1 180.5 548.8 181.5 548.4 182.5 548.0 183.5 547.5 184.5 547.0 185.5 546.5 186.5 546.0 187.5 545.5 188.5 545.1 189.5 544.7 190.5 544.3 191.5 544.1 192.5 543.9 193.5 543.9 194.5 544.0 195.5 544.2 196.5 544.5 197.5 545.0 198.5 545.6 199.5 546.4 200.5 547.2 201.5 548.1 202.5 549.2 203.5 550.3 204.5 551.5 205.5 552.7 206.5 554.0 207.5 555.4 208.5 556.8 209.5 558.3 210.5 559.7 211.5 561.2 212.5 562.6 213.5 564.0 214.5 565.4 215.5 566.7 216.5 568.0 217.5 569.2 218.5 570.4 219.5 571.6 220.5 572.6 221.5 573.6 222.5 574.6 223.5 575.5 224.5 576.3 225.5 577.1 226.5 577.8 227.5 578.4 228.5 579.0 229.5 579.5 230.5 580.0 231.5 580.4 232.5 580.8 233.5 581.2 234.5 581.5 235.5 581.7 236.5 582.0 237.5 582.2 238.5 582.4 239.5 582.5 240.5 582.7 241.5 582.8 242.5 582.9 243.5 583.0 244.5 583.1 245.5 583.1 246.5 583.2 247.5 583.3 248.5 583.3 249.5 583.3" fill="none" stroke="#f2a21e" stroke-width="1.15" stroke-linejoin="round" />
<path d="M68.5 527.7L69.5 527.7 70.5 527.8 71.5 527.8 72.5 527.9 73.5 527.9 74.5 528.0 75.5 528.0 76.5 528.1 77.5 528.2 78.5 528.3 79.5 528.3 80.5 528.4 81.5 528.5 82.5 528.6 83.5 528.7 84.5 528.8 85.5 528.9 86.5 529.0 87.5 529.0 88.5 529.1 89.5 529.2 90.5 529.3 91.5 529.4 92.5 529.5 93.5 529.7 94.5 529.8 95.5 529.9 96.5 530.0 97.5 530.1 98.5 530.2 99.5 530.3 100.5 530.5 101.5 530.6 102.5 530.7 103.5 530.8 104.5 531.0 105.5 531.1 106.5 531.3 107.5 531.4 108.5 531.6 109.5 531.7 110.5 531.9 111.5 532.1 112.5 532.2 113.5 532.4 114.5 532.6 115.5 532.7 116.5 532.9 117.5 533.1 118.5 533.3 119.5 533.5 120.5 533.7 121.5 534.0 122.5 534.2 123.5 534.4 124.5 534.7 125.5 534.9 126.5 535.2 127.5 535.4 128.5 535.7 129.5 536.0 130.5 536.3 131.5 536.5 132.5 536.8 133.5 537.1 134.5 537.4 135.5 537.7 136.5 537.9 137.5 538.2 138.5 538.5 139.5 538.8 140.5 539.1 141.5 539.3 142.5 539.6 143.5 539.9 144.5 540.2 145.5 540.5 146.5 540.8 147.5 541.2 148.5 541.6 149.5 542.0 150.5 542.4 151.5 542.8 152.5 543.3 153.5 543.8 154.5 544.4 155.5 544.9 156.5 545.5 157.5 546.0 158.5 546.6 159.5 547.1 160.5 547.7 161.5 548.2 162.5 548.7 163.5 549.2 164.5 549.8 165.5 550.3 166.5 550.8 167.5 551.3 168.5 551.9 169.5 552.4 170.5 553.0 171.5 553.7 172.5 554.3 173.5 555.0 174.5 555.8 175.5 556.6 176.5 557.4 177.5 558.2 178.5 559.0 179.5 559.9 180.5 560.7 181.5 561.6 182.5 562.4 183.5 563.2 184.5 564.0 185.5 564.9 186.5 565.7 187.5 566.5 188.5 567.3 189.5 568.1 190.5 568.8 191.5 569.6 192.5 570.3 193.5 571.0 194.5 571.6 195.5 572.3 196.5 572.9 197.5 573.5 198.5 574.1 199.5 574.7 200.5 575.2 201.5 575.7 202.5 576.2 203.5 576.7 204.5 577.1 205.5 577.6 206.5 578.0 207.5 578.4 208.5 578.8 209.5 579.1 210.5 579.5 211.5 579.8 212.5 580.1 213.5 580.3 214.5 580.6 215.5 580.8 216.5 581.0 217.5 581.1 218.5 581.3 219.5 581.4 220.5 581.6 221.5 581.7 222.5 581.8 223.5 582.0 224.5 582.1 225.5 582.2 226.5 582.3 227.5 582.4 228.5 582.5 229.5 582.5 230.5 582.6 231.5 582.7 232.5 582.8 233.5 582.8 234.5 582.9 235.5 582.9 236.5 583.0 237.5 583.0 238.5 583.1 239.5 583.1 240.5 583.1 241.5 583.2 242.5 583.2 243.5 583.2 244.5 583.3 245.5 583.3 246.5 583.3 247.5 583.4 248.5 583.4 249.5 583.4 250.5 583.4 251.5 583.5 252.5 583.5 253.5 583.5 254.5 583.5 255.5 583.5 256.5 583.6 257.5 583.6 258.5 583.6 259.5 583.6 260.5 583.6 261.5 583.6" fill="none" stroke="#44d62c" stroke-width="1.4" stroke-linejoin="round" />
<path d="M68.3 525.9L69.8 517.3 71.6 528.5 73.5 533.0 75.8 518.0 77.3 536.0 79.1 536.0 80.6 533.0 82.1 507.5 84.4 513.5 85.9 514.3 87.8 518.8 89.3 524.8 91.2 534.5 93.4 515.0 95.3 520.3 97.2 526.3 99.4 516.5 101.3 526.3 102.4 534.5 104.7 505.3 106.5 515.8 108.8 525.5 110.7 515.8 112.2 522.5 113.7 528.5 114.8 513.5 116.3 516.5 117.8 511.3 120.1 509.8 121.9 515.8 123.4 508.3 125.0 506.6 127.1 518.6 130.1 518.6 132.3 506.6 134.4 502.4 137.0 495.5 139.1 504.1 141.3 505.0 142.5 506.6 144.3 499.8 146.4 498.1 147.7 501.5 149.4 487.8 151.1 482.7 152.8 490.4 155.0 498.1 156.7 498.1 158.0 484.4 159.7 472.4 161.8 468.1 163.5 469.8 165.7 474.1 167.4 466.4 169.5 462.1 171.2 459.6 173.4 457.0 175.5 457.0 176.4 457.8 177.7 469.5 179.8 457.8 181.8 456.4 183.9 469.5 186.0 467.4 189.0 474.0 192.8 485.2 196.9 500.3 199.0 496.2 199.7 508.5 201.7 524.9 202.4 535.9 203.8 533.2 205.0 545.2 205.8 537.2 207.9 540.0 209.8 550.0 213.0 558.8 217.0 566.0 220.2 570.0 221.8 568.3 223.8 577.1 226.6 581.1 228.2 589.1 229.0 574.7 231.4 574.3 233.0 573.1 235.4 579.5 237.7 566.7 239.3 571.5 240.9 570.7 244.1 577.9 245.7 573.9 246.9 585.9 249.3 586.7 251.7 572.3 253.7 576.3 255.7 569.1 258.1 591.5 260.9 585.1 262.5 578.0" fill="none" stroke="#e8141a" stroke-width="1.5" stroke-linejoin="round" />
<path d="M68.5 527.6L69.5 527.6 70.5 527.6 71.5 527.6 72.5 527.6 73.5 527.5 74.5 527.5 75.5 527.5 76.5 527.5 77.5 527.4 78.5 527.4 79.5 527.4 80.5 527.3 81.5 527.3 82.5 527.2 83.5 527.2 84.5 527.1 85.5 527.1 86.5 527.0 87.5 526.9 88.5 526.9 89.5 526.8 90.5 526.7 91.5 526.6 92.5 526.5 93.5 526.4 94.5 526.2 95.5 525.9 96.5 525.6 97.5 525.1 98.5 524.6 99.5 524.1 100.5 523.6 101.5 523.0 102.5 522.4 103.5 521.8 104.5 521.3 105.5 520.7 106.5 520.1 107.5 519.5 108.5 518.8 109.5 518.1 110.5 517.4 111.5 516.7 112.5 516.1 113.5 515.5 114.5 514.9 115.5 514.5 116.5 514.1 117.5 513.8 118.5 513.6 119.5 513.4 120.5 513.2 121.5 513.0 122.5 512.9 123.5 512.7 124.5 512.6 125.5 512.4 126.5 512.3 127.5 512.2 128.5 512.1 129.5 512.0 130.5 511.9 131.5 511.8 132.5 511.6 133.5 511.4 134.5 511.2 135.5 510.8 136.5 510.3 137.5 509.7 138.5 508.9 139.5 508.1 140.5 507.2 141.5 506.2 142.5 505.2 143.5 504.1 144.5 502.8 145.5 501.3 146.5 499.6 147.5 498.0 148.5 496.3 149.5 494.8 150.5 493.4 151.5 492.1 152.5 490.9 153.5 489.7 154.5 488.4 155.5 486.9 156.5 485.2 157.5 483.2 158.5 481.0 159.5 478.7 160.5 476.5 161.5 474.4 162.5 472.4 163.5 470.5 164.5 468.8 165.5 467.4 166.5 466.1 167.5 464.9 168.5 463.9 169.5 463.0 170.5 462.1 171.5 461.2 172.5 460.3 173.5 459.4 174.5 458.7 175.5 458.0 176.5 457.5 177.5 457.2 178.5 457.2 179.5 457.6 180.5 458.2 181.5 459.1 182.5 460.2 183.5 461.4 184.5 462.9 185.5 464.7 186.5 466.9 187.5 469.4 188.5 472.1 189.5 474.8 190.5 477.6 191.5 480.6 192.5 483.7 193.5 486.9 194.5 490.3 195.5 493.7 196.5 497.1 197.5 500.6 198.5 504.1 199.5 507.8 200.5 511.7 201.5 515.6 202.5 519.6 203.5 523.5 204.5 527.3 205.5 530.9 206.5 534.4 207.5 537.8 208.5 541.1 209.5 544.4 210.5 547.6 211.5 550.6 212.5 553.5 213.5 556.3 214.5 558.8 215.5 561.1 216.5 563.2 217.5 565.4 218.5 567.4 219.5 569.3 220.5 571.1 221.5 572.6 222.5 573.9 223.5 575.0 224.5 575.8 225.5 576.6 226.5 577.3 227.5 578.0 228.5 578.6 229.5 579.2 230.5 579.7 231.5 580.2 232.5 580.6 233.5 581.0 234.5 581.3 235.5 581.6 236.5 581.7 237.5 581.9 238.5 582.0 239.5 582.1 240.5 582.2 241.5 582.3 242.5 582.4 243.5 582.5 244.5 582.6 245.5 582.7 246.5 582.8 247.5 582.9 248.5 582.9 249.5 583.0 250.5 583.1 251.5 583.1 252.5 583.2 253.5 583.2 254.5 583.3 255.5 583.3 256.5 583.3 257.5 583.4 258.5 583.4 259.5 583.4 260.5 583.4 261.5 583.4" fill="none" stroke="#2622cc" stroke-width="1.15" stroke-linejoin="round" />
<path d="M31.9 512.5L34.7 521.3 35.9 521.3 37.5 516.6 41.0 521.6 42.5 513.1 44.7 510.0 47.2 517.5 48.8 527.2 51.3 522.5 53.5 501.3 56.3 509.4 58.5 524.4 63.5 512.8 66.0 535.0 68.5 527.6" fill="none" stroke="#1812c8" stroke-width="1.8" stroke-linejoin="round" />
<path d="M262.5 578.0L263.1 575.5 266.5 597.5 267.9 581.0 269.2 592.3 273.0 583.1 277.9 595.4 280.6 572.4 283.0 572.4 286.8 591.3 289.2 575.1" fill="none" stroke="#1812c8" stroke-width="1.8" stroke-linejoin="round" />
<path d="M415.7 591.7L416.7 591.7 417.7 591.7 418.7 591.7 419.7 591.7 420.7 591.7 421.7 591.7 422.7 591.6 423.7 591.5 424.7 591.4 425.7 591.3 426.7 591.1 427.7 590.9 428.7 590.7 429.7 590.4 430.7 590.0 431.7 589.5 432.7 588.9 433.7 588.2 434.7 587.5 435.7 586.5 436.7 585.5 437.7 584.2 438.7 582.9 439.7 581.3 440.7 579.6 441.7 577.6 442.7 575.5 443.7 573.2 444.7 570.8 445.7 568.1 446.7 565.3 447.7 562.4 448.7 559.4 449.7 556.3 450.7 553.2 451.7 550.1 452.7 547.1 453.7 544.1 454.7 541.3 455.7 538.6 456.7 536.2 457.7 534.1 458.7 532.3 459.7 530.8 460.7 529.7 461.7 529.0 462.7 528.7 463.7 528.8 464.7 529.4 465.7 530.4 466.7 531.7 467.7 533.4 468.7 535.5 469.7 537.9 470.7 540.5 471.7 543.4 472.7 546.4 473.7 549.6 474.7 552.8 475.7 556.1 476.7 559.4 477.7 562.6 478.7 565.8 479.7 568.8 480.7 571.7 481.7 574.5 482.7 577.1 483.7 579.5 484.7 581.7 485.7 583.8 486.7 585.6 487.7 587.3 488.7 588.7 489.7 590.1 490.7 591.2 491.7 592.2 492.7 593.1 493.7 593.8 494.7 594.5 495.7 595.1 496.7 595.5 497.7 595.9 498.7 596.3 499.7 596.6 500.7 596.8 501.7 597.0 502.7 597.2 503.7 597.3 504.7 597.5 505.7 597.6 506.7 597.6 507.7 597.7 508.7 597.8 509.7 597.8 510.7 597.9" fill="none" stroke="#f2a21e" stroke-width="1.15" stroke-linejoin="round" />
<path d="M439.7 592.5L440.7 592.5 441.7 592.6 442.7 592.6 443.7 592.6 444.7 592.6 445.7 592.6 446.7 592.5 447.7 592.5 448.7 592.4 449.7 592.3 450.7 592.1 451.7 591.9 452.7 591.7 453.7 591.4 454.7 591.0 455.7 590.5 456.7 589.9 457.7 589.3 458.7 588.4 459.7 587.5 460.7 586.4 461.7 585.1 462.7 583.6 463.7 581.9 464.7 580.1 465.7 578.0 466.7 575.7 467.7 573.3 468.7 570.6 469.7 567.8 470.7 564.8 471.7 561.7 472.7 558.5 473.7 555.3 474.7 552.1 475.7 548.9 476.7 545.8 477.7 542.9 478.7 540.1 479.7 537.6 480.7 535.4 481.7 533.5 482.7 532.1 483.7 531.0 484.7 530.4 485.7 530.2 486.7 530.5 487.7 531.2 488.7 532.4 489.7 534.0 490.7 535.9 491.7 538.2 492.7 540.9 493.7 543.8 494.7 546.8 495.7 550.1 496.7 553.4 497.7 556.8 498.7 560.2 499.7 563.6 500.7 566.9 501.7 570.0 502.7 573.1 503.7 575.9 504.7 578.6 505.7 581.0 506.7 583.3 507.7 585.3 508.7 587.2 509.7 588.8 510.7 590.3 511.7 591.5 512.7 592.6 513.7 593.6 514.7 594.4 515.7 595.1 516.7 595.7 517.7 596.2 518.7 596.5 519.7 596.9 520.7 597.1 521.7 597.3 522.7 597.5 523.7 597.6 524.7 597.8 525.7 597.8 526.7 597.9 527.7 598.0 528.7 598.0 529.7 598.0 530.7 598.0 531.7 598.1" fill="none" stroke="#f2a21e" stroke-width="1.15" stroke-linejoin="round" />
<path d="M447.7 592.9L448.7 592.9 449.7 592.9 450.7 593.0 451.7 593.0 452.7 593.0 453.7 593.0 454.7 592.9 455.7 592.9 456.7 592.8 457.7 592.7 458.7 592.5 459.7 592.3 460.7 591.9 461.7 591.5 462.7 591.0 463.7 590.3 464.7 589.5 465.7 588.5 466.7 587.4 467.7 586.0 468.7 584.5 469.7 582.7 470.7 580.7 471.7 578.4 472.7 576.0 473.7 573.4 474.7 570.6 475.7 567.7 476.7 564.6 477.7 561.6 478.7 558.5 479.7 555.5 480.7 552.7 481.7 550.1 482.7 547.7 483.7 545.7 484.7 544.0 485.7 542.8 486.7 542.0 487.7 541.7 488.7 541.9 489.7 542.6 490.7 543.8 491.7 545.4 492.7 547.4 493.7 549.8 494.7 552.4 495.7 555.3 496.7 558.4 497.7 561.6 498.7 564.8 499.7 568.1 500.7 571.2 501.7 574.2 502.7 577.1 503.7 579.8 504.7 582.3 505.7 584.6 506.7 586.6 507.7 588.5 508.7 590.1 509.7 591.5 510.7 592.7 511.7 593.7 512.7 594.6 513.7 595.3 514.7 595.9 515.7 596.4 516.7 596.8 517.7 597.1 518.7 597.3 519.7 597.5 520.7 597.7 521.7 597.8 522.7 597.9 523.7 597.9 524.7 598.0 525.7 598.0 526.7 598.0 527.7 598.1" fill="none" stroke="#f2a21e" stroke-width="1.15" stroke-linejoin="round" />
<path d="M293.7 585.7L294.7 585.7 295.7 585.7 296.7 585.7 297.7 585.7 298.7 585.7 299.7 585.7 300.7 585.7 301.7 585.7 302.7 585.7 303.7 585.7 304.7 585.7 305.7 585.7 306.7 585.7 307.7 585.7 308.7 585.7 309.7 585.7 310.7 585.7 311.7 585.7 312.7 585.7 313.7 585.7 314.7 585.7 315.7 585.7 316.7 585.7 317.7 585.7 318.7 585.7 319.7 585.7 320.7 585.7 321.7 585.7 322.7 585.7 323.7 585.7 324.7 585.7 325.7 585.7 326.7 585.8 327.7 585.8 328.7 585.8 329.7 585.9 330.7 586.0 331.7 586.1 332.7 586.2 333.7 586.3 334.7 586.4 335.7 586.5 336.7 586.6 337.7 586.7 338.7 586.8 339.7 587.0 340.7 587.1 341.7 587.2 342.7 587.4 343.7 587.5 344.7 587.7 345.7 587.8 346.7 588.0 347.7 588.2 348.7 588.4 349.7 588.6 350.7 588.7 351.7 588.9 352.7 589.1 353.7 589.3 354.7 589.5 355.7 589.7 356.7 589.9 357.7 590.1 358.7 590.2 359.7 590.4 360.7 590.6 361.7 590.7 362.7 590.8 363.7 591.0 364.7 591.1 365.7 591.2 366.7 591.3 367.7 591.4 368.7 591.4 369.7 591.5 370.7 591.5 371.7 591.6 372.7 591.6 373.7 591.6 374.7 591.6 375.7 591.6 376.7 591.6 377.7 591.6 378.7 591.6 379.7 591.6 380.7 591.6 381.7 591.6 382.7 591.6 383.7 591.6 384.7 591.6 385.7 591.6 386.7 591.6 387.7 591.6 388.7 591.6 389.7 591.6 390.7 591.6 391.7 591.6 392.7 591.6 393.7 591.6 394.7 591.6 395.7 591.6 396.7 591.6 397.7 591.6 398.7 591.6 399.7 591.6 400.7 591.6 401.7 591.6 402.7 591.6 403.7 591.6 404.7 591.6 405.7 591.6 406.7 591.6 407.7 591.7 408.7 591.7 409.7 591.7 410.7 591.7 411.7 591.7 412.7 591.7 413.7 591.7 414.7 591.8 415.7 591.8 416.7 591.8 417.7 591.8 418.7 591.9 419.7 591.9 420.7 591.9 421.7 591.9 422.7 592.0 423.7 592.0 424.7 592.0 425.7 592.0 426.7 592.1 427.7 592.1 428.7 592.1 429.7 592.2 430.7 592.2 431.7 592.3 432.7 592.3 433.7 592.3 434.7 592.4 435.7 592.4 436.7 592.4 437.7 592.5 438.7 592.5 439.7 592.6 440.7 592.6 441.7 592.6 442.7 592.7 443.7 592.7 444.7 592.8 445.7 592.8 446.7 592.9 447.7 592.9 448.7 593.0 449.7 593.0 450.7 593.1 451.7 593.1 452.7 593.2 453.7 593.2 454.7 593.3 455.7 593.4 456.7 593.5 457.7 593.6 458.7 593.6 459.7 593.7 460.7 593.8 461.7 593.9 462.7 594.0 463.7 594.2 464.7 594.3 465.7 594.4 466.7 594.5 467.7 594.6 468.7 594.7 469.7 594.9 470.7 595.0 471.7 595.1 472.7 595.2 473.7 595.3 474.7 595.5 475.7 595.6 476.7 595.7 477.7 595.8 478.7 595.9 479.7 596.0 480.7 596.1 481.7 596.2 482.7 596.3 483.7 596.4 484.7 596.5 485.7 596.6 486.7 596.7 487.7 596.8 488.7 596.8 489.7 596.9 490.7 597.0 491.7 597.0 492.7 597.1 493.7 597.1 494.7 597.2 495.7 597.3 496.7 597.3 497.7 597.4 498.7 597.4 499.7 597.5 500.7 597.5 501.7 597.6 502.7 597.6 503.7 597.7 504.7 597.7 505.7 597.8 506.7 597.8 507.7 597.8 508.7 597.9 509.7 597.9 510.7 597.9 511.7 598.0 512.7 598.0 513.7 598.0 514.7 598.0 515.7 598.1 516.7 598.1 517.7 598.1 518.7 598.1 519.7 598.1 520.7 598.1 521.7 598.1 522.7 598.1 523.7 598.1 524.7 598.1 525.7 598.1 526.7 598.1 527.7 598.1 528.7 598.1 529.7 598.1 530.7 598.1 531.7 598.1 532.7 598.1 533.7 598.1 534.7 598.1 535.7 598.1 536.7 598.1 537.7 598.1 538.7 598.1 539.7 598.1 540.7 598.1 541.7 598.1 542.7 598.1 543.7 598.1 544.7 598.1 545.7 598.1" fill="none" stroke="#44d62c" stroke-width="1.4" stroke-linejoin="round" />
<path d="M293.7 586.2L295.7 586.4 297.7 586.4 299.7 586.2 301.7 586.0 303.7 585.8 305.7 585.5 307.7 585.5 309.7 585.7 311.7 586.1 313.7 585.7 315.7 585.6 317.7 585.4 319.7 585.6 321.7 585.2 323.7 585.3 325.7 585.6 327.7 585.6 329.7 583.9 331.7 581.5 333.7 579.1 335.7 575.5 337.7 571.8 339.7 567.6 341.7 564.0 343.7 560.6 345.7 557.1 347.7 554.3 349.7 553.4 351.7 554.4 353.7 556.1 355.7 558.7 357.7 562.5 359.7 567.5 361.7 572.6 363.7 577.1 365.7 581.0 367.7 584.8 369.7 587.4 371.7 589.6 373.7 590.1 375.7 590.8 377.7 590.9 379.7 591.4 381.7 591.7 383.7 591.5 385.7 591.2 387.7 591.1 389.7 591.3 391.7 591.2 393.7 591.4 395.7 591.7 397.7 592.1 399.7 591.8 401.7 592.0 403.7 591.8 405.7 592.2 407.7 591.8 409.7 591.7 411.7 591.5 413.7 591.6 415.7 591.9 417.7 591.9 419.7 591.8 421.7 591.4 423.7 590.5 425.7 589.8 427.7 588.2 429.7 586.5 431.7 584.5 433.7 582.8 435.7 580.6 437.7 577.3 439.7 573.3 441.7 569.2 443.7 565.2 445.7 560.8 447.7 555.7 449.7 549.9 451.7 543.2 453.7 536.3 455.7 529.4 457.7 523.0 459.7 516.5 461.7 510.8 463.7 505.3 465.7 499.9 467.7 494.0 469.7 488.8 471.7 484.3 473.7 479.9 475.7 474.5 477.7 469.9 479.7 465.4 481.7 461.4 483.7 459.5 485.7 460.1 487.7 462.2 489.7 465.6 491.7 472.0 493.7 483.1 495.7 497.7 497.7 513.3 499.7 528.3 501.7 540.9 503.7 552.6 505.7 562.8 507.7 570.9 509.7 577.4 511.7 582.7 513.7 587.1 515.7 589.9 517.7 592.6 519.7 594.6 521.7 596.3 523.7 597.2 525.7 597.1 527.7 597.3 529.7 597.3 531.7 598.0 533.7 598.2 535.7 598.2 537.7 597.9 539.7 597.9 541.7 597.9 543.7 598.2 545.7 598.1" fill="none" stroke="#e8141a" stroke-width="1.0" stroke-linejoin="round" />
<path d="M293.7 585.7L294.7 585.7 295.7 585.7 296.7 585.7 297.7 585.7 298.7 585.7 299.7 585.7 300.7 585.7 301.7 585.7 302.7 585.7 303.7 585.7 304.7 585.7 305.7 585.7 306.7 585.7 307.7 585.7 308.7 585.7 309.7 585.7 310.7 585.7 311.7 585.7 312.7 585.7 313.7 585.7 314.7 585.7 315.7 585.7 316.7 585.7 317.7 585.7 318.7 585.7 319.7 585.7 320.7 585.7 321.7 585.7 322.7 585.7 323.7 585.7 324.7 585.7 325.7 585.7 326.7 585.5 327.7 585.1 328.7 584.4 329.7 583.5 330.7 582.4 331.7 581.3 332.7 580.1 333.7 578.8 334.7 577.3 335.7 575.6 336.7 573.9 337.7 572.0 338.7 570.0 339.7 567.8 340.7 565.6 341.7 563.5 342.7 561.6 343.7 559.7 344.7 557.9 345.7 556.1 346.7 554.6 347.7 553.4 348.7 552.8 349.7 552.8 350.7 553.2 351.7 553.9 352.7 554.8 353.7 555.7 354.7 556.9 355.7 558.4 356.7 560.2 357.7 562.2 358.7 564.3 359.7 566.6 360.7 569.2 361.7 571.8 362.7 574.2 363.7 576.5 364.7 578.7 365.7 580.8 366.7 582.6 367.7 584.2 368.7 585.6 369.7 586.9 370.7 587.9 371.7 588.7 372.7 589.3 373.7 589.8 374.7 590.2 375.7 590.5 376.7 590.8 377.7 590.9 378.7 591.0 379.7 591.0 380.7 591.1 381.7 591.1 382.7 591.1 383.7 591.2 384.7 591.2 385.7 591.2 386.7 591.3 387.7 591.3 388.7 591.3 389.7 591.3 390.7 591.3 391.7 591.4 392.7 591.4 393.7 591.4 394.7 591.4 395.7 591.4 396.7 591.5 397.7 591.5 398.7 591.5 399.7 591.5 400.7 591.5 401.7 591.5 402.7 591.5 403.7 591.5 404.7 591.5 405.7 591.6 406.7 591.6 407.7 591.6 408.7 591.6 409.7 591.6 410.7 591.6 411.7 591.6 412.7 591.6 413.7 591.6 414.7 591.6 415.7 591.6 416.7 591.6 417.7 591.6 418.7 591.6 419.7 591.6 420.7 591.5 421.7 591.3 422.7 590.9 423.7 590.5 424.7 590.0 425.7 589.5 426.7 588.8 427.7 588.0 428.7 587.1 429.7 586.3 430.7 585.3 431.7 584.3 432.7 583.1 433.7 581.9 434.7 580.6 435.7 579.2 436.7 577.8 437.7 576.2 438.7 574.4 439.7 572.6 440.7 570.6 441.7 568.6 442.7 566.6 443.7 564.6 444.7 562.6 445.7 560.5 446.7 558.2 447.7 555.7 448.7 552.8 449.7 549.7 450.7 546.4 451.7 543.0 452.7 539.7 453.7 536.5 454.7 533.2 455.7 529.9 456.7 526.6 457.7 523.2 458.7 519.8 459.7 516.6 460.7 513.5 461.7 510.6 462.7 507.8 463.7 505.1 464.7 502.4 465.7 499.5 466.7 496.5 467.7 493.6 468.7 490.9 469.7 488.4 470.7 486.2 471.7 484.2 472.7 482.1 473.7 479.8 474.7 477.4 475.7 474.7 476.7 472.1 477.7 469.7 478.7 467.4 479.7 465.1 480.7 462.9 481.7 461.1 482.7 459.9 483.7 459.5 484.7 459.6 485.7 460.1 486.7 460.9 487.7 461.9 488.7 463.4 489.7 465.5 490.7 468.4 491.7 472.2 492.7 477.3 493.7 483.5 494.7 490.2 495.7 497.2 496.7 504.6 497.7 512.4 498.7 520.1 499.7 527.4 500.7 534.1 501.7 540.3 502.7 546.2 503.7 551.8 504.7 557.2 505.7 562.1 506.7 566.5 507.7 570.4 508.7 573.9 509.7 577.0 510.7 579.8 511.7 582.2 512.7 584.4 513.7 586.3 514.7 588.0 515.7 589.5 516.7 590.8 517.7 591.9 518.7 592.9 519.7 593.7 520.7 594.5 521.7 595.2 522.7 595.8 523.7 596.3 524.7 596.7 525.7 597.0 526.7 597.1 527.7 597.2 528.7 597.3 529.7 597.4 530.7 597.5 531.7 597.6 532.7 597.6 533.7 597.7 534.7 597.8 535.7 597.8 536.7 597.9 537.7 597.9 538.7 598.0 539.7 598.0 540.7 598.0 541.7 598.1 542.7 598.1 543.7 598.1 544.7 598.1 545.7 598.1" fill="none" stroke="#2622cc" stroke-width="1.05" stroke-linejoin="round" />
<path d="M554.8 579.4L555.8 579.4 556.8 579.3 557.8 579.3 558.8 579.2 559.8 579.2 560.8 579.1 561.8 579.0 562.8 579.0 563.8 578.9 564.8 578.8 565.8 578.7 566.8 578.6 567.8 578.5 568.8 578.3 569.8 578.2 570.8 578.0 571.8 577.8 572.8 577.6 573.8 577.3 574.8 577.1 575.8 576.8 576.8 576.4 577.8 576.1 578.8 575.7 579.8 575.2 580.8 574.7 581.8 574.2 582.8 573.5 583.8 572.9 584.8 572.2 585.8 571.4 586.8 570.5 587.8 569.6 588.8 568.6 589.8 567.5 590.8 566.4 591.8 565.1 592.8 563.8 593.8 562.4 594.8 560.9 595.8 559.4 596.8 557.7 597.8 556.0 598.8 554.2 599.8 552.3 600.8 550.3 601.8 548.3 602.8 546.2 603.8 544.1 604.8 541.9 605.8 539.7 606.8 537.5 607.8 535.2 608.8 533.0 609.8 530.7 610.8 528.5 611.8 526.3 612.8 524.1 613.8 522.0 614.8 520.0 615.8 518.0 616.8 516.2 617.8 514.4 618.8 512.8 619.8 511.3 620.8 510.0 621.8 508.8 622.8 507.7 623.8 506.9 624.8 506.2 625.8 505.7 626.8 505.3 627.8 505.2 628.8 505.3 629.8 505.6 630.8 506.2 631.8 507.0 632.8 508.1 633.8 509.4 634.8 511.0 635.8 512.7 636.8 514.7 637.8 516.8 638.8 519.1 639.8 521.5 640.8 524.0 641.8 526.6 642.8 529.3 643.8 532.0 644.8 534.8 645.8 537.6 646.8 540.3 647.8 543.0 648.8 545.7 649.8 548.4 650.8 550.9 651.8 553.4 652.8 555.7 653.8 558.0 654.8 560.2 655.8 562.2 656.8 564.2 657.8 566.0 658.8 567.7 659.8 569.3 660.8 570.8 661.8 572.1 662.8 573.3 663.8 574.5 664.8 575.5 665.8 576.5 666.8 577.3 667.8 578.1 668.8 578.8 669.8 579.4 670.8 580.0 671.8 580.5 672.8 580.9 673.8 581.3 674.8 581.6 675.8 581.9 676.8 582.2 677.8 582.4 678.8 582.6 679.8 582.8 680.8 583.0 681.8 583.1 682.8 583.3 683.8 583.4 684.8 583.5 685.8 583.6 686.8 583.7 687.8 583.8 688.8 583.8 689.8 583.9 690.8 584.0" fill="none" stroke="#f2a21e" stroke-width="1.15" stroke-linejoin="round" />
<path d="M626.8 581.2L627.8 581.3 628.8 581.3 629.8 581.3 630.8 581.3 631.8 581.3 632.8 581.3 633.8 581.3 634.8 581.3 635.8 581.3 636.8 581.2 637.8 581.1 638.8 581.0 639.8 580.9 640.8 580.7 641.8 580.6 642.8 580.3 643.8 580.1 644.8 579.7 645.8 579.3 646.8 578.9 647.8 578.4 648.8 577.8 649.8 577.1 650.8 576.3 651.8 575.5 652.8 574.5 653.8 573.4 654.8 572.1 655.8 570.8 656.8 569.3 657.8 567.6 658.8 565.8 659.8 563.8 660.8 561.7 661.8 559.4 662.8 556.9 663.8 554.2 664.8 551.4 665.8 548.4 666.8 545.3 667.8 542.0 668.8 538.6 669.8 535.1 670.8 531.4 671.8 527.7 672.8 523.8 673.8 520.0 674.8 516.1 675.8 512.2 676.8 508.4 677.8 504.6 678.8 501.0 679.8 497.4 680.8 494.0 681.8 490.8 682.8 487.8 683.8 485.0 684.8 482.5 685.8 480.4 686.8 478.5 687.8 476.9 688.8 475.8 689.8 474.9 690.8 474.5 691.8 474.4 692.8 474.7 693.8 475.2 694.8 475.9 695.8 477.0 696.8 478.3 697.8 479.8 698.8 481.6 699.8 483.6 700.8 485.9 701.8 488.3 702.8 490.9 703.8 493.6 704.8 496.5 705.8 499.5 706.8 502.7 707.8 505.9 708.8 509.2 709.8 512.5 710.8 515.9 711.8 519.2 712.8 522.6 713.8 526.0 714.8 529.3 715.8 532.6 716.8 535.8 717.8 538.9 718.8 542.0 719.8 544.9 720.8 547.8 721.8 550.5 722.8 553.2 723.8 555.7 724.8 558.1 725.8 560.4 726.8 562.5 727.8 564.6 728.8 566.5 729.8 568.3 730.8 570.0 731.8 571.5 732.8 573.0 733.8 574.3 734.8 575.6 735.8 576.7 736.8 577.7 737.8 578.7 738.8 579.6 739.8 580.4 740.8 581.1 741.8 581.8 742.8 582.3 743.8 582.9 744.8 583.4 745.8 583.8 746.8 584.2 747.8 584.5 748.8 584.8 749.8 585.1 750.8 585.3 751.8 585.5 752.8 585.7 753.8 585.9 754.8 586.1 755.8 586.2 756.8 586.3 757.8 586.4 758.8 586.5 759.8 586.6 760.8 586.7 761.8 586.7 762.8 586.8 763.8 586.8 764.8 586.9 765.8 586.9 766.8 587.0" fill="none" stroke="#f2a21e" stroke-width="1.15" stroke-linejoin="round" />
<path d="M549.8 579.7L550.8 579.6 551.8 579.6 552.8 579.6 553.8 579.6 554.8 579.5 555.8 579.5 556.8 579.5 557.8 579.4 558.8 579.4 559.8 579.4 560.8 579.4 561.8 579.3 562.8 579.3 563.8 579.3 564.8 579.3 565.8 579.3 566.8 579.3 567.8 579.2 568.8 579.2 569.8 579.2 570.8 579.2 571.8 579.2 572.8 579.2 573.8 579.2 574.8 579.2 575.8 579.2 576.8 579.2 577.8 579.2 578.8 579.2 579.8 579.3 580.8 579.3 581.8 579.3 582.8 579.3 583.8 579.3 584.8 579.4 585.8 579.4 586.8 579.4 587.8 579.5 588.8 579.5 589.8 579.5 590.8 579.6 591.8 579.6 592.8 579.7 593.8 579.7 594.8 579.7 595.8 579.8 596.8 579.8 597.8 579.9 598.8 579.9 599.8 580.0 600.8 580.0 601.8 580.1 602.8 580.1 603.8 580.2 604.8 580.2 605.8 580.3 606.8 580.3 607.8 580.4 608.8 580.4 609.8 580.5 610.8 580.6 611.8 580.6 612.8 580.7 613.8 580.7 614.8 580.8 615.8 580.8 616.8 580.9 617.8 580.9 618.8 580.9 619.8 581.0 620.8 581.0 621.8 581.1 622.8 581.1 623.8 581.2 624.8 581.2 625.8 581.3 626.8 581.3 627.8 581.4 628.8 581.4 629.8 581.5 630.8 581.5 631.8 581.6 632.8 581.6 633.8 581.7 634.8 581.7 635.8 581.8 636.8 581.8 637.8 581.9 638.8 581.9 639.8 582.0 640.8 582.0 641.8 582.1 642.8 582.1 643.8 582.2 644.8 582.2 645.8 582.3 646.8 582.3 647.8 582.4 648.8 582.4 649.8 582.4 650.8 582.5 651.8 582.5 652.8 582.6 653.8 582.6 654.8 582.7 655.8 582.7 656.8 582.8 657.8 582.8 658.8 582.8 659.8 582.9 660.8 582.9 661.8 583.0 662.8 583.0 663.8 583.0 664.8 583.1 665.8 583.1 666.8 583.1 667.8 583.2 668.8 583.2 669.8 583.2 670.8 583.3 671.8 583.3 672.8 583.3 673.8 583.4 674.8 583.4 675.8 583.4 676.8 583.5 677.8 583.5 678.8 583.6 679.8 583.6 680.8 583.6 681.8 583.7 682.8 583.7 683.8 583.8 684.8 583.8 685.8 583.8 686.8 583.9 687.8 583.9 688.8 584.0 689.8 584.0 690.8 584.1 691.8 584.1 692.8 584.2 693.8 584.2 694.8 584.3 695.8 584.3 696.8 584.4 697.8 584.4 698.8 584.5 699.8 584.5 700.8 584.6 701.8 584.6 702.8 584.7 703.8 584.7 704.8 584.8 705.8 584.8 706.8 584.9 707.8 584.9 708.8 585.0 709.8 585.0 710.8 585.1 711.8 585.1 712.8 585.2 713.8 585.2 714.8 585.3 715.8 585.3 716.8 585.4 717.8 585.4 718.8 585.5 719.8 585.5 720.8 585.6 721.8 585.6 722.8 585.7 723.8 585.7 724.8 585.8 725.8 585.8 726.8 585.9 727.8 585.9 728.8 586.0 729.8 586.0 730.8 586.0 731.8 586.1 732.8 586.1 733.8 586.2 734.8 586.2 735.8 586.2 736.8 586.3 737.8 586.3 738.8 586.4 739.8 586.4 740.8 586.4 741.8 586.5 742.8 586.5 743.8 586.5 744.8 586.5 745.8 586.6 746.8 586.6 747.8 586.6 748.8 586.7 749.8 586.7 750.8 586.7 751.8 586.7 752.8 586.7 753.8 586.8 754.8 586.8 755.8 586.8 756.8 586.8 757.8 586.9 758.8 586.9 759.8 586.9 760.8 586.9 761.8 587.0 762.8 587.0 763.8 587.0 764.8 587.0 765.8 587.0 766.8 587.1 767.8 587.1 768.8 587.1 769.8 587.1 770.8 587.1 771.8 587.2 772.8 587.2 773.8 587.2 774.8 587.2 775.8 587.2 776.8 587.3 777.8 587.3 778.8 587.3 779.8 587.3 780.8 587.3 781.8 587.3 782.8 587.3 783.8 587.4 784.8 587.4 785.8 587.4 786.8 587.4 787.8 587.4 788.8 587.4 789.8 587.4 790.8 587.4 791.8 587.5 792.8 587.5 793.8 587.5 794.8 587.5 795.8 587.5 796.8 587.5" fill="none" stroke="#44d62c" stroke-width="1.4" stroke-linejoin="round" />
<path d="M548.7 577.9L552.1 603.1 554.6 565.3 556.6 565.3 559.1 560.1 562.8 552.7 568.0 604.6 570.5 597.2 573.2 600.2 576.2 572.7 578.4 575.0 584.3 567.5 586.5 559.4 589.5 569.0 592.5 531.9 596.9 556.4 601.4 549.7 605.5 517.1 610.3 545.3 614.0 502.3 618.4 504.5 620.0 514.1 623.7 533.4 626.7 514.1 629.6 514.1 632.2 487.4 634.1 499.3 637.1 526.7 640.0 512.6 643.0 524.5 647.4 511.2 653.8 569.0 656.4 557.2 659.3 558.6 661.5 555.7 664.2 563.1 670.4 524.5 672.7 531.9 675.0 532.0 677.1 530.4 680.8 502.3 683.0 480.0 686.0 478.0 688.0 449.0 690.6 472.0 693.0 474.0 697.0 475.0 700.0 482.0 705.0 506.0 710.0 549.0 715.0 517.0 720.0 552.0 725.0 578.0 728.0 569.0 732.0 597.0 736.0 550.0 739.0 558.8 741.3 575.9 744.7 573.6 747.0 562.2 749.8 567.3 752.5 548.0 755.0 584.4 760.4 550.2 765.8 582.7 768.4 608.9 772.1 598.7 776.6 546.8 778.9 555.3 782.3 557.6 784.6 578.2 789.7 600.4 792.6 588.4" fill="none" stroke="#e8141a" stroke-width="1.15" stroke-linejoin="round" />
<path d="M549.8 579.6L550.8 579.6 551.8 579.6 552.8 579.5 553.8 579.5 554.8 579.4 555.8 579.4 556.8 579.3 557.8 579.3 558.8 579.2 559.8 579.2 560.8 579.1 561.8 579.0 562.8 579.0 563.8 578.9 564.8 578.8 565.8 578.7 566.8 578.6 567.8 578.5 568.8 578.3 569.8 578.2 570.8 578.0 571.8 577.8 572.8 577.6 573.8 577.3 574.8 577.1 575.8 576.8 576.8 576.4 577.8 576.1 578.8 575.7 579.8 575.2 580.8 574.7 581.8 574.2 582.8 573.5 583.8 572.9 584.8 572.2 585.8 571.4 586.8 570.5 587.8 569.6 588.8 568.6 589.8 567.5 590.8 566.4 591.8 565.1 592.8 563.8 593.8 562.4 594.8 560.9 595.8 559.4 596.8 557.7 597.8 556.0 598.8 554.2 599.8 552.3 600.8 550.3 601.8 548.3 602.8 546.2 603.8 544.1 604.8 541.9 605.8 539.7 606.8 537.5 607.8 535.2 608.8 533.0 609.8 530.7 610.8 528.5 611.8 526.3 612.8 524.1 613.8 522.0 614.8 520.0 615.8 518.0 616.8 516.2 617.8 514.4 618.8 512.8 619.8 511.3 620.8 509.9 621.8 508.7 622.8 507.7 623.8 506.8 624.8 506.1 625.8 505.6 626.8 505.3 627.8 505.1 628.8 505.2 629.8 505.5 630.8 506.0 631.8 506.8 632.8 507.8 633.8 509.1 634.8 510.6 635.8 512.2 636.8 514.1 637.8 516.1 638.8 518.2 639.8 520.4 640.8 522.8 641.8 525.1 642.8 527.5 643.8 529.9 644.8 532.3 645.8 534.7 646.8 536.9 647.8 539.1 648.8 541.1 649.8 543.0 650.8 544.8 651.8 546.3 652.8 547.6 653.8 548.8 654.8 549.7 655.8 550.3 656.8 550.7 657.8 550.8 658.8 550.7 659.8 550.2 660.8 549.5 661.8 548.5 662.8 547.2 663.8 545.7 664.8 543.9 665.8 541.8 666.8 539.5 667.8 536.9 668.8 534.2 669.8 531.2 670.8 528.1 671.8 524.8 672.8 521.4 673.8 517.9 674.8 514.3 675.8 510.7 676.8 507.1 677.8 503.5 678.8 500.0 679.8 496.6 680.8 493.4 681.8 490.2 682.8 487.3 683.8 484.7 684.8 482.2 685.8 480.1 686.8 478.3 687.8 476.8 688.8 475.6 689.8 474.8 690.8 474.4 691.8 474.3 692.8 474.6 693.8 475.1 694.8 475.9 695.8 477.0 696.8 478.3 697.8 479.8 698.8 481.6 699.8 483.6 700.8 485.9 701.8 488.3 702.8 490.9 703.8 493.6 704.8 496.5 705.8 499.5 706.8 502.7 707.8 505.9 708.8 509.2 709.8 512.5 710.8 515.9 711.8 519.2 712.8 522.6 713.8 526.0 714.8 529.3 715.8 532.6 716.8 535.8 717.8 538.9 718.8 542.0 719.8 544.9 720.8 547.8 721.8 550.5 722.8 553.2 723.8 555.7 724.8 558.1 725.8 560.4 726.8 562.5 727.8 564.6 728.8 566.5 729.8 568.3 730.8 570.0 731.8 571.5 732.8 573.0 733.8 574.3 734.8 575.6 735.8 576.7 736.8 577.7 737.8 578.7 738.8 579.6 739.8 580.4 740.8 581.1 741.8 581.8 742.8 582.3 743.8 582.9 744.8 583.4 745.8 583.8 746.8 584.2 747.8 584.5 748.8 584.8 749.8 585.1 750.8 585.3 751.8 585.5 752.8 585.7 753.8 585.9 754.8 586.1 755.8 586.2 756.8 586.3 757.8 586.4 758.8 586.5 759.8 586.6 760.8 586.7 761.8 586.7 762.8 586.8 763.8 586.8 764.8 586.9 765.8 586.9 766.8 587.0 767.8 587.0 768.8 587.0 769.8 587.1 770.8 587.1 771.8 587.1 772.8 587.2 773.8 587.2 774.8 587.2 775.8 587.2 776.8 587.2 777.8 587.3 778.8 587.3 779.8 587.3 780.8 587.3 781.8 587.3 782.8 587.3 783.8 587.4 784.8 587.4 785.8 587.4 786.8 587.4 787.8 587.4 788.8 587.4 789.8 587.4 790.8 587.4 791.8 587.5 792.8 587.5 793.8 587.5 794.8 587.5 795.8 587.5 796.8 587.5" fill="none" stroke="#2622cc" stroke-width="1.15" stroke-linejoin="round" />
<path d="M546.5 556.9 L549.8 579.7" stroke="#2622cc" stroke-width="1.3" fill="none"/>
<path d="M786 587.4 L789.7 587.6 L792.2 589.8 L796.6 579.3" stroke="#2622cc" stroke-width="1.2" fill="none"/>
<text x="150.7" y="451.8" font-family="&quot;Liberation Sans&quot;, sans-serif" font-size="7.60" font-weight="normal" fill="#222" stroke="#222" stroke-width="0.06" textLength="43.3" lengthAdjust="spacingAndGlyphs" text-anchor="start">Fe2p3</text>
<text x="124.4" y="487.3" font-family="&quot;Liberation Sans&quot;, sans-serif" font-size="7.60" font-weight="normal" fill="#222" stroke="#222" stroke-width="0.06" textLength="43.3" lengthAdjust="spacingAndGlyphs" text-anchor="start">Fe2p3</text>
<text x="89.4" y="498.3" font-family="&quot;Liberation Sans&quot;, sans-serif" font-size="7.60" font-weight="normal" fill="#222" stroke="#222" stroke-width="0.06" textLength="55.5" lengthAdjust="spacingAndGlyphs" text-anchor="start">Fe2p3 D</text>
<line x1="120" y1="508.3" x2="146.3" y2="497.8" stroke="#333" stroke-width="0.9"/>
<text x="169.5" y="497.6" font-family="&quot;Liberation Sans&quot;, sans-serif" font-size="7.60" font-weight="normal" fill="#222" stroke="#222" stroke-width="0.06" textLength="43.4" lengthAdjust="spacingAndGlyphs" text-anchor="start">Fe2p3</text>
<line x1="180.5" y1="457.5" x2="186.6" y2="455.5" stroke="#333" stroke-width="0.9"/>
<ellipse cx="346.9" cy="537.8" rx="15.2" ry="12.7" fill="none" stroke="#1f72c2" stroke-width="2.0"/>
<text x="346.9" y="540.4" font-family="&quot;Liberation Sans&quot;, sans-serif" font-size="7.00" font-weight="normal" fill="#222" stroke="#222" stroke-width="0.06" textLength="20.5" lengthAdjust="spacingAndGlyphs" text-anchor="middle">Sb3d3</text>
<polyline points="352.3,553.6 377.9,549.3" fill="none" stroke="#111" stroke-width="1.0"/>
<line x1="377.9" y1="549.3" x2="368.3" y2="544.7" stroke="#111" stroke-width="1.0"/>
<polygon points="359.9,540.6 370.4,540.5 366.3,548.9" fill="#111"/>
<ellipse cx="415.6" cy="464.3" rx="14.8" ry="13.3" fill="none" stroke="#1f72c2" stroke-width="2.0"/>
<text x="415.8" y="467.7" font-family="&quot;Liberation Sans&quot;, sans-serif" font-size="9.60" font-weight="normal" fill="#1a1a1a" stroke="#1a1a1a" stroke-width="0.05" textLength="26.5" lengthAdjust="spacingAndGlyphs" text-anchor="middle">Sb3d5</text>
<line x1="483.5" y1="460.0" x2="444.0" y2="462.9" stroke="#111" stroke-width="1.0"/>
<polygon points="434.7,463.6 443.7,458.4 444.4,467.5" fill="#111"/>
<text x="456.4" y="499.4" font-family="&quot;Liberation Sans&quot;, sans-serif" font-size="6.00" font-weight="normal" fill="#1a1a1a" stroke="#1a1a1a" stroke-width="0.06" textLength="13.4" lengthAdjust="spacingAndGlyphs" text-anchor="start">O1s</text>
<line x1="460.3" y1="532.0" x2="460.3" y2="512.0" stroke="#111" stroke-width="1.0"/>
<polygon points="460.3,503.8 464.7,512.0 455.9,512.0" fill="#111"/>
<text x="511.6" y="519.0" font-family="&quot;Liberation Sans&quot;, sans-serif" font-size="10.20" font-weight="normal" fill="#1a1a1a" stroke="#1a1a1a" stroke-width="0.05" textLength="16.3" lengthAdjust="spacingAndGlyphs" text-anchor="start">O1s</text>
<line x1="487.8" y1="532.0" x2="502.5" y2="523.6" stroke="#111" stroke-width="1.0"/>
<polygon points="510.6,518.9 504.8,527.5 500.2,519.6" fill="#111"/>
<text x="523.1" y="540.6" font-family="&quot;Liberation Sans&quot;, sans-serif" font-size="10.20" font-weight="normal" fill="#1a1a1a" stroke="#1a1a1a" stroke-width="0.05" textLength="16.3" lengthAdjust="spacingAndGlyphs" text-anchor="start">O1s</text>
<line x1="487.8" y1="543.9" x2="512.1" y2="540.7" stroke="#111" stroke-width="1.0"/>
<polygon points="521.4,539.5 512.7,545.2 511.5,536.2" fill="#111"/>
<text x="610.5" y="502.0" font-family="&quot;Liberation Sans&quot;, sans-serif" font-size="7.40" font-weight="normal" fill="#222" stroke="#222" stroke-width="0.06" textLength="26.1" lengthAdjust="spacingAndGlyphs" text-anchor="start">Zr3d3</text>
<text x="675.2" y="461.5" font-family="&quot;Liberation Sans&quot;, sans-serif" font-size="7.40" font-weight="normal" fill="#222" stroke="#222" stroke-width="0.06" textLength="26.0" lengthAdjust="spacingAndGlyphs" text-anchor="start">Zr3d5</text>
<path d="M99.0 734.9L100.0 734.9 101.0 734.9 102.0 734.9 103.0 734.9 104.0 734.9 105.0 734.9 106.0 734.8 107.0 734.8 108.0 734.7 109.0 734.6 110.0 734.5 111.0 734.4 112.0 734.3 113.0 734.1 114.0 733.9 115.0 733.6 116.0 733.3 117.0 733.0 118.0 732.6 119.0 732.2 120.0 731.7 121.0 731.2 122.0 730.6 123.0 730.0 124.0 729.4 125.0 728.8 126.0 728.1 127.0 727.4 128.0 726.8 129.0 726.1 130.0 725.5 131.0 725.0 132.0 724.5 133.0 724.1 134.0 723.8 135.0 723.6 136.0 723.5 137.0 723.5 138.0 723.7 139.0 723.9 140.0 724.3 141.0 724.8 142.0 725.3 143.0 726.1 144.0 726.9 145.0 727.8 146.0 728.7 147.0 729.8 148.0 730.9 149.0 732.1 150.0 733.3 151.0 734.5 152.0 735.7 153.0 737.0 154.0 738.2 155.0 739.4 156.0 740.6 157.0 741.8 158.0 742.9 159.0 744.0 160.0 745.1 161.0 746.1 162.0 747.1 163.0 748.0 164.0 748.9 165.0 749.8 166.0 750.6 167.0 751.5 168.0 752.3 169.0 753.1 170.0 753.9 171.0 754.7 172.0 755.5 173.0 756.3 174.0 757.2 175.0 758.0 176.0 758.9 177.0 759.9 178.0 760.8 179.0 761.9" fill="none" stroke="#f2a21e" stroke-width="1.15" stroke-linejoin="round" />
<path d="M114.0 735.6L115.0 735.6 116.0 735.7 117.0 735.7 118.0 735.8 119.0 735.8 120.0 735.9 121.0 735.9 122.0 735.9 123.0 736.0 124.0 736.0 125.0 735.9 126.0 735.9 127.0 735.9 128.0 735.8 129.0 735.8 130.0 735.7 131.0 735.6 132.0 735.4 133.0 735.3 134.0 735.1 135.0 734.9 136.0 734.6 137.0 734.3 138.0 733.9 139.0 733.5 140.0 733.0 141.0 732.5 142.0 731.9 143.0 731.2 144.0 730.5 145.0 729.6 146.0 728.7 147.0 727.8 148.0 726.8 149.0 725.7 150.0 724.6 151.0 723.4 152.0 722.3 153.0 721.1 154.0 719.9 155.0 718.6 156.0 717.4 157.0 716.3 158.0 715.1 159.0 714.0 160.0 713.0 161.0 712.1 162.0 711.2 163.0 710.5 164.0 709.9 165.0 709.5 166.0 709.1 167.0 709.0 168.0 709.0 169.0 709.3 170.0 709.7 171.0 710.3 172.0 711.1 173.0 712.1 174.0 713.3 175.0 714.8 176.0 716.4 177.0 718.2 178.0 720.2 179.0 722.4 180.0 724.7 181.0 727.2 182.0 729.8 183.0 732.5 184.0 735.2 185.0 738.1 186.0 740.9 187.0 743.8 188.0 746.7 189.0 749.5 190.0 752.4 191.0 755.2 192.0 758.0 193.0 760.8 194.0 763.5 195.0 766.1 196.0 768.7 197.0 771.2 198.0 773.6 199.0 775.8 200.0 778.0 201.0 780.1 202.0 782.0 203.0 783.8 204.0 785.5 205.0 787.1 206.0 788.5 207.0 789.9 208.0 791.2 209.0 792.4 210.0 793.5 211.0 794.5 212.0 795.5 213.0 796.3 214.0 797.1 215.0 797.8 216.0 798.5 217.0 799.1 218.0 799.6 219.0 800.2 220.0 800.6 221.0 801.1 222.0 801.5 223.0 801.9 224.0 802.3 225.0 802.6 226.0 802.9 227.0 803.2 228.0 803.5" fill="none" stroke="#f2a21e" stroke-width="1.15" stroke-linejoin="round" />
<path d="M143.0 740.9L144.0 741.3 145.0 741.6 146.0 741.9 147.0 742.3 148.0 742.6 149.0 743.0 150.0 743.3 151.0 743.7 152.0 744.0 153.0 744.3 154.0 744.6 155.0 744.9 156.0 745.2 157.0 745.4 158.0 745.5 159.0 745.6 160.0 745.6 161.0 745.6 162.0 745.4 163.0 745.1 164.0 744.7 165.0 744.2 166.0 743.5 167.0 742.7 168.0 741.6 169.0 740.4 170.0 739.0 171.0 737.5 172.0 735.7 173.0 733.7 174.0 731.5 175.0 729.1 176.0 726.5 177.0 723.7 178.0 720.8 179.0 717.8 180.0 714.6 181.0 711.4 182.0 708.1 183.0 704.7 184.0 701.5 185.0 698.2 186.0 695.1 187.0 692.1 188.0 689.4 189.0 686.9 190.0 684.7 191.0 682.9 192.0 681.5 193.0 680.6 194.0 680.1 195.0 680.2 196.0 680.8 197.0 681.8 198.0 683.4 199.0 685.3 200.0 687.5 201.0 690.2 202.0 693.1 203.0 696.4 204.0 700.0 205.0 703.8 206.0 707.8 207.0 712.0 208.0 716.4 209.0 720.8 210.0 725.4 211.0 730.0 212.0 734.6 213.0 739.2 214.0 743.7 215.0 748.1 216.0 752.4 217.0 756.6 218.0 760.6 219.0 764.4 220.0 768.1 221.0 771.6 222.0 774.8 223.0 777.9 224.0 780.8 225.0 783.5 226.0 785.9 227.0 788.2 228.0 790.3 229.0 792.1 230.0 793.9 231.0 795.4 232.0 796.8 233.0 798.0 234.0 799.1 235.0 800.1 236.0 801.0 237.0 801.8 238.0 802.5 239.0 803.1 240.0 803.6 241.0 804.1 242.0 804.5 243.0 804.9 244.0 805.2 245.0 805.5 246.0 805.8 247.0 806.0 248.0 806.2 249.0 806.3 250.0 806.5 251.0 806.6 252.0 806.7 253.0 806.8 254.0 806.9 255.0 806.9 256.0 807.0" fill="none" stroke="#f2a21e" stroke-width="1.15" stroke-linejoin="round" />
<path d="M190.0 774.4L191.0 775.6 192.0 776.8 193.0 778.0 194.0 779.2 195.0 780.4 196.0 781.5 197.0 782.7 198.0 783.8 199.0 784.8 200.0 785.8 201.0 786.7 202.0 787.5 203.0 788.3 204.0 788.9 205.0 789.4 206.0 789.9 207.0 790.2 208.0 790.4 209.0 790.5 210.0 790.5 211.0 790.3 212.0 790.1 213.0 789.7 214.0 789.2 215.0 788.6 216.0 788.0 217.0 787.2 218.0 786.5 219.0 785.7 220.0 784.9 221.0 784.1 222.0 783.4 223.0 782.7 224.0 782.1 225.0 781.7 226.0 781.3 227.0 781.1 228.0 781.0 229.0 781.1 230.0 781.3 231.0 781.7 232.0 782.4 233.0 783.1 234.0 784.1 235.0 785.2 236.0 786.4 237.0 787.7 238.0 789.1 239.0 790.5 240.0 792.0 241.0 793.4 242.0 794.9 243.0 796.2 244.0 797.5 245.0 798.7 246.0 799.9 247.0 800.9 248.0 801.8 249.0 802.7 250.0 803.4 251.0 804.1 252.0 804.6 253.0 805.1 254.0 805.5 255.0 805.8 256.0 806.1 257.0 806.4 258.0 806.6 259.0 806.7 260.0 806.9 261.0 807.0 262.0 807.1 263.0 807.1 264.0 807.2 265.0 807.3 266.0 807.3" fill="none" stroke="#f2a21e" stroke-width="1.15" stroke-linejoin="round" />
<path d="M68.0 734.8L69.0 734.8 70.0 734.8 71.0 734.8 72.0 734.8 73.0 734.8 74.0 734.8 75.0 734.8 76.0 734.8 77.0 734.8 78.0 734.8 79.0 734.8 80.0 734.8 81.0 734.8 82.0 734.8 83.0 734.8 84.0 734.9 85.0 734.9 86.0 734.9 87.0 734.9 88.0 734.9 89.0 734.9 90.0 734.9 91.0 734.9 92.0 734.9 93.0 734.9 94.0 734.9 95.0 734.9 96.0 735.0 97.0 735.0 98.0 735.0 99.0 735.0 100.0 735.0 101.0 735.0 102.0 735.1 103.0 735.1 104.0 735.1 105.0 735.1 106.0 735.2 107.0 735.2 108.0 735.3 109.0 735.3 110.0 735.4 111.0 735.4 112.0 735.5 113.0 735.6 114.0 735.6 115.0 735.7 116.0 735.8 117.0 735.9 118.0 736.0 119.0 736.1 120.0 736.2 121.0 736.2 122.0 736.4 123.0 736.5 124.0 736.6 125.0 736.7 126.0 736.8 127.0 736.9 128.0 737.1 129.0 737.2 130.0 737.4 131.0 737.6 132.0 737.8 133.0 738.0 134.0 738.2 135.0 738.5 136.0 738.7 137.0 739.0 138.0 739.3 139.0 739.6 140.0 740.0 141.0 740.3 142.0 740.6 143.0 741.0 144.0 741.3 145.0 741.7 146.0 742.0 147.0 742.4 148.0 742.8 149.0 743.2 150.0 743.6 151.0 744.1 152.0 744.5 153.0 745.0 154.0 745.5 155.0 746.0 156.0 746.4 157.0 747.0 158.0 747.5 159.0 748.0 160.0 748.5 161.0 749.1 162.0 749.6 163.0 750.2 164.0 750.7 165.0 751.3 166.0 751.9 167.0 752.5 168.0 753.1 169.0 753.8 170.0 754.5 171.0 755.1 172.0 755.9 173.0 756.6 174.0 757.4 175.0 758.2 176.0 759.1 177.0 760.0 178.0 760.9 179.0 761.9 180.0 762.9 181.0 764.0 182.0 765.1 183.0 766.2 184.0 767.4 185.0 768.5 186.0 769.7 187.0 770.9 188.0 772.1 189.0 773.3 190.0 774.5 191.0 775.7 192.0 776.9 193.0 778.1 194.0 779.4 195.0 780.6 196.0 781.8 197.0 783.1 198.0 784.3 199.0 785.5 200.0 786.6 201.0 787.7 202.0 788.8 203.0 789.8 204.0 790.8 205.0 791.7 206.0 792.6 207.0 793.5 208.0 794.3 209.0 795.0 210.0 795.8 211.0 796.5 212.0 797.1 213.0 797.7 214.0 798.3 215.0 798.8 216.0 799.3 217.0 799.8 218.0 800.2 219.0 800.6 220.0 801.0 221.0 801.4 222.0 801.8 223.0 802.1 224.0 802.4 225.0 802.8 226.0 803.0 227.0 803.3 228.0 803.6 229.0 803.8 230.0 804.0 231.0 804.3 232.0 804.4 233.0 804.6 234.0 804.8 235.0 805.0 236.0 805.1 237.0 805.3 238.0 805.4 239.0 805.6 240.0 805.7 241.0 805.8 242.0 806.0 243.0 806.1 244.0 806.2 245.0 806.3 246.0 806.4 247.0 806.5 248.0 806.6 249.0 806.7 250.0 806.8 251.0 806.8 252.0 806.9 253.0 806.9 254.0 807.0 255.0 807.0 256.0 807.1 257.0 807.1 258.0 807.1 259.0 807.2 260.0 807.2 261.0 807.2 262.0 807.3 263.0 807.3 264.0 807.3 265.0 807.3 266.0 807.4 267.0 807.4 268.0 807.4 269.0 807.4 270.0 807.4 271.0 807.4 272.0 807.5 273.0 807.5 274.0 807.5 275.0 807.5 276.0 807.5 277.0 807.5" fill="none" stroke="#44d62c" stroke-width="1.4" stroke-linejoin="round" />
<path d="M68.0 734.8L69.9 731.5 71.8 725.4 73.7 730.9 75.6 740.0 77.5 739.6 79.4 745.7 81.3 741.9 83.2 728.5 85.1 725.3 87.0 727.4 88.9 728.8 90.8 733.3 92.7 728.0 94.6 728.9 96.5 730.7 98.4 730.5 100.3 735.4 102.2 733.2 104.1 733.1 106.0 732.0 107.9 729.8 109.8 725.4 111.7 727.2 113.6 739.3 115.5 746.0 117.4 743.8 119.3 738.8 121.2 731.2 123.1 733.1 125.0 734.5 126.9 728.2 128.8 726.4 130.7 725.9 132.6 724.2 134.5 722.3 136.4 718.7 138.3 716.3 140.2 726.8 142.1 726.5 144.0 716.2 145.9 716.8 147.8 718.7 149.7 711.3 151.6 706.2 153.5 711.2 155.4 710.4 157.3 705.0 159.2 707.0 161.1 701.7 163.0 693.9 164.9 692.0 166.8 694.4 168.7 687.0 170.6 677.0 172.5 679.9 174.4 682.5 176.3 684.5 178.2 685.0 180.1 675.2 182.0 670.8 183.9 673.2 185.8 666.4 187.7 667.8 189.6 665.9 191.5 657.0 193.4 660.5 195.3 665.0 197.2 668.0 199.1 680.0 201.0 689.4 202.9 700.5 204.8 706.1 206.7 702.7 208.6 708.2 210.5 717.8 212.4 723.9 214.3 736.0 216.2 744.6 218.1 741.7 220.0 751.3 221.9 762.4 223.8 765.3 225.7 769.8 227.6 774.2 229.5 777.1 231.4 782.1 233.3 786.1 235.2 785.7 237.1 788.0 239.0 783.7 240.9 783.9 242.8 790.3 244.7 793.8 246.6 792.1 248.5 799.2 250.4 806.2 252.3 797.7 254.2 792.4 256.1 796.6 258.0 803.2 259.9 802.4 261.8 803.7 263.7 804.5 265.6 806.5 267.5 806.4 269.4 804.5 271.3 810.6 273.2 819.9 275.1 813.0 277.0 807.5" fill="none" stroke="#e8141a" stroke-width="1.3" stroke-linejoin="round" />
<path d="M68.0 734.8L69.0 734.8 70.0 734.8 71.0 734.8 72.0 734.8 73.0 734.8 74.0 734.8 75.0 734.8 76.0 734.8 77.0 734.8 78.0 734.8 79.0 734.8 80.0 734.8 81.0 734.8 82.0 734.8 83.0 734.8 84.0 734.8 85.0 734.8 86.0 734.8 87.0 734.8 88.0 734.8 89.0 734.8 90.0 734.8 91.0 734.8 92.0 734.8 93.0 734.8 94.0 734.8 95.0 734.8 96.0 734.8 97.0 734.8 98.0 734.8 99.0 734.8 100.0 734.8 101.0 734.7 102.0 734.7 103.0 734.6 104.0 734.5 105.0 734.3 106.0 734.2 107.0 734.0 108.0 733.8 109.0 733.7 110.0 733.5 111.0 733.3 112.0 733.2 113.0 733.0 114.0 732.8 115.0 732.6 116.0 732.4 117.0 732.2 118.0 732.0 119.0 731.7 120.0 731.4 121.0 731.1 122.0 730.8 123.0 730.5 124.0 730.1 125.0 729.6 126.0 729.1 127.0 728.6 128.0 728.1 129.0 727.5 130.0 727.0 131.0 726.4 132.0 725.8 133.0 725.2 134.0 724.5 135.0 723.8 136.0 723.1 137.0 722.4 138.0 721.7 139.0 720.9 140.0 720.2 141.0 719.5 142.0 718.8 143.0 718.0 144.0 717.3 145.0 716.5 146.0 715.7 147.0 714.9 148.0 714.1 149.0 713.3 150.0 712.4 151.0 711.5 152.0 710.4 153.0 709.3 154.0 708.0 155.0 706.7 156.0 705.4 157.0 704.0 158.0 702.7 159.0 701.3 160.0 700.0 161.0 698.7 162.0 697.4 163.0 696.0 164.0 694.7 165.0 693.4 166.0 692.1 167.0 690.8 168.0 689.5 169.0 688.2 170.0 687.0 171.0 685.8 172.0 684.7 173.0 683.6 174.0 682.5 175.0 681.4 176.0 680.3 177.0 679.2 178.0 678.2 179.0 677.1 180.0 676.0 181.0 674.8 182.0 673.7 183.0 672.5 184.0 671.5 185.0 670.5 186.0 669.6 187.0 668.8 188.0 668.0 189.0 667.5 190.0 667.2 191.0 667.4 192.0 668.0 193.0 668.8 194.0 669.9 195.0 671.1 196.0 672.8 197.0 675.1 198.0 677.8 199.0 680.7 200.0 683.8 201.0 687.0 202.0 690.5 203.0 694.2 204.0 698.0 205.0 702.0 206.0 706.1 207.0 710.0 208.0 714.0 209.0 717.8 210.0 721.8 211.0 725.8 212.0 729.8 213.0 733.8 214.0 737.7 215.0 741.3 216.0 744.7 217.0 747.8 218.0 750.7 219.0 753.3 220.0 755.8 221.0 758.2 222.0 760.6 223.0 762.7 224.0 764.8 225.0 766.8 226.0 768.7 227.0 770.6 228.0 772.3 229.0 773.9 230.0 775.5 231.0 777.0 232.0 778.5 233.0 779.9 234.0 781.2 235.0 782.5 236.0 783.8 237.0 785.0 238.0 786.2 239.0 787.4 240.0 788.6 241.0 789.7 242.0 790.9 243.0 792.0 244.0 793.2 245.0 794.4 246.0 795.5 247.0 796.6 248.0 797.7 249.0 798.7 250.0 799.7 251.0 800.6 252.0 801.4 253.0 802.0 254.0 802.6 255.0 803.1 256.0 803.6 257.0 804.1 258.0 804.5 259.0 804.9 260.0 805.3 261.0 805.7 262.0 806.0 263.0 806.3 264.0 806.5 265.0 806.7 266.0 806.9 267.0 807.0 268.0 807.1 269.0 807.1 270.0 807.2 271.0 807.3 272.0 807.3 273.0 807.4 274.0 807.4 275.0 807.5 276.0 807.5 277.0 807.5" fill="none" stroke="#2622cc" stroke-width="1.15" stroke-linejoin="round" />
<path d="M31.9 735.7L34.4 741.0 35.9 729.7 37.2 733.8 39.7 731.3 41.3 727.2 42.5 731.3 45.0 732.2 46.6 739.7 48.1 739.4 52.2 742.5 56.6 733.8 60.7 739.1 64.7 733.8 66.3 740.0 68.0 734.8" fill="none" stroke="#1812c8" stroke-width="1.8" stroke-linejoin="round" />
<path d="M277.9 807.5L280.0 805.4 281.5 810.3 283.4 810.3 285.3 805.4 287.5 809.5 289.0 817.8" fill="none" stroke="#1812c8" stroke-width="1.8" stroke-linejoin="round" />
<path d="M68 734.8 L95 734.8" stroke="#7890e0" stroke-width="1.6" fill="none"/>
<path d="M438.5 814.6L439.5 814.6 440.5 814.6 441.5 814.6 442.5 814.6 443.5 814.5 444.5 814.5 445.5 814.4 446.5 814.3 447.5 814.2 448.5 814.0 449.5 813.8 450.5 813.5 451.5 813.1 452.5 812.7 453.5 812.1 454.5 811.4 455.5 810.6 456.5 809.6 457.5 808.4 458.5 807.0 459.5 805.3 460.5 803.4 461.5 801.2 462.5 798.6 463.5 795.8 464.5 792.6 465.5 789.0 466.5 785.0 467.5 780.7 468.5 776.0 469.5 770.9 470.5 765.5 471.5 759.8 472.5 753.8 473.5 747.7 474.5 741.4 475.5 735.0 476.5 728.7 477.5 722.4 478.5 716.4 479.5 710.6 480.5 705.2 481.5 700.2 482.5 695.8 483.5 692.1 484.5 689.0 485.5 686.7 486.5 685.2 487.5 684.5 488.5 684.7 489.5 685.7 490.5 687.6 491.5 690.2 492.5 693.6 493.5 697.7 494.5 702.4 495.5 707.6 496.5 713.2 497.5 719.2 498.5 725.5 499.5 731.9 500.5 738.4 501.5 744.8 502.5 751.2 503.5 757.4 504.5 763.4 505.5 769.2 506.5 774.6 507.5 779.6 508.5 784.3 509.5 788.7 510.5 792.6 511.5 796.2 512.5 799.4 513.5 802.3 514.5 804.8 515.5 807.0 516.5 808.9 517.5 810.6 518.5 812.0 519.5 813.2 520.5 814.2 521.5 815.1 522.5 815.8 523.5 816.4 524.5 816.9 525.5 817.3 526.5 817.7 527.5 817.9 528.5 818.1 529.5 818.3 530.5 818.5 531.5 818.6 532.5 818.7 533.5 818.7 534.5 818.8 535.5 818.8 536.5 818.9 537.5 818.9" fill="none" stroke="#f2a21e" stroke-width="1.15" stroke-linejoin="round" />
<path d="M422.5 814.1L423.5 814.1 424.5 814.1 425.5 814.1 426.5 814.1 427.5 814.1 428.5 814.0 429.5 814.0 430.5 813.9 431.5 813.8 432.5 813.7 433.5 813.5 434.5 813.3 435.5 813.1 436.5 812.7 437.5 812.3 438.5 811.8 439.5 811.3 440.5 810.6 441.5 809.8 442.5 808.9 443.5 807.9 444.5 806.7 445.5 805.4 446.5 804.0 447.5 802.4 448.5 800.7 449.5 798.9 450.5 797.0 451.5 795.0 452.5 792.9 453.5 790.8 454.5 788.7 455.5 786.6 456.5 784.6 457.5 782.7 458.5 780.9 459.5 779.3 460.5 777.9 461.5 776.7 462.5 775.9 463.5 775.2 464.5 774.9 465.5 774.9 466.5 775.2 467.5 775.9 468.5 776.8 469.5 777.9 470.5 779.3 471.5 781.0 472.5 782.8 473.5 784.8 474.5 786.8 475.5 789.0 476.5 791.2 477.5 793.4 478.5 795.6 479.5 797.7 480.5 799.8 481.5 801.7 482.5 803.6 483.5 805.3 484.5 806.9 485.5 808.3 486.5 809.6 487.5 810.8 488.5 811.9 489.5 812.8 490.5 813.6 491.5 814.3 492.5 814.9 493.5 815.5 494.5 815.9 495.5 816.3 496.5 816.7 497.5 816.9 498.5 817.2 499.5 817.4 500.5 817.5 501.5 817.7 502.5 817.8 503.5 817.9 504.5 818.0 505.5 818.1 506.5 818.2 507.5 818.2" fill="none" stroke="#f2a21e" stroke-width="1.15" stroke-linejoin="round" />
<path d="M474.5 816.2L475.5 816.2 476.5 816.2 477.5 816.3 478.5 816.3 479.5 816.3 480.5 816.2 481.5 816.2 482.5 816.0 483.5 815.9 484.5 815.7 485.5 815.4 486.5 815.1 487.5 814.7 488.5 814.3 489.5 813.9 490.5 813.5 491.5 813.1 492.5 812.8 493.5 812.5 494.5 812.3 495.5 812.3 496.5 812.4 497.5 812.6 498.5 812.9 499.5 813.3 500.5 813.8 501.5 814.3 502.5 814.8 503.5 815.4 504.5 815.9 505.5 816.4 506.5 816.8 507.5 817.2 508.5 817.5 509.5 817.7 510.5 817.9 511.5 818.1 512.5 818.2 513.5 818.3 514.5 818.4 515.5 818.4 516.5 818.5 517.5 818.5" fill="none" stroke="#f2a21e" stroke-width="1.15" stroke-linejoin="round" />
<path d="M291.5 811.4L292.5 811.4 293.5 811.4 294.5 811.4 295.5 811.4 296.5 811.4 297.5 811.4 298.5 811.4 299.5 811.5 300.5 811.5 301.5 811.5 302.5 811.5 303.5 811.5 304.5 811.5 305.5 811.5 306.5 811.6 307.5 811.6 308.5 811.6 309.5 811.6 310.5 811.6 311.5 811.7 312.5 811.7 313.5 811.7 314.5 811.7 315.5 811.8 316.5 811.8 317.5 811.8 318.5 811.9 319.5 811.9 320.5 812.0 321.5 812.1 322.5 812.1 323.5 812.2 324.5 812.3 325.5 812.4 326.5 812.5 327.5 812.6 328.5 812.8 329.5 812.9 330.5 813.0 331.5 813.1 332.5 813.2 333.5 813.3 334.5 813.4 335.5 813.5 336.5 813.6 337.5 813.6 338.5 813.7 339.5 813.7 340.5 813.7 341.5 813.8 342.5 813.8 343.5 813.8 344.5 813.8 345.5 813.8 346.5 813.8 347.5 813.8 348.5 813.8 349.5 813.8 350.5 813.8 351.5 813.8 352.5 813.8 353.5 813.8 354.5 813.8 355.5 813.8 356.5 813.8 357.5 813.8 358.5 813.8 359.5 813.8 360.5 813.8 361.5 813.8 362.5 813.8 363.5 813.8 364.5 813.8 365.5 813.8 366.5 813.8 367.5 813.8 368.5 813.8 369.5 813.8 370.5 813.8 371.5 813.8 372.5 813.8 373.5 813.8 374.5 813.8 375.5 813.8 376.5 813.8 377.5 813.8 378.5 813.8 379.5 813.8 380.5 813.8 381.5 813.8 382.5 813.8 383.5 813.8 384.5 813.8 385.5 813.8 386.5 813.8 387.5 813.8 388.5 813.8 389.5 813.8 390.5 813.8 391.5 813.8 392.5 813.8 393.5 813.8 394.5 813.8 395.5 813.8 396.5 813.8 397.5 813.8 398.5 813.8 399.5 813.8 400.5 813.8 401.5 813.8 402.5 813.8 403.5 813.8 404.5 813.8 405.5 813.8 406.5 813.8 407.5 813.8 408.5 813.9 409.5 813.9 410.5 813.9 411.5 813.9 412.5 813.9 413.5 813.9 414.5 813.9 415.5 814.0 416.5 814.0 417.5 814.0 418.5 814.0 419.5 814.1 420.5 814.1 421.5 814.1 422.5 814.1 423.5 814.2 424.5 814.2 425.5 814.2 426.5 814.2 427.5 814.3 428.5 814.3 429.5 814.3 430.5 814.4 431.5 814.4 432.5 814.4 433.5 814.4 434.5 814.5 435.5 814.5 436.5 814.5 437.5 814.6 438.5 814.6 439.5 814.6 440.5 814.7 441.5 814.7 442.5 814.7 443.5 814.8 444.5 814.8 445.5 814.8 446.5 814.9 447.5 814.9 448.5 815.0 449.5 815.0 450.5 815.0 451.5 815.1 452.5 815.1 453.5 815.1 454.5 815.2 455.5 815.2 456.5 815.3 457.5 815.3 458.5 815.3 459.5 815.4 460.5 815.4 461.5 815.5 462.5 815.5 463.5 815.6 464.5 815.6 465.5 815.7 466.5 815.7 467.5 815.8 468.5 815.9 469.5 815.9 470.5 816.0 471.5 816.0 472.5 816.1 473.5 816.1 474.5 816.2 475.5 816.2 476.5 816.3 477.5 816.4 478.5 816.4 479.5 816.5 480.5 816.5 481.5 816.6 482.5 816.7 483.5 816.7 484.5 816.8 485.5 816.9 486.5 816.9 487.5 817.0 488.5 817.1 489.5 817.1 490.5 817.2 491.5 817.3 492.5 817.4 493.5 817.4 494.5 817.5 495.5 817.6 496.5 817.7 497.5 817.7 498.5 817.8 499.5 817.9 500.5 817.9 501.5 818.0 502.5 818.0 503.5 818.1 504.5 818.1 505.5 818.2 506.5 818.2 507.5 818.3 508.5 818.3 509.5 818.3 510.5 818.4 511.5 818.4 512.5 818.4 513.5 818.4 514.5 818.5 515.5 818.5 516.5 818.5 517.5 818.6 518.5 818.6 519.5 818.6 520.5 818.6 521.5 818.7 522.5 818.7 523.5 818.7 524.5 818.7 525.5 818.7 526.5 818.8 527.5 818.8 528.5 818.8 529.5 818.8 530.5 818.8 531.5 818.9 532.5 818.9 533.5 818.9 534.5 818.9 535.5 818.9 536.5 818.9 537.5 818.9 538.5 819.0 539.5 819.0 540.5 819.0 541.5 819.0 542.5 819.0 543.5 819.0 544.5 819.0 545.5 819.0" fill="none" stroke="#44d62c" stroke-width="1.4" stroke-linejoin="round" />
<path d="M291.5 811.7L293.5 811.5 295.5 811.6 297.5 811.5 299.5 811.6 301.5 811.6 303.5 811.5 305.5 811.3 307.5 811.2 309.5 811.2 311.5 811.7 313.5 812.0 315.5 811.7 317.5 811.5 319.5 811.3 321.5 810.8 323.5 810.2 325.5 809.5 327.5 809.3 329.5 809.1 331.5 809.2 333.5 809.3 335.5 810.3 337.5 811.5 339.5 812.9 341.5 813.5 343.5 814.0 345.5 813.7 347.5 813.8 349.5 814.1 351.5 814.4 353.5 814.3 355.5 813.8 357.5 813.7 359.5 814.1 361.5 814.0 363.5 813.6 365.5 813.3 367.5 813.4 369.5 813.8 371.5 814.1 373.5 814.2 375.5 814.3 377.5 813.8 379.5 814.0 381.5 814.2 383.5 814.6 385.5 814.5 387.5 814.1 389.5 814.3 391.5 814.1 393.5 814.0 395.5 813.7 397.5 814.1 399.5 814.0 401.5 814.0 403.5 813.8 405.5 813.9 407.5 813.7 409.5 813.5 411.5 813.5 413.5 813.6 415.5 813.6 417.5 813.5 419.5 813.4 421.5 813.3 423.5 813.2 425.5 812.8 427.5 812.8 429.5 812.4 431.5 811.8 433.5 810.3 435.5 808.6 437.5 806.7 439.5 804.7 441.5 801.9 443.5 798.2 445.5 795.2 447.5 791.9 449.5 788.9 451.5 784.3 453.5 778.8 455.5 772.9 457.5 767.0 459.5 760.8 461.5 753.9 463.5 746.3 465.5 737.8 467.5 729.9 469.5 722.4 471.5 715.7 473.5 708.9 475.5 702.5 477.5 695.0 479.5 687.7 481.5 681.4 483.5 677.0 485.5 673.6 487.5 672.2 489.5 672.6 491.5 675.4 493.5 680.0 495.5 686.2 497.5 693.3 499.5 700.9 501.5 709.9 503.5 720.4 505.5 731.6 507.5 743.6 509.5 755.0 511.5 765.2 513.5 773.7 515.5 781.2 517.5 788.3 519.5 794.5 521.5 800.0 523.5 804.8 525.5 808.5 527.5 811.4 529.5 813.8 531.5 815.6 533.5 817.1 535.5 817.9 537.5 818.5 539.5 819.3 541.5 819.3 543.5 819.6 545.5 819.2" fill="none" stroke="#e8141a" stroke-width="1.0" stroke-linejoin="round" />
<path d="M291.5 811.4L292.5 811.4 293.5 811.5 294.5 811.5 295.5 811.6 296.5 811.6 297.5 811.6 298.5 811.6 299.5 811.7 300.5 811.7 301.5 811.7 302.5 811.7 303.5 811.7 304.5 811.7 305.5 811.8 306.5 811.8 307.5 811.8 308.5 811.8 309.5 811.8 310.5 811.8 311.5 811.8 312.5 811.8 313.5 811.8 314.5 811.8 315.5 811.8 316.5 811.8 317.5 811.8 318.5 811.6 319.5 811.3 320.5 810.9 321.5 810.4 322.5 810.0 323.5 809.6 324.5 809.4 325.5 809.3 326.5 809.2 327.5 809.1 328.5 809.1 329.5 809.0 330.5 809.0 331.5 809.2 332.5 809.4 333.5 809.6 334.5 809.9 335.5 810.2 336.5 810.6 337.5 811.1 338.5 811.6 339.5 812.1 340.5 812.6 341.5 813.0 342.5 813.3 343.5 813.5 344.5 813.5 345.5 813.5 346.5 813.5 347.5 813.5 348.5 813.5 349.5 813.5 350.5 813.5 351.5 813.5 352.5 813.5 353.5 813.5 354.5 813.5 355.5 813.5 356.5 813.5 357.5 813.6 358.5 813.6 359.5 813.6 360.5 813.6 361.5 813.6 362.5 813.6 363.5 813.6 364.5 813.6 365.5 813.6 366.5 813.6 367.5 813.6 368.5 813.6 369.5 813.6 370.5 813.6 371.5 813.6 372.5 813.6 373.5 813.6 374.5 813.6 375.5 813.6 376.5 813.6 377.5 813.6 378.5 813.6 379.5 813.6 380.5 813.6 381.5 813.6 382.5 813.6 383.5 813.6 384.5 813.6 385.5 813.6 386.5 813.6 387.5 813.6 388.5 813.6 389.5 813.6 390.5 813.6 391.5 813.6 392.5 813.6 393.5 813.6 394.5 813.6 395.5 813.6 396.5 813.6 397.5 813.6 398.5 813.6 399.5 813.6 400.5 813.6 401.5 813.6 402.5 813.6 403.5 813.6 404.5 813.6 405.5 813.6 406.5 813.6 407.5 813.6 408.5 813.5 409.5 813.5 410.5 813.5 411.5 813.5 412.5 813.5 413.5 813.4 414.5 813.4 415.5 813.4 416.5 813.3 417.5 813.3 418.5 813.3 419.5 813.2 420.5 813.2 421.5 813.1 422.5 813.1 423.5 813.0 424.5 813.0 425.5 812.9 426.5 812.8 427.5 812.5 428.5 812.2 429.5 811.6 430.5 811.1 431.5 810.4 432.5 809.8 433.5 809.2 434.5 808.6 435.5 807.9 436.5 807.1 437.5 806.3 438.5 805.4 439.5 804.2 440.5 802.9 441.5 801.3 442.5 799.6 443.5 797.9 444.5 796.2 445.5 794.7 446.5 793.2 447.5 791.7 448.5 790.0 449.5 788.2 450.5 786.1 451.5 783.7 452.5 781.1 453.5 778.4 454.5 775.6 455.5 772.7 456.5 769.8 457.5 766.7 458.5 763.6 459.5 760.3 460.5 756.9 461.5 753.4 462.5 749.8 463.5 746.0 464.5 742.1 465.5 738.0 466.5 733.9 467.5 730.0 468.5 726.1 469.5 722.3 470.5 718.6 471.5 715.1 472.5 711.7 473.5 708.5 474.5 705.3 475.5 702.0 476.5 698.4 477.5 694.6 478.5 690.9 479.5 687.4 480.5 684.3 481.5 681.4 482.5 678.9 483.5 676.7 484.5 674.9 485.5 673.4 486.5 672.4 487.5 671.8 488.5 671.9 489.5 672.6 490.5 673.7 491.5 675.3 492.5 677.4 493.5 679.9 494.5 682.7 495.5 685.9 496.5 689.4 497.5 693.1 498.5 696.9 499.5 701.0 500.5 705.3 501.5 709.8 502.5 714.6 503.5 719.8 504.5 725.3 505.5 731.0 506.5 737.0 507.5 743.1 508.5 749.0 509.5 754.6 510.5 759.9 511.5 764.8 512.5 769.3 513.5 773.4 514.5 777.3 515.5 781.0 516.5 784.6 517.5 788.1 518.5 791.4 519.5 794.4 520.5 797.3 521.5 800.0 522.5 802.4 523.5 804.6 524.5 806.6 525.5 808.4 526.5 810.0 527.5 811.3 528.5 812.5 529.5 813.5 530.5 814.4 531.5 815.2 532.5 815.9 533.5 816.4 534.5 816.8 535.5 817.1 536.5 817.4 537.5 817.7 538.5 818.0 539.5 818.2 540.5 818.4 541.5 818.6 542.5 818.7 543.5 818.9 544.5 818.9 545.5 819.0" fill="none" stroke="#2622cc" stroke-width="1.05" stroke-linejoin="round" />
<path d="M596.5 817.8L597.5 817.8 598.5 817.8 599.5 817.8 600.5 817.7 601.5 817.7 602.5 817.6 603.5 817.5 604.5 817.4 605.5 817.2 606.5 817.0 607.5 816.8 608.5 816.6 609.5 816.3 610.5 815.9 611.5 815.5 612.5 815.1 613.5 814.6 614.5 814.1 615.5 813.5 616.5 812.9 617.5 812.3 618.5 811.6 619.5 811.0 620.5 810.3 621.5 809.7 622.5 809.1 623.5 808.5 624.5 808.0 625.5 807.6 626.5 807.3 627.5 807.1 628.5 807.0 629.5 807.0 630.5 807.1 631.5 807.3 632.5 807.6 633.5 808.0 634.5 808.5 635.5 809.1 636.5 809.7 637.5 810.3 638.5 811.0 639.5 811.6 640.5 812.3 641.5 812.9 642.5 813.5 643.5 814.1 644.5 814.6 645.5 815.1 646.5 815.5 647.5 815.9 648.5 816.3 649.5 816.6 650.5 816.8 651.5 817.0 652.5 817.2 653.5 817.4 654.5 817.5 655.5 817.6 656.5 817.7 657.5 817.7 658.5 817.8 659.5 817.8 660.5 817.8 661.5 817.9" fill="none" stroke="#f2a21e" stroke-width="1.15" stroke-linejoin="round" />
<path d="M609.5 817.8L610.5 817.8 611.5 817.8 612.5 817.8 613.5 817.7 614.5 817.7 615.5 817.6 616.5 817.5 617.5 817.5 618.5 817.3 619.5 817.2 620.5 817.0 621.5 816.8 622.5 816.6 623.5 816.3 624.5 816.0 625.5 815.6 626.5 815.2 627.5 814.7 628.5 814.1 629.5 813.6 630.5 812.9 631.5 812.3 632.5 811.6 633.5 810.8 634.5 810.0 635.5 809.3 636.5 808.5 637.5 807.7 638.5 807.0 639.5 806.3 640.5 805.7 641.5 805.1 642.5 804.7 643.5 804.3 644.5 804.0 645.5 803.8 646.5 803.8 647.5 803.9 648.5 804.1 649.5 804.3 650.5 804.7 651.5 805.2 652.5 805.8 653.5 806.5 654.5 807.1 655.5 807.9 656.5 808.7 657.5 809.4 658.5 810.2 659.5 811.0 660.5 811.7 661.5 812.4 662.5 813.1 663.5 813.8 664.5 814.4 665.5 814.9 666.5 815.4 667.5 815.9 668.5 816.3 669.5 816.7 670.5 817.0 671.5 817.3 672.5 817.6 673.5 817.8 674.5 818.0 675.5 818.2 676.5 818.4 677.5 818.6 678.5 818.7 679.5 818.9 680.5 819.0 681.5 819.1 682.5 819.2 683.5 819.3" fill="none" stroke="#f2a21e" stroke-width="1.15" stroke-linejoin="round" />
<path d="M633.5 817.8L634.5 817.8 635.5 817.8 636.5 817.8 637.5 817.7 638.5 817.7 639.5 817.6 640.5 817.5 641.5 817.4 642.5 817.3 643.5 817.1 644.5 816.9 645.5 816.6 646.5 816.4 647.5 816.0 648.5 815.6 649.5 815.1 650.5 814.5 651.5 813.9 652.5 813.1 653.5 812.3 654.5 811.3 655.5 810.2 656.5 809.0 657.5 807.7 658.5 806.3 659.5 804.8 660.5 803.1 661.5 801.4 662.5 799.5 663.5 797.7 664.5 795.7 665.5 793.8 666.5 791.8 667.5 789.9 668.5 788.1 669.5 786.3 670.5 784.6 671.5 783.1 672.5 781.8 673.5 780.7 674.5 779.8 675.5 779.1 676.5 778.7 677.5 778.5 678.5 778.6 679.5 779.0 680.5 779.6 681.5 780.5 682.5 781.6 683.5 783.0 684.5 784.5 685.5 786.2 686.5 788.0 687.5 790.0 688.5 792.0 689.5 794.1 690.5 796.2 691.5 798.2 692.5 800.3 693.5 802.3 694.5 804.3 695.5 806.1 696.5 807.9 697.5 809.5 698.5 811.1 699.5 812.5 700.5 813.9 701.5 815.1 702.5 816.2 703.5 817.2 704.5 818.0 705.5 818.8 706.5 819.5 707.5 820.2 708.5 820.7 709.5 821.2 710.5 821.7 711.5 822.0 712.5 822.4 713.5 822.7 714.5 822.9 715.5 823.2 716.5 823.4 717.5 823.6 718.5 823.7 719.5 823.9 720.5 824.0 721.5 824.1 722.5 824.2" fill="none" stroke="#f2a21e" stroke-width="1.15" stroke-linejoin="round" />
<path d="M654.5 817.8L655.5 817.8 656.5 817.8 657.5 817.8 658.5 817.7 659.5 817.7 660.5 817.6 661.5 817.5 662.5 817.4 663.5 817.3 664.5 817.2 665.5 817.0 666.5 816.8 667.5 816.5 668.5 816.1 669.5 815.7 670.5 815.2 671.5 814.6 672.5 813.8 673.5 812.9 674.5 811.9 675.5 810.6 676.5 809.2 677.5 807.5 678.5 805.6 679.5 803.4 680.5 800.9 681.5 798.1 682.5 794.9 683.5 791.5 684.5 787.7 685.5 783.5 686.5 779.0 687.5 774.1 688.5 768.9 689.5 763.4 690.5 757.6 691.5 751.6 692.5 745.4 693.5 739.1 694.5 732.7 695.5 726.3 696.5 719.9 697.5 713.7 698.5 707.7 699.5 702.0 700.5 696.7 701.5 691.9 702.5 687.6 703.5 683.8 704.5 680.8 705.5 678.4 706.5 676.8 707.5 675.9 708.5 675.9 709.5 676.6 710.5 678.0 711.5 680.1 712.5 683.0 713.5 686.4 714.5 690.5 715.5 695.1 716.5 700.2 717.5 705.7 718.5 711.5 719.5 717.6 720.5 723.9 721.5 730.2 722.5 736.7 723.5 743.1 724.5 749.4 725.5 755.6 726.5 761.6 727.5 767.3 728.5 772.8 729.5 778.1 730.5 783.0 731.5 787.6 732.5 791.8 733.5 795.7 734.5 799.3 735.5 802.6 736.5 805.5 737.5 808.2 738.5 810.6 739.5 812.6 740.5 814.5 741.5 816.1 742.5 817.5 743.5 818.7 744.5 819.8 745.5 820.7 746.5 821.5 747.5 822.1 748.5 822.7 749.5 823.1 750.5 823.5 751.5 823.8 752.5 824.1 753.5 824.3 754.5 824.5 755.5 824.6 756.5 824.8 757.5 824.9 758.5 824.9 759.5 825.0 760.5 825.1 761.5 825.1 762.5 825.1 763.5 825.2" fill="none" stroke="#f2a21e" stroke-width="1.15" stroke-linejoin="round" />
<path d="M546.5 817.9L547.5 817.9 548.5 817.9 549.5 817.9 550.5 817.9 551.5 817.9 552.5 817.9 553.5 817.9 554.5 817.9 555.5 817.9 556.5 817.9 557.5 817.9 558.5 817.9 559.5 817.9 560.5 817.9 561.5 817.9 562.5 817.9 563.5 817.9 564.5 817.9 565.5 817.9 566.5 817.9 567.5 817.9 568.5 817.9 569.5 817.9 570.5 817.9 571.5 817.9 572.5 817.9 573.5 817.9 574.5 817.9 575.5 817.9 576.5 817.9 577.5 817.9 578.5 817.9 579.5 817.9 580.5 817.9 581.5 817.9 582.5 817.9 583.5 817.9 584.5 817.9 585.5 817.9 586.5 817.9 587.5 817.9 588.5 817.9 589.5 817.9 590.5 817.9 591.5 817.9 592.5 817.9 593.5 817.9 594.5 817.9 595.5 817.9 596.5 817.9 597.5 817.9 598.5 817.9 599.5 817.9 600.5 817.9 601.5 817.9 602.5 817.9 603.5 817.9 604.5 817.9 605.5 817.9 606.5 817.9 607.5 817.9 608.5 817.9 609.5 817.9 610.5 817.9 611.5 817.9 612.5 817.9 613.5 817.9 614.5 817.9 615.5 817.9 616.5 817.9 617.5 817.9 618.5 817.9 619.5 817.9 620.5 817.9 621.5 817.9 622.5 817.9 623.5 817.9 624.5 817.9 625.5 817.9 626.5 817.9 627.5 817.9 628.5 817.9 629.5 817.9 630.5 817.9 631.5 817.9 632.5 817.9 633.5 817.9 634.5 817.9 635.5 817.9 636.5 817.9 637.5 817.9 638.5 817.9 639.5 817.9 640.5 817.9 641.5 817.9 642.5 817.9 643.5 817.9 644.5 817.9 645.5 817.9 646.5 817.9 647.5 817.9 648.5 817.9 649.5 817.9 650.5 817.9 651.5 817.9 652.5 817.9 653.5 817.9 654.5 817.9 655.5 817.9 656.5 817.9 657.5 817.9 658.5 817.9 659.5 817.9 660.5 817.9 661.5 817.9 662.5 818.0 663.5 818.0 664.5 818.0 665.5 818.0 666.5 818.1 667.5 818.1 668.5 818.2 669.5 818.2 670.5 818.3 671.5 818.4 672.5 818.4 673.5 818.5 674.5 818.6 675.5 818.7 676.5 818.8 677.5 818.8 678.5 818.9 679.5 819.0 680.5 819.1 681.5 819.2 682.5 819.3 683.5 819.4 684.5 819.5 685.5 819.6 686.5 819.7 687.5 819.8 688.5 819.9 689.5 820.0 690.5 820.1 691.5 820.2 692.5 820.3 693.5 820.4 694.5 820.5 695.5 820.6 696.5 820.8 697.5 820.9 698.5 821.0 699.5 821.2 700.5 821.3 701.5 821.5 702.5 821.6 703.5 821.8 704.5 821.9 705.5 822.1 706.5 822.3 707.5 822.4 708.5 822.6 709.5 822.7 710.5 822.9 711.5 823.0 712.5 823.2 713.5 823.3 714.5 823.4 715.5 823.5 716.5 823.7 717.5 823.8 718.5 823.9 719.5 824.0 720.5 824.1 721.5 824.2 722.5 824.2 723.5 824.3 724.5 824.3 725.5 824.4 726.5 824.4 727.5 824.5 728.5 824.5 729.5 824.6 730.5 824.6 731.5 824.6 732.5 824.7 733.5 824.7 734.5 824.7 735.5 824.7 736.5 824.8 737.5 824.8 738.5 824.8 739.5 824.8 740.5 824.9 741.5 824.9 742.5 824.9 743.5 824.9 744.5 825.0 745.5 825.0 746.5 825.0 747.5 825.0 748.5 825.0 749.5 825.0 750.5 825.1 751.5 825.1 752.5 825.1 753.5 825.1 754.5 825.1 755.5 825.1 756.5 825.2 757.5 825.2 758.5 825.2 759.5 825.2 760.5 825.2 761.5 825.2 762.5 825.2 763.5 825.2 764.5 825.3 765.5 825.3 766.5 825.3 767.5 825.3 768.5 825.3 769.5 825.3 770.5 825.3 771.5 825.3 772.5 825.3 773.5 825.4 774.5 825.4 775.5 825.4 776.5 825.4 777.5 825.4 778.5 825.4 779.5 825.4 780.5 825.4 781.5 825.4 782.5 825.4 783.5 825.4 784.5 825.4 785.5 825.5 786.5 825.5 787.5 825.5 788.5 825.5 789.5 825.5 790.5 825.5 791.5 825.5 792.5 825.5 793.5 825.5 794.5 825.5 795.5 825.5 796.5 825.5" fill="none" stroke="#44d62c" stroke-width="1.4" stroke-linejoin="round" />
<path d="M546.5 818.0L548.5 818.3 550.5 818.0 552.5 817.4 554.5 817.2 556.5 817.7 558.5 818.1 560.5 817.9 562.5 817.8 564.5 817.8 566.5 817.8 568.5 817.9 570.5 817.3 572.5 817.4 574.5 816.9 576.5 817.6 578.5 817.4 580.5 817.4 582.5 817.2 584.5 817.0 586.5 817.0 588.5 816.5 590.5 816.7 592.5 816.9 594.5 817.3 596.5 817.0 598.5 816.6 600.5 815.8 602.5 815.1 604.5 814.1 606.5 813.3 608.5 812.0 610.5 810.5 612.5 809.1 614.5 808.0 616.5 806.8 618.5 806.0 620.5 804.9 622.5 804.5 624.5 803.5 626.5 803.0 628.5 802.2 630.5 801.4 632.5 800.8 634.5 800.2 636.5 800.5 638.5 800.2 640.5 799.9 642.5 799.4 644.5 799.3 646.5 799.5 648.5 799.6 650.5 799.6 652.5 799.2 654.5 798.5 656.5 796.8 658.5 796.0 660.5 794.6 662.5 792.8 664.5 789.3 666.5 786.1 668.5 782.4 670.5 778.0 672.5 773.6 674.5 769.7 676.5 766.9 678.5 764.8 680.5 761.8 682.5 757.9 684.5 752.4 686.5 747.2 688.5 740.7 690.5 734.8 692.5 729.3 694.5 723.6 696.5 715.5 698.5 706.6 700.5 697.3 702.5 687.9 704.5 679.7 706.5 675.2 708.5 675.6 710.5 680.9 712.5 687.2 714.5 695.9 716.5 706.1 718.5 718.2 720.5 730.1 722.5 742.1 724.5 754.4 726.5 766.3 728.5 777.1 730.5 786.9 732.5 794.8 734.5 800.9 736.5 806.2 738.5 811.3 740.5 815.3 742.5 818.0 744.5 819.7 746.5 821.4 748.5 822.4 750.5 822.8 752.5 823.0 754.5 823.5 756.5 823.6 758.5 824.3 760.5 824.4 762.5 825.0 764.5 825.4 766.5 825.8 768.5 825.6 770.5 825.5 772.5 825.5 774.5 825.7 776.5 825.4 778.5 825.2 780.5 825.0 782.5 825.6 784.5 825.1 786.5 825.3 788.5 824.9 790.5 825.4 792.5 825.7 794.5 825.8 796.5 825.8" fill="none" stroke="#e8141a" stroke-width="1.0" stroke-linejoin="round" />
<path d="M546.5 817.4L547.5 817.4 548.5 817.4 549.5 817.4 550.5 817.4 551.5 817.4 552.5 817.4 553.5 817.4 554.5 817.4 555.5 817.4 556.5 817.4 557.5 817.4 558.5 817.4 559.5 817.4 560.5 817.4 561.5 817.4 562.5 817.4 563.5 817.3 564.5 817.3 565.5 817.3 566.5 817.3 567.5 817.3 568.5 817.3 569.5 817.3 570.5 817.3 571.5 817.3 572.5 817.3 573.5 817.2 574.5 817.2 575.5 817.2 576.5 817.2 577.5 817.2 578.5 817.2 579.5 817.2 580.5 817.1 581.5 817.1 582.5 817.1 583.5 817.1 584.5 817.1 585.5 817.0 586.5 817.0 587.5 817.0 588.5 817.0 589.5 816.9 590.5 816.9 591.5 816.9 592.5 816.9 593.5 816.8 594.5 816.8 595.5 816.7 596.5 816.5 597.5 816.2 598.5 815.9 599.5 815.6 600.5 815.3 601.5 815.0 602.5 814.6 603.5 814.2 604.5 813.8 605.5 813.3 606.5 812.7 607.5 812.1 608.5 811.5 609.5 810.8 610.5 810.2 611.5 809.6 612.5 809.0 613.5 808.4 614.5 807.8 615.5 807.3 616.5 806.7 617.5 806.2 618.5 805.7 619.5 805.2 620.5 804.7 621.5 804.3 622.5 804.0 623.5 803.7 624.5 803.4 625.5 803.1 626.5 802.8 627.5 802.4 628.5 802.0 629.5 801.5 630.5 801.0 631.5 800.6 632.5 800.2 633.5 799.8 634.5 799.6 635.5 799.4 636.5 799.4 637.5 799.3 638.5 799.3 639.5 799.3 640.5 799.2 641.5 799.2 642.5 799.2 643.5 799.2 644.5 799.2 645.5 799.2 646.5 799.2 647.5 799.2 648.5 799.3 649.5 799.3 650.5 799.4 651.5 799.4 652.5 799.4 653.5 799.2 654.5 798.7 655.5 798.1 656.5 797.4 657.5 796.7 658.5 796.1 659.5 795.5 660.5 794.9 661.5 794.0 662.5 792.7 663.5 791.1 664.5 789.4 665.5 787.7 666.5 786.0 667.5 784.2 668.5 782.4 669.5 780.4 670.5 778.4 671.5 776.2 672.5 774.2 673.5 772.2 674.5 770.4 675.5 768.9 676.5 767.5 677.5 766.2 678.5 764.9 679.5 763.4 680.5 761.6 681.5 759.6 682.5 757.4 683.5 755.0 684.5 752.5 685.5 749.8 686.5 747.0 687.5 744.0 688.5 740.8 689.5 737.6 690.5 734.6 691.5 731.8 692.5 729.0 693.5 726.2 694.5 722.9 695.5 719.1 696.5 714.8 697.5 710.3 698.5 705.9 699.5 701.6 700.5 697.2 701.5 692.6 702.5 687.7 703.5 683.2 704.5 679.6 705.5 676.7 706.5 674.7 707.5 674.2 708.5 675.3 709.5 677.4 710.5 680.1 711.5 683.3 712.5 687.0 713.5 691.2 714.5 695.7 715.5 700.7 716.5 706.2 717.5 711.9 718.5 717.9 719.5 723.9 720.5 729.9 721.5 736.0 722.5 742.2 723.5 748.4 724.5 754.7 725.5 760.7 726.5 766.4 727.5 771.6 728.5 776.6 729.5 781.3 730.5 785.9 731.5 790.1 732.5 794.1 733.5 797.6 734.5 800.8 735.5 803.8 736.5 806.4 737.5 808.8 738.5 811.1 739.5 813.2 740.5 815.1 741.5 816.7 742.5 817.9 743.5 818.8 744.5 819.6 745.5 820.3 746.5 820.9 747.5 821.4 748.5 821.9 749.5 822.3 750.5 822.7 751.5 823.0 752.5 823.3 753.5 823.6 754.5 823.9 755.5 824.1 756.5 824.3 757.5 824.4 758.5 824.5 759.5 824.5 760.5 824.6 761.5 824.6 762.5 824.7 763.5 824.7 764.5 824.8 765.5 824.8 766.5 824.9 767.5 824.9 768.5 825.0 769.5 825.0 770.5 825.0 771.5 825.1 772.5 825.1 773.5 825.1 774.5 825.2 775.5 825.2 776.5 825.2 777.5 825.3 778.5 825.3 779.5 825.3 780.5 825.3 781.5 825.3 782.5 825.4 783.5 825.4 784.5 825.4 785.5 825.4 786.5 825.4 787.5 825.4 788.5 825.5 789.5 825.5 790.5 825.5 791.5 825.5 792.5 825.5 793.5 825.5 794.5 825.5 795.5 825.5 796.5 825.5" fill="none" stroke="#2622cc" stroke-width="1.05" stroke-linejoin="round" />
<text x="162.5" y="664.6" font-family="&quot;Liberation Sans&quot;, sans-serif" font-size="7.60" font-weight="normal" fill="#222" stroke="#222" stroke-width="0.06" textLength="48.0" lengthAdjust="spacingAndGlyphs" text-anchor="start">Fe2p3</text>
<text x="138.0" y="680.6" font-family="&quot;Liberation Sans&quot;, sans-serif" font-size="7.60" font-weight="normal" fill="#222" stroke="#222" stroke-width="0.06" textLength="48.1" lengthAdjust="spacingAndGlyphs" text-anchor="start">Fe2p3</text>
<text x="109.0" y="710.6" font-family="&quot;Liberation Sans&quot;, sans-serif" font-size="7.60" font-weight="normal" fill="#222" stroke="#222" stroke-width="0.06" textLength="48.1" lengthAdjust="spacingAndGlyphs" text-anchor="start">Fe2p3</text>
<text x="199.8" y="774.5" font-family="&quot;Liberation Sans&quot;, sans-serif" font-size="7.60" font-weight="normal" fill="#222" stroke="#222" stroke-width="0.06" textLength="48.0" lengthAdjust="spacingAndGlyphs" text-anchor="start">Fe2p3</text>
<line x1="232.0" y1="785.5" x2="238.5" y2="783.1" stroke="#333" stroke-width="0.8"/>
<polygon points="242.6,781.5 239.2,784.9 237.8,781.3" fill="#333"/>
<ellipse cx="324.1" cy="796.2" rx="14.9" ry="13.1" fill="none" stroke="#1f72c2" stroke-width="2.0"/>
<text x="324.3" y="798.9" font-family="&quot;Liberation Sans&quot;, sans-serif" font-size="7.00" font-weight="normal" fill="#222" stroke="#222" stroke-width="0.06" textLength="23.5" lengthAdjust="spacingAndGlyphs" text-anchor="middle">Sb3d3</text>
<polyline points="334.9,809.2 362.0,802.3" fill="none" stroke="#111" stroke-width="1.0"/>
<line x1="362.0" y1="802.3" x2="350.5" y2="799.5" stroke="#111" stroke-width="1.0"/>
<polygon points="341.4,797.3 351.6,795.0 349.4,804.0" fill="#111"/>
<ellipse cx="419.1" cy="677.3" rx="14.9" ry="13.3" fill="none" stroke="#1f72c2" stroke-width="2.0"/>
<text x="419.3" y="680.9" font-family="&quot;Liberation Sans&quot;, sans-serif" font-size="9.60" font-weight="normal" fill="#1a1a1a" stroke="#1a1a1a" stroke-width="0.05" textLength="26.5" lengthAdjust="spacingAndGlyphs" text-anchor="middle">Sb3d5</text>
<line x1="482.4" y1="677.3" x2="451.6" y2="677.8" stroke="#111" stroke-width="1.0"/>
<polygon points="442.3,678.0 451.6,673.3 451.7,682.4" fill="#111"/>
<text x="481.3" y="663.9" font-family="&quot;Liberation Sans&quot;, sans-serif" font-size="7.40" font-weight="normal" fill="#1a1a1a" stroke="#1a1a1a" stroke-width="0.06" textLength="15.2" lengthAdjust="spacingAndGlyphs" text-anchor="start">O1s</text>
<line x1="487.8" y1="688.8" x2="489.9" y2="674.2" stroke="#111" stroke-width="1.0"/>
<polygon points="491.0,666.0 494.1,674.8 485.6,673.6" fill="#111"/>
<text x="456.0" y="731.1" font-family="&quot;Liberation Sans&quot;, sans-serif" font-size="7.40" font-weight="normal" fill="#1a1a1a" stroke="#1a1a1a" stroke-width="0.06" textLength="15.0" lengthAdjust="spacingAndGlyphs" text-anchor="start">O1s</text>
<line x1="460.7" y1="774.5" x2="460.7" y2="744.4" stroke="#111" stroke-width="1.0"/>
<polygon points="460.7,735.4 465.2,744.4 456.2,744.4" fill="#111"/>
<text x="486.7" y="789.2" font-family="&quot;Liberation Sans&quot;, sans-serif" font-size="10.00" font-weight="normal" fill="#1a1a1a" stroke="#1a1a1a" stroke-width="0.05" textLength="16.9" lengthAdjust="spacingAndGlyphs" text-anchor="start">O1s</text>
<line x1="493.2" y1="812.5" x2="493.2" y2="798.7" stroke="#111" stroke-width="1.0"/>
<polygon points="493.2,789.7 497.7,798.7 488.7,798.7" fill="#111"/>
<text x="616.0" y="793.0" font-family="&quot;Liberation Sans&quot;, sans-serif" font-size="7.60" font-weight="normal" fill="#1a1a1a" stroke="#1a1a1a" stroke-width="0.06" textLength="19.5" lengthAdjust="spacingAndGlyphs" text-anchor="start">C1s</text>
<line x1="627.9" y1="809.2" x2="625.8" y2="800.6" stroke="#111" stroke-width="1.0"/>
<polygon points="623.6,791.8 630.1,799.5 621.4,801.6" fill="#111"/>
<text x="635.0" y="787.5" font-family="&quot;Liberation Sans&quot;, sans-serif" font-size="7.60" font-weight="normal" fill="#1a1a1a" stroke="#1a1a1a" stroke-width="0.06" textLength="20.0" lengthAdjust="spacingAndGlyphs" text-anchor="start">C1s</text>
<line x1="648.5" y1="804.9" x2="646.0" y2="799.9" stroke="#111" stroke-width="1.0"/>
<polygon points="642.0,791.8 650.0,797.9 642.0,801.9" fill="#111"/>
<text x="667.6" y="756.0" font-family="&quot;Liberation Sans&quot;, sans-serif" font-size="7.60" font-weight="normal" fill="#1a1a1a" stroke="#1a1a1a" stroke-width="0.06" textLength="20.2" lengthAdjust="spacingAndGlyphs" text-anchor="start">C1s</text>
<line x1="678.9" y1="778.8" x2="675.3" y2="767.9" stroke="#111" stroke-width="1.0"/>
<polygon points="672.4,759.3 679.5,766.4 671.0,769.3" fill="#111"/>
<text x="699.0" y="666.0" font-family="&quot;Liberation Sans&quot;, sans-serif" font-size="7.60" font-weight="normal" fill="#1a1a1a" stroke="#1a1a1a" stroke-width="0.06" textLength="19.5" lengthAdjust="spacingAndGlyphs" text-anchor="start">C1s</text>
<line x1="707.5" y1="675.0" x2="707.3" y2="672.7" stroke="#111" stroke-width="1.0"/>
<polygon points="706.6,665.0 711.4,672.3 703.2,673.0" fill="#111"/></svg>
</body></html>
